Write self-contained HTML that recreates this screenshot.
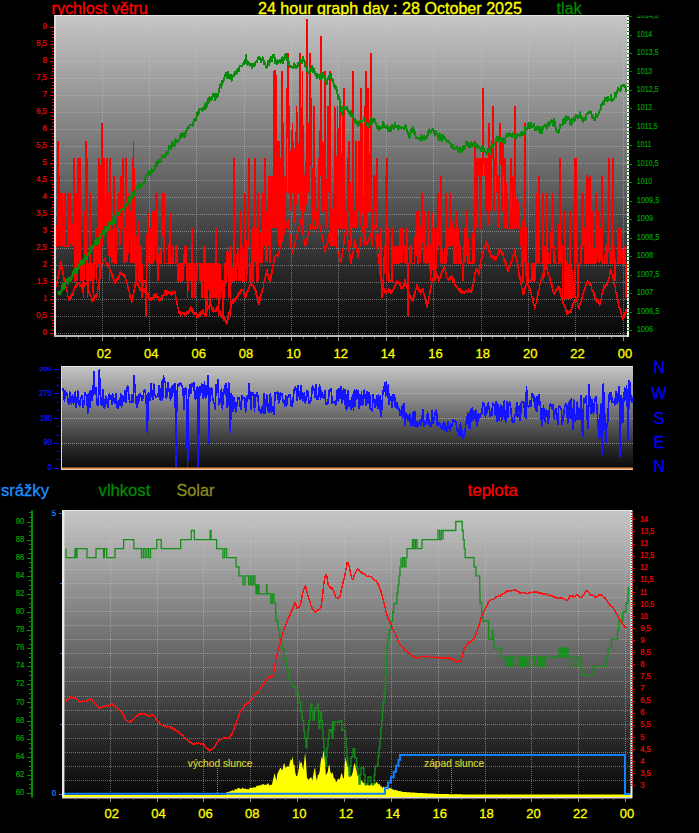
<!DOCTYPE html>
<html lang="cs"><head><meta charset="utf-8"><title>24 hour graph</title><style>html,body{margin:0;padding:0;background:#000;overflow:hidden}svg{display:block}</style></head><body>
<svg width="699" height="833" viewBox="0 0 699 833" font-family="Liberation Sans, Arial, Helvetica, sans-serif">
<defs>
<linearGradient id="g1" x1="0" y1="0" x2="0" y2="1"><stop offset="0" stop-color="#c6c6c6"/><stop offset="0.5" stop-color="#666666"/><stop offset="0.8" stop-color="#282828"/><stop offset="1" stop-color="#060606"/></linearGradient>
</defs>
<rect width="699" height="833" fill="#000"/>
<rect x="54" y="15" width="575" height="322" fill="url(#g1)"/>
<rect x="54" y="15" width="575" height="1" fill="#e4e4e4"/>
<line x1="56" x2="627" y1="333.5" y2="333.5" stroke="#c8c8c8" stroke-opacity="0.48" stroke-width="1" stroke-dasharray="1,1" shape-rendering="crispEdges"/>
<line x1="56" x2="627" y1="316.5" y2="316.5" stroke="#c8c8c8" stroke-opacity="0.48" stroke-width="1" stroke-dasharray="1,1" shape-rendering="crispEdges"/>
<line x1="56" x2="627" y1="299.5" y2="299.5" stroke="#c8c8c8" stroke-opacity="0.48" stroke-width="1" stroke-dasharray="1,1" shape-rendering="crispEdges"/>
<line x1="56" x2="627" y1="282.5" y2="282.5" stroke="#c8c8c8" stroke-opacity="0.48" stroke-width="1" stroke-dasharray="1,1" shape-rendering="crispEdges"/>
<line x1="56" x2="627" y1="265.5" y2="265.5" stroke="#c8c8c8" stroke-opacity="0.48" stroke-width="1" stroke-dasharray="1,1" shape-rendering="crispEdges"/>
<line x1="56" x2="627" y1="248.5" y2="248.5" stroke="#c8c8c8" stroke-opacity="0.48" stroke-width="1" stroke-dasharray="1,1" shape-rendering="crispEdges"/>
<line x1="56" x2="627" y1="231.5" y2="231.5" stroke="#c8c8c8" stroke-opacity="0.48" stroke-width="1" stroke-dasharray="1,1" shape-rendering="crispEdges"/>
<line x1="56" x2="627" y1="214.5" y2="214.5" stroke="#c8c8c8" stroke-opacity="0.48" stroke-width="1" stroke-dasharray="1,1" shape-rendering="crispEdges"/>
<line x1="56" x2="627" y1="197.5" y2="197.5" stroke="#c8c8c8" stroke-opacity="0.48" stroke-width="1" stroke-dasharray="1,1" shape-rendering="crispEdges"/>
<line x1="56" x2="627" y1="180.5" y2="180.5" stroke="#c8c8c8" stroke-opacity="0.48" stroke-width="1" stroke-dasharray="1,1" shape-rendering="crispEdges"/>
<line x1="56" x2="627" y1="163.5" y2="163.5" stroke="#c8c8c8" stroke-opacity="0.48" stroke-width="1" stroke-dasharray="1,1" shape-rendering="crispEdges"/>
<line x1="56" x2="627" y1="146.5" y2="146.5" stroke="#c8c8c8" stroke-opacity="0.48" stroke-width="1" stroke-dasharray="1,1" shape-rendering="crispEdges"/>
<line x1="56" x2="627" y1="129.5" y2="129.5" stroke="#c8c8c8" stroke-opacity="0.48" stroke-width="1" stroke-dasharray="1,1" shape-rendering="crispEdges"/>
<line x1="56" x2="627" y1="112.5" y2="112.5" stroke="#c8c8c8" stroke-opacity="0.48" stroke-width="1" stroke-dasharray="1,1" shape-rendering="crispEdges"/>
<line x1="56" x2="627" y1="95.5" y2="95.5" stroke="#c8c8c8" stroke-opacity="0.48" stroke-width="1" stroke-dasharray="1,1" shape-rendering="crispEdges"/>
<line x1="56" x2="627" y1="78.5" y2="78.5" stroke="#c8c8c8" stroke-opacity="0.48" stroke-width="1" stroke-dasharray="1,1" shape-rendering="crispEdges"/>
<line x1="56" x2="627" y1="61.5" y2="61.5" stroke="#c8c8c8" stroke-opacity="0.48" stroke-width="1" stroke-dasharray="1,1" shape-rendering="crispEdges"/>
<line x1="56" x2="627" y1="44.5" y2="44.5" stroke="#c8c8c8" stroke-opacity="0.48" stroke-width="1" stroke-dasharray="1,1" shape-rendering="crispEdges"/>
<line x1="56" x2="627" y1="27.5" y2="27.5" stroke="#c8c8c8" stroke-opacity="0.48" stroke-width="1" stroke-dasharray="1,1" shape-rendering="crispEdges"/>
<line y1="16" y2="335" x1="102.5" x2="102.5" stroke="#c8c8c8" stroke-opacity="0.48" stroke-width="1" stroke-dasharray="1,1" shape-rendering="crispEdges"/>
<line y1="16" y2="335" x1="149.5" x2="149.5" stroke="#c8c8c8" stroke-opacity="0.48" stroke-width="1" stroke-dasharray="1,1" shape-rendering="crispEdges"/>
<line y1="16" y2="335" x1="196.5" x2="196.5" stroke="#c8c8c8" stroke-opacity="0.48" stroke-width="1" stroke-dasharray="1,1" shape-rendering="crispEdges"/>
<line y1="16" y2="335" x1="244.5" x2="244.5" stroke="#c8c8c8" stroke-opacity="0.48" stroke-width="1" stroke-dasharray="1,1" shape-rendering="crispEdges"/>
<line y1="16" y2="335" x1="291.5" x2="291.5" stroke="#c8c8c8" stroke-opacity="0.48" stroke-width="1" stroke-dasharray="1,1" shape-rendering="crispEdges"/>
<line y1="16" y2="335" x1="338.5" x2="338.5" stroke="#c8c8c8" stroke-opacity="0.48" stroke-width="1" stroke-dasharray="1,1" shape-rendering="crispEdges"/>
<line y1="16" y2="335" x1="386.5" x2="386.5" stroke="#c8c8c8" stroke-opacity="0.48" stroke-width="1" stroke-dasharray="1,1" shape-rendering="crispEdges"/>
<line y1="16" y2="335" x1="433.5" x2="433.5" stroke="#c8c8c8" stroke-opacity="0.48" stroke-width="1" stroke-dasharray="1,1" shape-rendering="crispEdges"/>
<line y1="16" y2="335" x1="481.5" x2="481.5" stroke="#c8c8c8" stroke-opacity="0.48" stroke-width="1" stroke-dasharray="1,1" shape-rendering="crispEdges"/>
<line y1="16" y2="335" x1="528.5" x2="528.5" stroke="#c8c8c8" stroke-opacity="0.48" stroke-width="1" stroke-dasharray="1,1" shape-rendering="crispEdges"/>
<line y1="16" y2="335" x1="575.5" x2="575.5" stroke="#c8c8c8" stroke-opacity="0.48" stroke-width="1" stroke-dasharray="1,1" shape-rendering="crispEdges"/>
<line y1="16" y2="335" x1="623.5" x2="623.5" stroke="#c8c8c8" stroke-opacity="0.48" stroke-width="1" stroke-dasharray="1,1" shape-rendering="crispEdges"/>
<polyline fill="none" stroke="#ff0000" stroke-width="1.6" stroke-linejoin="miter" shape-rendering="crispEdges" points="55.4,228.3 56,245.8 56.6,245.8 57.2,245.8 57.8,140.9 58.4,245.8 59,175.9 59.6,228.3 60.2,193.4 60.8,245.8 61.4,193.4 61.9,193.4 62.5,245.8 63.1,228.3 63.7,245.8 64.3,245.8 64.9,193.4 65.5,245.8 66.1,245.8 66.7,245.8 67.3,245.8 67.9,193.4 68.5,245.8 69.1,245.8 69.7,245.8 70.3,193.4 70.9,210.8 71.5,210.8 72.1,245.8 72.7,228.3 73.3,245.8 73.9,158.4 74.5,245.8 75,280.8 75.6,280.8 76.2,193.4 76.8,280.8 77.4,263.3 78,158.4 78.6,245.8 79.2,263.3 79.8,158.4 80.4,263.3 81,280.8 81.6,263.3 82.2,263.3 82.8,263.3 83.4,298.2 84,263.3 84.6,263.3 85.2,228.3 85.8,140.9 86.4,280.8 87,158.4 87.6,298.2 88.1,280.8 88.7,263.3 89.3,280.8 89.9,193.4 90.5,280.8 91.1,263.3 91.7,263.3 92.3,280.8 92.9,280.8 93.5,298.2 94.1,245.8 94.7,263.3 95.3,245.8 95.9,228.3 96.5,280.8 97.1,245.8 97.7,263.3 98.3,263.3 98.9,158.4 99.5,298.2 100.1,245.8 100.7,228.3 101.2,175.9 101.8,123.4 102.4,245.8 103,193.4 103.6,193.4 104.2,158.4 104.8,210.8 105.4,228.3 106,228.3 106.6,193.4 107.2,158.4 107.8,245.8 108.4,193.4 109,228.3 109.6,280.8 110.2,158.4 110.8,228.3 111.4,193.4 112,263.3 112.6,245.8 113.2,263.3 113.8,175.9 114.3,245.8 114.9,263.3 115.5,263.3 116.1,263.3 116.7,228.3 117.3,245.8 117.9,210.8 118.5,228.3 119.1,193.4 119.7,245.8 120.3,210.8 120.9,175.9 121.5,210.8 122.1,228.3 122.7,228.3 123.3,158.4 123.9,263.3 124.5,228.3 125.1,263.3 125.7,228.3 126.3,158.4 126.8,245.8 127.4,263.3 128,245.8 128.6,193.4 129.2,228.3 129.8,210.8 130.4,245.8 131,263.3 131.6,228.3 132.2,245.8 132.8,263.3 133.4,140.9 134,193.4 134.6,263.3 135.2,210.8 135.8,280.8 136.4,263.3 137,263.3 137.6,210.8 138.2,263.3 138.8,280.8 139.4,210.8 139.9,280.8 140.5,280.8 141.1,245.8 141.7,263.3 142.3,298.2 142.9,280.8 143.5,280.8 144.1,280.8 144.7,280.8 145.3,280.8 145.9,315.7 146.5,280.8 147.1,245.8 147.7,210.8 148.3,263.3 148.9,228.3 149.5,245.8 150.1,228.3 150.7,263.3 151.3,263.3 151.9,263.3 152.5,210.8 153,245.8 153.6,263.3 154.2,245.8 154.8,210.8 155.4,245.8 156,193.4 156.6,263.3 157.2,193.4 157.8,280.8 158.4,263.3 159,263.3 159.6,245.8 160.2,263.3 160.8,263.3 161.4,263.3 162,210.8 162.6,193.4 163.2,210.8 163.8,193.4 164.4,263.3 165,263.3 165.6,263.3 166.1,263.3 166.7,263.3 167.3,263.3 167.9,263.3 168.5,263.3 169.1,263.3 169.7,210.8 170.3,263.3 170.9,263.3 171.5,263.3 172.1,263.3 172.7,245.8 173.3,263.3 173.9,263.3 174.5,263.3 175.1,263.3 175.7,263.3 176.3,245.8 176.9,245.8 177.5,263.3 178.1,280.8 178.7,280.8 179.2,263.3 179.8,263.3 180.4,263.3 181,280.8 181.6,280.8 182.2,263.3 182.8,280.8 183.4,263.3 184,263.3 184.6,245.8 185.2,263.3 185.8,245.8 186.4,263.3 187,263.3 187.6,298.2 188.2,263.3 188.8,263.3 189.4,263.3 190,280.8 190.6,263.3 191.2,280.8 191.8,228.3 192.3,298.2 192.9,263.3 193.5,280.8 194.1,263.3 194.7,263.3 195.3,298.2 195.9,263.3 196.5,263.3 197.1,280.8 197.7,263.3 198.3,263.3 198.9,263.3 199.5,263.3 200.1,280.8 200.7,263.3 201.3,263.3 201.9,298.2 202.5,263.3 203.1,280.8 203.7,263.3 204.3,245.8 204.8,298.2 205.4,245.8 206,315.7 206.6,315.7 207.2,263.3 207.8,280.8 208.4,280.8 209,263.3 209.6,315.7 210.2,263.3 210.8,263.3 211.4,298.2 212,263.3 212.6,280.8 213.2,298.2 213.8,263.3 214.4,263.3 215,298.2 215.6,263.3 216.2,228.3 216.8,298.2 217.4,280.8 217.9,263.3 218.5,315.7 219.1,280.8 219.7,263.3 220.3,298.2 220.9,280.8 221.5,280.8 222.1,280.8 222.7,315.7 223.3,315.7 223.9,280.8 224.5,298.2 225.1,263.3 225.7,280.8 226.3,280.8 226.9,263.3 227.5,245.8 228.1,263.3 228.7,298.2 229.3,263.3 229.9,245.8 230.5,315.7 231,245.8 231.6,263.3 232.2,280.8 232.8,280.8 233.4,280.8 234,158.4 234.6,280.8 235.2,263.3 235.8,280.8 236.4,263.3 237,263.3 237.6,245.8 238.2,263.3 238.8,280.8 239.4,263.3 240,280.8 240.6,245.8 241.2,210.8 241.8,280.8 242.4,245.8 243,280.8 243.6,280.8 244.1,280.8 244.7,193.4 245.3,228.3 245.9,245.8 246.5,280.8 247.1,263.3 247.7,245.8 248.3,245.8 248.9,158.4 249.5,280.8 250.1,280.8 250.7,280.8 251.3,263.3 251.9,228.3 252.5,280.8 253.1,280.8 253.7,263.3 254.3,228.3 254.9,158.4 255.5,263.3 256.1,228.3 256.7,280.8 257.2,280.8 257.8,193.4 258.4,280.8 259,245.8 259.6,263.3 260.2,245.8 260.8,263.3 261.4,228.3 262,228.3 262.6,263.3 263.2,193.4 263.8,228.3 264.4,245.8 265,158.4 265.6,263.3 266.2,210.8 266.8,245.8 267.4,263.3 268,228.3 268.6,245.8 269.2,175.9 269.8,228.3 270.3,263.3 270.9,175.9 271.5,210.8 272.1,228.3 272.7,175.9 273.3,210.8 273.9,71 274.5,228.3 275.1,71 275.7,71 276.3,228.3 276.9,140.9 277.5,228.3 278.1,228.3 278.7,245.8 279.3,140.9 279.9,228.3 280.5,245.8 281.1,158.4 281.7,245.8 282.3,71 282.8,193.4 283.4,123.4 284,228.3 284.6,210.8 285.2,210.8 285.8,175.9 286.4,193.4 287,88.5 287.6,88.5 288.2,53.5 288.8,193.4 289.4,106 290,193.4 290.6,175.9 291.2,210.8 291.8,175.9 292.4,123.4 293,193.4 293.6,140.9 294.2,175.9 294.8,193.4 295.4,228.3 295.9,193.4 296.5,106 297.1,123.4 297.7,140.9 298.3,193.4 298.9,193.4 299.5,193.4 300.1,53.5 300.7,210.8 301.3,140.9 301.9,193.4 302.5,71 303.1,228.3 303.7,175.9 304.3,175.9 304.9,210.8 305.5,210.8 306.1,193.4 306.7,106 307.3,18.6 307.9,193.4 308.5,123.4 309,123.4 309.6,193.4 310.2,53.5 310.8,106 311.4,123.4 312,210.8 312.6,210.8 313.2,228.3 313.8,106 314.4,140.9 315,210.8 315.6,228.3 316.2,228.3 316.8,210.8 317.4,228.3 318,210.8 318.6,210.8 319.2,158.4 319.8,175.9 320.4,123.4 321,36 321.6,210.8 322.1,210.8 322.7,140.9 323.3,193.4 323.9,210.8 324.5,193.4 325.1,71 325.7,193.4 326.3,210.8 326.9,228.3 327.5,158.4 328.1,106 328.7,193.4 329.3,106 329.9,71 330.5,210.8 331.1,245.8 331.7,228.3 332.3,210.8 332.9,245.8 333.5,193.4 334.1,245.8 334.7,106 335.2,140.9 335.8,158.4 336.4,245.8 337,228.3 337.6,106 338.2,228.3 338.8,228.3 339.4,123.4 340,106 340.6,228.3 341.2,228.3 341.8,228.3 342.4,140.9 343,106 343.6,210.8 344.2,88.5 344.8,228.3 345.4,228.3 346,228.3 346.6,228.3 347.2,228.3 347.7,158.4 348.3,210.8 348.9,140.9 349.5,158.4 350.1,228.3 350.7,245.8 351.3,245.8 351.9,193.4 352.5,228.3 353.1,71 353.7,228.3 354.3,210.8 354.9,228.3 355.5,210.8 356.1,140.9 356.7,210.8 357.3,228.3 357.9,193.4 358.5,210.8 359.1,140.9 359.7,228.3 360.3,175.9 360.8,88.5 361.4,210.8 362,123.4 362.6,193.4 363.2,210.8 363.8,228.3 364.4,245.8 365,106 365.6,210.8 366.2,71 366.8,228.3 367.4,158.4 368,88.5 368.6,140.9 369.2,210.8 369.8,210.8 370.4,193.4 371,53.5 371.6,228.3 372.2,245.8 372.8,210.8 373.4,210.8 373.9,175.9 374.5,175.9 375.1,210.8 375.7,175.9 376.3,228.3 376.9,158.4 377.5,228.3 378.1,245.8 378.7,245.8 379.3,245.8 379.9,263.3 380.5,280.8 381.1,228.3 381.7,280.8 382.3,298.2 382.9,280.8 383.5,280.8 384.1,263.3 384.7,245.8 385.3,263.3 385.9,175.9 386.5,280.8 387,158.4 387.6,228.3 388.2,228.3 388.8,280.8 389.4,280.8 390,280.8 390.6,280.8 391.2,280.8 391.8,280.8 392.4,228.3 393,263.3 393.6,263.3 394.2,263.3 394.8,245.8 395.4,263.3 396,245.8 396.6,263.3 397.2,263.3 397.8,263.3 398.4,245.8 399,263.3 399.6,263.3 400.1,228.3 400.7,245.8 401.3,263.3 401.9,245.8 402.5,263.3 403.1,228.3 403.7,245.8 404.3,245.8 404.9,263.3 405.5,245.8 406.1,263.3 406.7,263.3 407.3,228.3 407.9,315.7 408.5,263.3 409.1,263.3 409.7,263.3 410.3,245.8 410.9,245.8 411.5,263.3 412.1,263.3 412.6,263.3 413.2,263.3 413.8,263.3 414.4,263.3 415,245.8 415.6,228.3 416.2,245.8 416.8,210.8 417.4,263.3 418,263.3 418.6,245.8 419.2,210.8 419.8,228.3 420.4,263.3 421,245.8 421.6,245.8 422.2,193.4 422.8,228.3 423.4,245.8 424,263.3 424.6,210.8 425.2,228.3 425.7,263.3 426.3,263.3 426.9,245.8 427.5,263.3 428.1,245.8 428.7,210.8 429.3,263.3 429.9,245.8 430.5,280.8 431.1,263.3 431.7,210.8 432.3,263.3 432.9,245.8 433.5,280.8 434.1,228.3 434.7,263.3 435.3,280.8 435.9,263.3 436.5,263.3 437.1,228.3 437.7,228.3 438.3,193.4 438.8,245.8 439.4,210.8 440,228.3 440.6,263.3 441.2,175.9 441.8,263.3 442.4,263.3 443,263.3 443.6,263.3 444.2,263.3 444.8,263.3 445.4,245.8 446,193.4 446.6,263.3 447.2,228.3 447.8,228.3 448.4,245.8 449,245.8 449.6,228.3 450.2,193.4 450.8,245.8 451.4,210.8 451.9,228.3 452.5,245.8 453.1,228.3 453.7,263.3 454.3,263.3 454.9,228.3 455.5,263.3 456.1,263.3 456.7,210.8 457.3,245.8 457.9,228.3 458.5,228.3 459.1,263.3 459.7,263.3 460.3,245.8 460.9,263.3 461.5,263.3 462.1,263.3 462.7,263.3 463.3,280.8 463.9,245.8 464.5,263.3 465,228.3 465.6,263.3 466.2,228.3 466.8,210.8 467.4,210.8 468,263.3 468.6,263.3 469.2,245.8 469.8,263.3 470.4,263.3 471,263.3 471.6,263.3 472.2,263.3 472.8,263.3 473.4,228.3 474,263.3 474.6,193.4 475.2,140.9 475.8,210.8 476.4,158.4 477,228.3 477.6,158.4 478.1,175.9 478.7,158.4 479.3,175.9 479.9,158.4 480.5,228.3 481.1,228.3 481.7,158.4 482.3,175.9 482.9,88.5 483.5,158.4 484.1,158.4 484.7,175.9 485.3,158.4 485.9,210.8 486.5,158.4 487.1,158.4 487.7,228.3 488.3,158.4 488.9,123.4 489.5,228.3 490.1,158.4 490.6,210.8 491.2,158.4 491.8,140.9 492.4,158.4 493,106 493.6,175.9 494.2,210.8 494.8,158.4 495.4,175.9 496,140.9 496.6,175.9 497.2,193.4 497.8,175.9 498.4,175.9 499,228.3 499.6,175.9 500.2,123.4 500.8,140.9 501.4,158.4 502,210.8 502.6,175.9 503.2,140.9 503.7,175.9 504.3,158.4 504.9,228.3 505.5,158.4 506.1,228.3 506.7,193.4 507.3,228.3 507.9,228.3 508.5,228.3 509.1,228.3 509.7,228.3 510.3,228.3 510.9,158.4 511.5,175.9 512.1,193.4 512.7,175.9 513.3,228.3 513.9,228.3 514.5,228.3 515.1,106 515.7,210.8 516.3,210.8 516.8,228.3 517.4,193.4 518,210.8 518.6,210.8 519.2,228.3 519.8,228.3 520.4,228.3 521,245.8 521.6,210.8 522.2,263.3 522.8,280.8 523.4,280.8 524,245.8 524.6,263.3 525.2,123.4 525.8,245.8 526.4,280.8 527,263.3 527.6,280.8 528.2,263.3 528.8,280.8 529.4,280.8 529.9,280.8 530.5,280.8 531.1,280.8 531.7,280.8 532.3,263.3 532.9,280.8 533.5,263.3 534.1,280.8 534.7,280.8 535.3,263.3 535.9,263.3 536.5,193.4 537.1,263.3 537.7,263.3 538.3,245.8 538.9,175.9 539.5,263.3 540.1,263.3 540.7,263.3 541.3,263.3 541.9,263.3 542.5,263.3 543,193.4 543.6,280.8 544.2,263.3 544.8,245.8 545.4,263.3 546,263.3 546.6,263.3 547.2,193.4 547.8,263.3 548.4,263.3 549,263.3 549.6,263.3 550.2,263.3 550.8,245.8 551.4,228.3 552,245.8 552.6,193.4 553.2,245.8 553.8,263.3 554.4,245.8 555,263.3 555.5,263.3 556.1,263.3 556.7,263.3 557.3,263.3 557.9,263.3 558.5,263.3 559.1,263.3 559.7,158.4 560.3,245.8 560.9,263.3 561.5,245.8 562.1,245.8 562.7,298.2 563.3,298.2 563.9,298.2 564.5,298.2 565.1,210.8 565.7,298.2 566.3,298.2 566.9,298.2 567.5,245.8 568.1,298.2 568.6,298.2 569.2,298.2 569.8,210.8 570.4,298.2 571,298.2 571.6,263.3 572.2,298.2 572.8,280.8 573.4,298.2 574,280.8 574.6,298.2 575.2,158.4 575.8,158.4 576.4,263.3 577,210.8 577.6,263.3 578.2,298.2 578.8,263.3 579.4,263.3 580,263.3 580.6,263.3 581.2,263.3 581.7,193.4 582.3,245.8 582.9,193.4 583.5,245.8 584.1,245.8 584.7,228.3 585.3,263.3 585.9,263.3 586.5,263.3 587.1,175.9 587.7,175.9 588.3,263.3 588.9,263.3 589.5,263.3 590.1,175.9 590.7,245.8 591.3,263.3 591.9,263.3 592.5,263.3 593.1,210.8 593.7,263.3 594.3,263.3 594.8,263.3 595.4,245.8 596,193.4 596.6,263.3 597.2,210.8 597.8,228.3 598.4,263.3 599,210.8 599.6,263.3 600.2,228.3 600.8,245.8 601.4,263.3 602,175.9 602.6,263.3 603.2,263.3 603.8,263.3 604.4,263.3 605,263.3 605.6,245.8 606.2,245.8 606.8,263.3 607.4,263.3 607.9,245.8 608.5,228.3 609.1,158.4 609.7,263.3 610.3,263.3 610.9,263.3 611.5,245.8 612.1,263.3 612.7,158.4 613.3,263.3 613.9,263.3 614.5,245.8 615.1,280.8 615.7,263.3 616.3,263.3 616.9,263.3 617.5,263.3 618.1,228.3 618.7,263.3 619.3,263.3 619.9,263.3 620.5,228.3 621,228.3 621.6,245.8 622.2,263.3 622.8,263.3 623.4,263.3 624,263.3 624.6,263.3 625.2,245.8 625.8,298.2 626.4,263.3 627,263.3"/>
<polyline fill="none" stroke="#ff0000" stroke-width="1.5" stroke-linejoin="round" shape-rendering="crispEdges" points="55.4,287.8 55.8,285.7 56.2,286.7 56.6,285.1 57,281.9 57.4,279.9 57.8,279 58.2,276.6 58.6,276.6 59,272 59.4,269.7 59.8,270.1 60.2,264.9 60.6,264.6 61,261.5 61.4,265.2 61.8,266.1 62.1,269.1 62.5,268.7 62.9,272.9 63.3,274.7 63.7,276.2 64.1,279.6 64.5,281.9 64.9,281 65.3,283.6 65.7,285.7 66.1,286.8 66.5,288 66.9,290.7 67.3,292.1 67.7,296 68.1,296.7 68.5,297.1 68.9,299.8 69.3,300.3 69.7,299 70.1,297.4 70.5,296.2 70.9,295.2 71.3,298.5 71.7,296.7 72.1,293.1 72.5,295 72.9,295.3 73.3,292.6 73.7,289.7 74.1,290.3 74.5,289.1 74.9,287.1 75.2,287.6 75.6,284.3 76,287.2 76.4,285 76.8,283.9 77.2,285 77.6,284.1 78,282.8 78.4,283.1 78.8,282.9 79.2,282.8 79.6,286.2 80,286.8 80.4,284.9 80.8,284.7 81.2,286.9 81.6,288.1 82,288.8 82.4,285.3 82.8,287.6 83.2,287.4 83.6,286.8 84,284.7 84.4,283.8 84.8,286.1 85.2,283.7 85.6,283.6 86,284 86.4,283 86.8,284.6 87.2,282.5 87.6,283.1 87.9,286.7 88.3,288.4 88.7,290.6 89.1,291.6 89.5,293.8 89.9,295.4 90.3,295 90.7,296.4 91.1,296.4 91.5,298.4 91.9,301 92.3,298.9 92.7,300.9 93.1,298.3 93.5,299 93.9,300.7 94.3,296.5 94.7,295.8 95.1,297 95.5,295.5 95.9,297.3 96.3,293.8 96.7,296.8 97.1,295.9 97.5,292.9 97.9,288.6 98.3,285.2 98.7,284 99.1,280.6 99.5,277.4 99.9,274.3 100.3,272 100.7,270.1 101,268.3 101.4,267.8 101.8,263.9 102.2,263.7 102.6,263.5 103,263.2 103.4,261.5 103.8,260.1 104.2,258.8 104.6,259 105,258.9 105.4,261.8 105.8,262.3 106.2,263 106.6,264.2 107,264.9 107.4,264.3 107.8,265.9 108.2,263.5 108.6,266.9 109,267.4 109.4,266.9 109.8,268.9 110.2,271.4 110.6,270.6 111,272.5 111.4,272.3 111.8,273.6 112.2,277.1 112.6,274.7 113,276.6 113.4,279.8 113.8,280 114.1,279.7 114.5,283.3 114.9,283.3 115.3,283.7 115.7,282.3 116.1,282 116.5,281.5 116.9,280 117.3,278.1 117.7,277.7 118.1,279.9 118.5,277.8 118.9,275.2 119.3,277.6 119.7,274.3 120.1,272.9 120.5,274 120.9,272.1 121.3,273.3 121.7,274.1 122.1,273.2 122.5,275.1 122.9,273.6 123.3,275.8 123.7,276.6 124.1,274.9 124.5,276.8 124.9,275.8 125.3,277.9 125.7,280.1 126.1,279.4 126.5,281.7 126.8,283.5 127.2,282.4 127.6,287.6 128,288.1 128.4,287.1 128.8,291.7 129.2,291.5 129.6,292.1 130,297 130.4,297 130.8,299.4 131.2,298.3 131.6,302.6 132,301.1 132.4,299.6 132.8,297.8 133.2,294.1 133.6,294.2 134,290.3 134.4,288.4 134.8,287.8 135.2,284.4 135.6,284 136,280.6 136.4,282.4 136.8,282 137.2,284.4 137.6,285.1 138,283 138.4,286.3 138.8,285.5 139.2,288.2 139.6,288.8 139.9,290.3 140.3,287.5 140.7,288.7 141.1,290.4 141.5,291.4 141.9,290.6 142.3,287.9 142.7,290.3 143.1,288.4 143.5,290.4 143.9,291.6 144.3,288.8 144.7,292.4 145.1,291.4 145.5,289.8 145.9,289.7 146.3,291.5 146.7,294 147.1,293.8 147.5,292.7 147.9,293.2 148.3,294.5 148.7,298.3 149.1,296.6 149.5,299 149.9,298.8 150.3,300.6 150.7,298.9 151.1,297.6 151.5,300.4 151.9,298.6 152.3,298.9 152.7,299.1 153,299.3 153.4,295.1 153.8,296.1 154.2,295 154.6,296.1 155,297.4 155.4,296.7 155.8,293.2 156.2,294 156.6,297.3 157,297.3 157.4,296.7 157.8,297.6 158.2,296.9 158.6,300.4 159,299.1 159.4,301.7 159.8,301.2 160.2,298.9 160.6,299.3 161,298.2 161.4,300.4 161.8,298.5 162.2,295.6 162.6,295.5 163,295.7 163.4,295.5 163.8,295.3 164.2,293.9 164.6,293.1 165,291 165.4,293.3 165.8,292.3 166.1,291 166.5,292.8 166.9,295 167.3,291.1 167.7,291.5 168.1,293.7 168.5,292 168.9,292 169.3,293 169.7,292 170.1,293.3 170.5,293 170.9,294.7 171.3,294.8 171.7,290.7 172.1,292.8 172.5,293.6 172.9,294 173.3,293.5 173.7,292.8 174.1,292.7 174.5,291.5 174.9,291.1 175.3,294.7 175.7,297.1 176.1,299.5 176.5,300.5 176.9,301 177.3,305 177.7,307 178.1,308.1 178.5,310.7 178.8,311.6 179.2,313.3 179.6,312.8 180,311.5 180.4,312.7 180.8,312.8 181.2,315.7 181.6,313.7 182,313.3 182.4,312.9 182.8,313 183.2,313.6 183.6,312.8 184,312.4 184.4,316.1 184.8,314.5 185.2,314.5 185.6,315.2 186,314.2 186.4,313.1 186.8,312.1 187.2,312.5 187.6,312 188,313.2 188.4,311.9 188.8,313 189.2,309.9 189.6,311.8 190,309.8 190.4,307.1 190.8,307 191.2,308.6 191.6,310.9 191.9,308.8 192.3,311.2 192.7,310.3 193.1,312.8 193.5,310 193.9,312.3 194.3,314.7 194.7,312.6 195.1,313.2 195.5,312.8 195.9,314 196.3,315 196.7,317.4 197.1,315.7 197.5,316.1 197.9,314.8 198.3,316.1 198.7,316.8 199.1,315.5 199.5,313.2 199.9,315.1 200.3,315.7 200.7,313.7 201.1,311.2 201.5,313.8 201.9,313.7 202.3,311.1 202.7,309.8 203.1,309.8 203.5,312.1 203.9,314.3 204.3,314.1 204.7,316.1 205,313.7 205.4,313.4 205.8,314.4 206.2,313.1 206.6,311.3 207,311.7 207.4,309.5 207.8,307.5 208.2,308.2 208.6,305.8 209,307.5 209.4,305.5 209.8,305.4 210.2,305.7 210.6,304.9 211,306.4 211.4,305.2 211.8,309.7 212.2,308.8 212.6,311.2 213,307.9 213.4,310.9 213.8,312 214.2,311 214.6,310.6 215,311.5 215.4,310.4 215.8,311.8 216.2,307.8 216.6,309.6 217,306.8 217.4,307.8 217.8,308.7 218.1,309.3 218.5,310.4 218.9,310.9 219.3,310.5 219.7,312.9 220.1,311.6 220.5,314.2 220.9,315.2 221.3,315.9 221.7,314.7 222.1,317.3 222.5,318.6 222.9,316.9 223.3,316.6 223.7,318.1 224.1,320.4 224.5,317.5 224.9,317.4 225.3,319.8 225.7,321.1 226.1,322.1 226.5,320.8 226.9,323.9 227.3,319.8 227.7,320.5 228.1,316.2 228.5,314.4 228.9,313.4 229.3,311.6 229.7,311.9 230.1,310.6 230.5,307.5 230.8,309.2 231.2,305.3 231.6,302.9 232,301.6 232.4,303.5 232.8,303.8 233.2,300.1 233.6,299.1 234,301.7 234.4,299 234.8,301.6 235.2,299.1 235.6,299.2 236,297.5 236.4,299 236.8,297.1 237.2,295.9 237.6,297.7 238,293.8 238.4,295.8 238.8,292.3 239.2,294.1 239.6,292.5 240,293.8 240.4,289.8 240.8,291.2 241.2,289.9 241.6,291.5 242,290.9 242.4,290.5 242.8,289.9 243.2,291 243.6,292.1 243.9,293.9 244.3,294.1 244.7,295.1 245.1,297.8 245.5,296.3 245.9,294 246.3,296 246.7,291.8 247.1,292.3 247.5,289.7 247.9,291.7 248.3,290.8 248.7,287.4 249.1,288.5 249.5,287.8 249.9,284.6 250.3,283.9 250.7,283.6 251.1,284.8 251.5,282.3 251.9,285.1 252.3,285.3 252.7,285.3 253.1,286.5 253.5,288.3 253.9,286.1 254.3,289.5 254.7,287.9 255.1,290.4 255.5,292.1 255.9,290.7 256.3,294.9 256.7,296.9 257,295.3 257.4,295.6 257.8,297.3 258.2,302.3 258.6,299.7 259,304.6 259.4,299.8 259.8,300.7 260.2,296.4 260.6,295.1 261,295.7 261.4,291.6 261.8,291.1 262.2,291.9 262.6,289.5 263,288.6 263.4,287.4 263.8,281.9 264.2,281.1 264.6,281.9 265,279.8 265.4,275.5 265.8,275.9 266.2,273.2 266.6,272.4 267,269.5 267.4,270.5 267.8,276.1 268.2,274.9 268.6,278.8 269,277.2 269.4,280.4 269.8,280.5 270.1,281.9 270.5,278.6 270.9,278.5 271.3,274 271.7,274.3 272.1,271.1 272.5,267.2 272.9,266 273.3,264.4 273.7,263.9 274.1,259.3 274.5,256.5 274.9,257.5 275.3,256.8 275.7,256.4 276.1,254.8 276.5,254.6 276.9,255.3 277.3,254.7 277.7,254.9 278.1,256.7 278.5,254.5 278.9,253.4 279.3,250.8 279.7,247.6 280.1,248.7 280.5,246.8 280.9,244.6 281.3,242.9 281.7,241.7 282.1,241.2 282.5,239 282.8,236.6 283.2,233.9 283.6,232.4 284,231.7 284.4,233 284.8,229.4 285.2,228.3 285.6,227.3 286,225 286.4,227.5 286.8,222.2 287.2,223.6 287.6,223.9 288,220 288.4,224.7 288.8,226.9 289.2,229.5 289.6,232.5 290,235.3 290.4,241.6 290.8,244.5 291.2,248.2 291.6,247.8 292,253.6 292.4,250.9 292.8,250.8 293.2,249 293.6,246.6 294,247.9 294.4,242.4 294.8,244.1 295.2,243.1 295.6,240.3 295.9,239.2 296.3,239.4 296.7,234.8 297.1,235 297.5,233.9 297.9,230.8 298.3,230.6 298.7,227.6 299.1,226.6 299.5,225.4 299.9,224.1 300.3,221 300.7,220.7 301.1,219.9 301.5,221.4 301.9,225.8 302.3,227.1 302.7,232.6 303.1,233.5 303.5,237.4 303.9,239.3 304.3,241.9 304.7,243.6 305.1,245.2 305.5,246.9 305.9,243.6 306.3,242 306.7,240.5 307.1,240.1 307.5,236.1 307.9,234.2 308.3,235.3 308.7,232.2 309,231.4 309.4,230.6 309.8,229.3 310.2,228.6 310.6,225.2 311,226.7 311.4,228.7 311.8,228.7 312.2,225.9 312.6,226.1 313,226.6 313.4,226 313.8,227.2 314.2,229.1 314.6,228 315,227.8 315.4,225.6 315.8,226.2 316.2,228 316.6,226 317,224.3 317.4,223.7 317.8,224.4 318.2,223.5 318.6,220.3 319,221.8 319.4,222.3 319.8,225 320.2,225.9 320.6,228.5 321,230.4 321.4,232.7 321.7,233.2 322.1,236 322.5,239.6 322.9,239.5 323.3,242.1 323.7,246.4 324.1,246.6 324.5,248.8 324.9,250.5 325.3,252.2 325.7,247.5 326.1,248.3 326.5,247.7 326.9,243.4 327.3,242.8 327.7,242.8 328.1,240.5 328.5,238 328.9,235.1 329.3,235.2 329.7,233.4 330.1,233.3 330.5,230 330.9,228.9 331.3,228.4 331.7,227.6 332.1,224.7 332.5,226.6 332.9,229.2 333.3,232.5 333.7,231.2 334.1,236.2 334.5,236.9 334.8,237.3 335.2,240.3 335.6,240.7 336,241.4 336.4,245.8 336.8,245.8 337.2,248 337.6,249.5 338,252.8 338.4,253.8 338.8,252.3 339.2,256.3 339.6,257.3 340,258.9 340.4,262.1 340.8,261.9 341.2,261.4 341.6,260.3 342,255.6 342.4,252.9 342.8,250.2 343.2,248.6 343.6,245.1 344,242.6 344.4,238.3 344.8,233.9 345.2,233.7 345.6,230.3 346,228.4 346.4,230.8 346.8,231 347.2,234.4 347.6,236.7 347.9,242.7 348.3,242.7 348.7,245.6 349.1,251.3 349.5,253.4 349.9,254.2 350.3,259.8 350.7,262.9 351.1,263.2 351.5,258.9 351.9,259.1 352.3,255.4 352.7,253.7 353.1,252.9 353.5,249.7 353.9,247.4 354.3,241.9 354.7,240.2 355.1,239.6 355.5,239.9 355.9,246.4 356.3,245.8 356.7,248.1 357.1,250.7 357.5,252.8 357.9,257.7 358.3,255.6 358.7,253.1 359.1,250.3 359.5,246.4 359.9,245 360.3,245 360.7,242.4 361,240.2 361.4,235.3 361.8,232.7 362.2,229.7 362.6,229.3 363,226.6 363.4,228.8 363.8,230.7 364.2,232.9 364.6,233.7 365,237.3 365.4,236.6 365.8,241.4 366.2,241.7 366.6,241.3 367,244.2 367.4,243.9 367.8,242.2 368.2,241.7 368.6,239.5 369,238.1 369.4,239.1 369.8,235.8 370.2,236.4 370.6,235.5 371,233.5 371.4,232.3 371.8,233.7 372.2,231 372.6,232.2 373,228.2 373.4,229.2 373.7,229.5 374.1,226.4 374.5,229.2 374.9,225.3 375.3,230.6 375.7,232.5 376.1,239.3 376.5,241.5 376.9,246.2 377.3,248.7 377.7,253.1 378.1,256.4 378.5,257.2 378.9,259.2 379.3,264.3 379.7,263.7 380.1,269.4 380.5,268.8 380.9,270.7 381.3,273 381.7,278.3 382.1,281.3 382.5,280.9 382.9,283.8 383.3,283.9 383.7,288.5 384.1,289.4 384.5,289.1 384.9,290.5 385.3,293.6 385.7,290.6 386.1,293.6 386.5,291 386.8,290.5 387.2,291.7 387.6,290.3 388,291 388.4,289 388.8,291.9 389.2,289.5 389.6,292.1 390,289.6 390.4,292.7 390.8,293.8 391.2,291.8 391.6,290.7 392,292.5 392.4,292.6 392.8,289.9 393.2,290.3 393.6,287.5 394,288.1 394.4,288.2 394.8,286 395.2,286.1 395.6,282.8 396,284.8 396.4,280.9 396.8,283.3 397.2,283.3 397.6,283.4 398,282.1 398.4,281.5 398.8,282.1 399.2,284.2 399.6,283.5 399.9,285.8 400.3,283.1 400.7,285.7 401.1,288.3 401.5,288.1 401.9,288.8 402.3,287.9 402.7,287.7 403.1,286.8 403.5,288 403.9,286.3 404.3,282.3 404.7,283.8 405.1,279.4 405.5,283 405.9,285.8 406.3,284.5 406.7,288.3 407.1,288.4 407.5,287.1 407.9,289.5 408.3,291.3 408.7,291.7 409.1,295.1 409.5,294 409.9,297.8 410.3,296.5 410.7,296.1 411.1,298.7 411.5,297.2 411.9,299.7 412.3,301.2 412.6,300.9 413,300.7 413.4,297.4 413.8,297.9 414.2,294.7 414.6,295.5 415,291.8 415.4,292.2 415.8,289.8 416.2,288.4 416.6,288.1 417,284.6 417.4,285.3 417.8,289.3 418.2,287.4 418.6,290.2 419,291.1 419.4,290.1 419.8,289.4 420.2,289.9 420.6,293.9 421,291.4 421.4,292.4 421.8,292 422.2,289.6 422.6,290.5 423,288.6 423.4,291.7 423.8,293.3 424.2,294.4 424.6,295.4 425,297.9 425.4,298.8 425.7,300.1 426.1,302.3 426.5,306.6 426.9,306.8 427.3,307 427.7,301.3 428.1,303.2 428.5,299.3 428.9,298.6 429.3,295.7 429.7,294.2 430.1,290.3 430.5,290.5 430.9,286 431.3,284.8 431.7,282.2 432.1,282.2 432.5,281.1 432.9,278.5 433.3,279.5 433.7,274.5 434.1,275 434.5,272 434.9,271.9 435.3,272.8 435.7,273.4 436.1,271.6 436.5,273.2 436.9,275.6 437.3,278.1 437.7,275.1 438.1,278.4 438.5,279.6 438.8,281 439.2,278.7 439.6,279.8 440,277.3 440.4,278.3 440.8,273.5 441.2,276.5 441.6,273.3 442,272.4 442.4,270.1 442.8,269.8 443.2,270.9 443.6,269.7 444,266.6 444.4,268.5 444.8,268.7 445.2,270 445.6,271.2 446,272.8 446.4,276.6 446.8,277.8 447.2,278 447.6,277.8 448,278.9 448.4,280 448.8,280.3 449.2,279.5 449.6,278.8 450,276.8 450.4,278.3 450.8,279.1 451.2,278.6 451.6,275.5 451.9,277.9 452.3,277.1 452.7,277.1 453.1,281.2 453.5,280.8 453.9,281.9 454.3,280.1 454.7,283.8 455.1,285.1 455.5,285.7 455.9,285.9 456.3,286.8 456.7,287.2 457.1,286.9 457.5,286.7 457.9,288.9 458.3,289.3 458.7,290.2 459.1,288.2 459.5,291.4 459.9,290 460.3,292.2 460.7,289.1 461.1,293 461.5,292.7 461.9,290.8 462.3,293.7 462.7,291.5 463.1,291.7 463.5,292.5 463.9,291.3 464.3,292 464.6,293.5 465,292.2 465.4,292.1 465.8,290.4 466.2,291.8 466.6,291.5 467,290.8 467.4,291.9 467.8,291.5 468.2,289.9 468.6,288.6 469,291 469.4,291.9 469.8,289.9 470.2,291 470.6,292.1 471,292 471.4,288.8 471.8,290.9 472.2,287.9 472.6,286.1 473,286.9 473.4,283.1 473.8,281.7 474.2,278.9 474.6,276.2 475,273.5 475.4,271.9 475.8,271.7 476.2,269.7 476.6,268.9 477,268.5 477.4,269.8 477.7,272.2 478.1,271.6 478.5,273.1 478.9,274.2 479.3,269.6 479.7,269.7 480.1,264.9 480.5,266 480.9,261.1 481.3,259.3 481.7,260 482.1,255.3 482.5,252.5 482.9,253.1 483.3,250.6 483.7,250.8 484.1,247.6 484.5,247 484.9,247.9 485.3,244.9 485.7,245.9 486.1,241.9 486.5,245.5 486.9,243.7 487.3,246.2 487.7,244.9 488.1,246.6 488.5,250.8 488.9,249.7 489.3,252.1 489.7,250.7 490.1,252.1 490.5,252 490.8,254.9 491.2,256.7 491.6,255.6 492,255.3 492.4,257.9 492.8,258.1 493.2,257.5 493.6,255.3 494,257.9 494.4,257.5 494.8,260 495.2,257.8 495.6,259.4 496,259.5 496.4,257.5 496.8,257.1 497.2,256.7 497.6,256.7 498,254 498.4,252.5 498.8,254 499.2,249.2 499.6,251.5 500,249.8 500.4,250 500.8,250.3 501.2,252.4 501.6,253.8 502,253.9 502.4,254.8 502.8,252.6 503.2,254.8 503.6,255.2 503.9,259.9 504.3,260.9 504.7,259.1 505.1,262.2 505.5,263.4 505.9,262.5 506.3,265.2 506.7,268 507.1,268.8 507.5,268.5 507.9,271.8 508.3,269.2 508.7,269.2 509.1,267.5 509.5,268.7 509.9,266.2 510.3,265.7 510.7,264 511.1,261.7 511.5,263 511.9,260.8 512.3,259.6 512.7,256.7 513.1,255.1 513.5,255.7 513.9,255.6 514.3,254.3 514.7,251.3 515.1,249.8 515.5,253.6 515.9,257.3 516.3,256.5 516.6,261.1 517,260.9 517.4,263.6 517.8,264.7 518.2,268 518.6,270.5 519,275.1 519.4,277.3 519.8,276.2 520.2,278.9 520.6,283.8 521,282.8 521.4,285.5 521.8,288.2 522.2,289 522.6,291.8 523,294.6 523.4,293.1 523.8,294.2 524.2,289.9 524.6,288.2 525,289.8 525.4,286.5 525.8,286.7 526.2,284.5 526.6,283.7 527,280.3 527.4,280.6 527.8,284.4 528.2,284.4 528.6,285.9 529,287.6 529.4,289.1 529.7,288.3 530.1,289.9 530.5,293.4 530.9,292.9 531.3,293.5 531.7,296.5 532.1,296.5 532.5,300.2 532.9,298.8 533.3,303.7 533.7,304.2 534.1,304.8 534.5,308.9 534.9,307.7 535.3,306.3 535.7,303.5 536.1,303.5 536.5,302.3 536.9,299.9 537.3,296.7 537.7,296.3 538.1,291.3 538.5,290.1 538.9,289.4 539.3,288.7 539.7,285.3 540.1,283.6 540.5,282.8 540.9,280.1 541.3,281.3 541.7,279.3 542.1,276.5 542.5,275.6 542.8,276.2 543.2,273.2 543.6,271.4 544,273.1 544.4,270.6 544.8,269.4 545.2,268.9 545.6,268.7 546,264.5 546.4,266.7 546.8,266.8 547.2,269.6 547.6,271.2 548,274 548.4,274.5 548.8,275.4 549.2,276 549.6,278 550,278 550.4,281.8 550.8,283 551.2,284.6 551.6,283.1 552,286.6 552.4,288.4 552.8,288.7 553.2,291.8 553.6,293.2 554,293.9 554.4,293.9 554.8,292.7 555.2,293.2 555.5,289.6 555.9,291.5 556.3,291 556.7,290.2 557.1,288.3 557.5,286.9 557.9,288.7 558.3,289.2 558.7,286.4 559.1,286.3 559.5,287.9 559.9,289 560.3,293 560.7,295.8 561.1,296.7 561.5,296.4 561.9,299.4 562.3,298.4 562.7,303.2 563.1,302.5 563.5,302.1 563.9,305.8 564.3,304.7 564.7,306.3 565.1,306.3 565.5,309 565.9,310.4 566.3,312.5 566.7,310.2 567.1,314.3 567.5,311.1 567.9,311.4 568.3,312.9 568.6,311.5 569,311.3 569.4,312.1 569.8,310.4 570.2,312.6 570.6,310 571,312.3 571.4,311.1 571.8,308.8 572.2,305.6 572.6,307.6 573,303.4 573.4,304.3 573.8,302.8 574.2,300.2 574.6,301.5 575,300.7 575.4,299 575.8,297.2 576.2,297.8 576.6,299.5 577,299.5 577.4,303.6 577.8,305.6 578.2,306.3 578.6,308.4 579,307.2 579.4,308.9 579.8,303.7 580.2,304.1 580.6,301.4 581,301.5 581.4,301.1 581.7,299.9 582.1,297.6 582.5,295.8 582.9,293.9 583.3,293.5 583.7,291.7 584.1,290.1 584.5,291.1 584.9,288.9 585.3,287.3 585.7,285 586.1,285.9 586.5,282.5 586.9,281.5 587.3,281.5 587.7,280.8 588.1,281.2 588.5,281.3 588.9,283.1 589.3,284 589.7,284.2 590.1,285.1 590.5,283.4 590.9,285 591.3,285.1 591.7,289.7 592.1,290.1 592.5,290.8 592.9,290.4 593.3,291.9 593.7,292.1 594.1,295.2 594.5,297.8 594.8,296 595.2,296 595.6,297.6 596,299.4 596.4,302 596.8,301.9 597.2,300.7 597.6,299.5 598,299.9 598.4,300.4 598.8,303.3 599.2,302.3 599.6,304.8 600,304.7 600.4,302.6 600.8,299.7 601.2,299.6 601.6,295.1 602,293.4 602.4,293.7 602.8,291.9 603.2,289 603.6,287.6 604,285.1 604.4,288.3 604.8,287.1 605.2,287.7 605.6,287.5 606,284.8 606.4,285.6 606.8,283.8 607.2,285.2 607.5,284.9 607.9,281.5 608.3,279.4 608.7,278.3 609.1,278.1 609.5,275.3 609.9,271.9 610.3,273.5 610.7,271.5 611.1,269.4 611.5,269.4 611.9,274.8 612.3,275.1 612.7,274.9 613.1,277.7 613.5,280.8 613.9,283.7 614.3,283.8 614.7,286.2 615.1,286.2 615.5,288.4 615.9,293.1 616.3,292.9 616.7,293.7 617.1,297.8 617.5,297.8 617.9,300.1 618.3,303.2 618.7,305.7 619.1,307.8 619.5,309.2 619.9,309.3 620.3,308.9 620.6,312.9 621,311.3 621.4,314.2 621.8,315.1 622.2,317.4 622.6,318.8 623,317.8 623.4,318.5 623.8,317.6 624.2,315.6 624.6,313.2 625,315.3 625.4,313 625.8,309.7 626.2,309.9 626.6,313"/>
<polyline fill="none" stroke="#0a8a0a" stroke-width="2" stroke-linejoin="round" shape-rendering="crispEdges" points="57.8,292 58.6,292.5 59.4,294.3 60.2,293.5 61,291.1 61.8,290.8 62.5,284.7 63.3,284 64.1,289.3 64.9,287 65.7,280.5 66.5,279.5 67.3,279.9 68.1,283.8 68.9,277.6 69.7,279.8 70.5,280.6 71.3,277.5 72.1,278.5 72.9,272.7 73.7,270.9 74.5,268.8 75.2,273.1 76,267.4 76.8,272.6 77.6,269.6 78.4,264.8 79.2,268.2 80,262.6 80.8,264 81.6,260 82.4,263.8 83.2,263.5 84,262.6 84.8,255 85.6,260 86.4,256.8 87.2,257.7 87.9,254.3 88.7,254.1 89.5,252.8 90.3,253.2 91.1,247 91.9,245.7 92.7,248.2 93.5,245.3 94.3,245 95.1,241.1 95.9,245.3 96.7,239.1 97.5,243.8 98.3,242.6 99.1,239 99.9,235.5 100.7,238.2 101.4,234 102.2,234.5 103,231.2 103.8,236.3 104.6,232.2 105.4,229.8 106.2,226.8 107,230.4 107.8,230.2 108.6,229.1 109.4,222.7 110.2,223.6 111,222.1 111.8,224.3 112.6,218.9 113.4,221.1 114.1,222.8 114.9,220.2 115.7,213.7 116.5,213.1 117.3,212.3 118.1,215.5 118.9,213.7 119.7,212.1 120.5,210.6 121.3,209.2 122.1,209.6 122.9,208.9 123.7,209.7 124.5,207.4 125.3,206.8 126.1,206.6 126.8,205 127.6,203.1 128.4,197.1 129.2,200.8 130,201 130.8,196.9 131.6,199.1 132.4,193 133.2,197.5 134,192.8 134.8,193.7 135.6,189.4 136.4,188.7 137.2,188 138,186.8 138.8,184.1 139.6,185.6 140.3,188.4 141.1,185.1 141.9,186 142.7,183.8 143.5,183.3 144.3,183.4 145.1,180.6 145.9,176.1 146.7,174.9 147.5,175 148.3,171.2 149.1,171.7 149.9,175.4 150.7,174.7 151.5,169.4 152.3,171.6 153,170.7 153.8,170.5 154.6,168.8 155.4,165.9 156.2,161.9 157,166.1 157.8,161.4 158.6,162.7 159.4,159.8 160.2,160 161,162.2 161.8,155.4 162.6,157.1 163.4,157 164.2,155.3 165,157.2 165.8,152.4 166.5,155.1 167.3,152.6 168.1,153.6 168.9,146.3 169.7,146.3 170.5,145.9 171.3,149.4 172.1,142 172.9,142.8 173.7,145.1 174.5,146.1 175.3,139.4 176.1,140.7 176.9,141.9 177.7,141.2 178.5,141 179.2,140.4 180,136.2 180.8,135.6 181.6,133.3 182.4,137.4 183.2,133.3 184,133.1 184.8,137.5 185.6,133.4 186.4,130.9 187.2,129.3 188,126.8 188.8,128 189.6,125.8 190.4,124.6 191.2,125.2 191.9,125.5 192.7,125.8 193.5,121.8 194.3,119.2 195.1,119.6 195.9,120.6 196.7,116.2 197.5,111.9 198.3,114.8 199.1,109.8 199.9,108.6 200.7,109.4 201.5,109.4 202.3,110.8 203.1,108.3 203.9,109.6 204.7,104.4 205.4,109.3 206.2,103.6 207,105.7 207.8,98.5 208.6,102.9 209.4,97.1 210.2,100.5 211,99.9 211.8,98.8 212.6,95.8 213.4,93.6 214.2,94.7 215,99.7 215.8,94.1 216.6,97.5 217.4,96.8 218.1,96.6 218.9,90.4 219.7,87.4 220.5,84.2 221.3,87.8 222.1,81 222.9,81.9 223.7,80.2 224.5,76.7 225.3,74.5 226.1,73.1 226.9,78 227.7,71.8 228.5,77.9 229.3,74.6 230.1,78.2 230.8,75 231.6,80.6 232.4,76.6 233.2,76.2 234,76.1 234.8,72 235.6,71.8 236.4,74.5 237.2,69.7 238,69.1 238.8,71.3 239.6,66.8 240.4,66 241.2,65.6 242,66.2 242.8,64.3 243.6,64.5 244.3,61.5 245.1,62.6 245.9,54.9 246.7,61.1 247.5,64.5 248.3,62.3 249.1,62.6 249.9,65.7 250.7,63.6 251.5,66.2 252.3,68.2 253.1,63.9 253.9,64.2 254.7,65.9 255.5,62.5 256.3,61.7 257,62 257.8,58.5 258.6,56.9 259.4,57.9 260.2,58 261,62.2 261.8,60.2 262.6,57.5 263.4,59.4 264.2,64 265,63.4 265.8,66.4 266.6,67.9 267.4,67.1 268.2,60.6 269,65.6 269.8,61.5 270.5,58.4 271.3,56.8 272.1,60.8 272.9,55 273.7,55 274.5,57.4 275.3,63.3 276.1,61.1 276.9,64.1 277.7,60.5 278.5,63.2 279.3,61.6 280.1,60.1 280.9,62.7 281.7,59.8 282.5,57.4 283.2,62.9 284,58.6 284.8,55.7 285.6,53.8 286.4,59 287.2,59.8 288,58 288.8,63 289.6,66.6 290.4,66.9 291.2,66 292,67.4 292.8,67.7 293.6,67.6 294.4,63.5 295.2,67.8 295.9,68.4 296.7,66.4 297.5,66.8 298.3,62.8 299.1,66 299.9,60.2 300.7,59.9 301.5,61.9 302.3,63.5 303.1,57.3 303.9,60.6 304.7,61.7 305.5,67 306.3,67.2 307.1,69.7 307.9,73.4 308.7,71.8 309.4,73.9 310.2,69.7 311,71.3 311.8,66.1 312.6,72.4 313.4,67.6 314.2,70.4 315,71.8 315.8,76 316.6,73.7 317.4,78.4 318.2,76.8 319,74.9 319.8,78.9 320.6,73.9 321.4,79.2 322.1,74.8 322.9,72.7 323.7,77.5 324.5,75.6 325.3,80.6 326.1,83.6 326.9,84.2 327.7,77.7 328.5,78.5 329.3,75.2 330.1,78.5 330.9,74.2 331.7,80.1 332.5,79.2 333.3,82.2 334.1,84.6 334.8,88.1 335.6,86.3 336.4,89.4 337.2,91 338,99.4 338.8,96.7 339.6,99.8 340.4,105.8 341.2,109.4 342,114.8 342.8,108 343.6,108.5 344.4,107.2 345.2,109.4 346,107.7 346.8,106.6 347.6,110.6 348.3,110 349.1,112.6 349.9,114.4 350.7,110.6 351.5,116.5 352.3,114.2 353.1,113.8 353.9,122.2 354.7,118.6 355.5,120.1 356.3,123.2 357.1,122.4 357.9,126.5 358.7,125 359.5,121 360.3,121 361,122.5 361.8,121.4 362.6,120.6 363.4,120.3 364.2,118.1 365,119.7 365.8,123.3 366.6,123.5 367.4,125.7 368.2,126.7 369,126.7 369.8,120.6 370.6,119.2 371.4,124.6 372.2,121.7 373,118.4 373.7,121.6 374.5,119.5 375.3,121.1 376.1,123.8 376.9,126.8 377.7,129.6 378.5,125.6 379.3,129.9 380.1,128.5 380.9,126.9 381.7,127.8 382.5,128.2 383.3,122 384.1,124.9 384.9,127 385.7,127.8 386.5,128 387.2,125.3 388,131.5 388.8,130.9 389.6,126.7 390.4,127.6 391.2,130.8 392,124.9 392.8,125.8 393.6,129.3 394.4,128.3 395.2,123.2 396,127.5 396.8,125.5 397.6,128.4 398.4,129.8 399.2,125.9 399.9,127.2 400.7,127.9 401.5,128.9 402.3,127.4 403.1,127.5 403.9,128.8 404.7,128.3 405.5,125.2 406.3,128.2 407.1,130.7 407.9,132.4 408.7,135.2 409.5,138.2 410.3,134.2 411.1,130.2 411.9,130.3 412.6,127.3 413.4,133 414.2,130.2 415,132.6 415.8,137.8 416.6,137.3 417.4,138.7 418.2,138.1 419,138.1 419.8,138.8 420.6,140.8 421.4,135.4 422.2,139.6 423,136.4 423.8,136.2 424.6,139.8 425.4,137.4 426.1,138.4 426.9,137.8 427.7,134.9 428.5,131.3 429.3,129.2 430.1,132.1 430.9,132.7 431.7,129.9 432.5,129.2 433.3,129.3 434.1,131.2 434.9,135.6 435.7,131.3 436.5,133.6 437.3,134.4 438.1,137.8 438.8,140 439.6,133.3 440.4,134.2 441.2,140.3 442,140.8 442.8,135.1 443.6,136.7 444.4,138.7 445.2,138.3 446,140.1 446.8,141.6 447.6,141 448.4,140.6 449.2,141.9 450,143.5 450.8,143.3 451.6,147.4 452.3,148.2 453.1,145.3 453.9,149.4 454.7,149.2 455.5,146.7 456.3,148.1 457.1,146.4 457.9,152.2 458.7,150.1 459.5,146.9 460.3,148.1 461.1,152.3 461.9,149.2 462.7,150.6 463.5,146.2 464.3,149.3 465,148.5 465.8,142.4 466.6,145 467.4,141.9 468.2,145.8 469,146.7 469.8,146.8 470.6,143 471.4,142.2 472.2,146.5 473,146 473.8,143.1 474.6,143.7 475.4,146.8 476.2,143.8 477,147.9 477.7,145.5 478.5,146 479.3,147.6 480.1,148.8 480.9,150.6 481.7,146 482.5,151.4 483.3,148.1 484.1,148.8 484.9,151.5 485.7,152.1 486.5,151.8 487.3,154.1 488.1,149.3 488.9,150.3 489.7,153.1 490.5,149.2 491.2,146.6 492,145.3 492.8,147.3 493.6,145.9 494.4,143.2 495.2,143.1 496,140.1 496.8,137.2 497.6,137.7 498.4,141.2 499.2,136.9 500,141.4 500.8,138.2 501.6,138.5 502.4,141.7 503.2,138.3 503.9,143.2 504.7,142 505.5,138.2 506.3,135.5 507.1,134.1 507.9,136.1 508.7,135.4 509.5,133.5 510.3,135.8 511.1,135.1 511.9,137.5 512.7,133.3 513.5,133.7 514.3,136.6 515.1,137.8 515.9,135.6 516.6,138 517.4,134.2 518.2,134.3 519,134.8 519.8,135.9 520.6,135.7 521.4,132.3 522.2,132.2 523,135.1 523.8,134.3 524.6,131.3 525.4,126.8 526.2,128.5 527,129 527.8,125.6 528.6,123.1 529.4,129.1 530.1,128 530.9,122.9 531.7,125.7 532.5,127.3 533.3,125.5 534.1,124.2 534.9,129.6 535.7,130.2 536.5,128.3 537.3,126.1 538.1,128.7 538.9,126.8 539.7,133.4 540.5,127.2 541.3,129.2 542.1,132.9 542.8,127.5 543.6,126.5 544.4,125.5 545.2,125.4 546,127.2 546.8,128.6 547.6,123 548.4,122.2 549.2,125.8 550,123.1 550.8,122.1 551.6,120.3 552.4,120.8 553.2,125.7 554,119.3 554.8,122 555.5,127.2 556.3,130.1 557.1,132 557.9,130.7 558.7,132.8 559.5,128.7 560.3,124.9 561.1,124.5 561.9,124.8 562.7,124 563.5,118.8 564.3,118.5 565.1,123.2 565.9,116.3 566.7,120.6 567.5,117.3 568.3,117.4 569,118.3 569.8,120.6 570.6,125.2 571.4,119.1 572.2,123.5 573,118.9 573.8,117.2 574.6,120.6 575.4,117 576.2,115.2 577,116.2 577.8,118.4 578.6,118 579.4,115.8 580.2,112.4 581,118.5 581.7,118 582.5,120.7 583.3,121.7 584.1,117.6 584.9,120.4 585.7,119.2 586.5,114.3 587.3,114.1 588.1,113.2 588.9,112.1 589.7,112.7 590.5,111.4 591.3,112.9 592.1,118.5 592.9,115.6 593.7,117.9 594.5,120.3 595.2,119.4 596,114.1 596.8,117.4 597.6,114.9 598.4,114.7 599.2,111.3 600,110.2 600.8,109.3 601.6,103.9 602.4,105.5 603.2,102.2 604,104.2 604.8,97.7 605.6,99.9 606.4,98 607.2,101 607.9,97.1 608.7,100.2 609.5,99.8 610.3,99.9 611.1,95 611.9,101.1 612.7,100.1 613.5,100 614.3,99.4 615.1,93 615.9,97 616.7,92.6 617.5,90 618.3,87.7 619.1,90.6 619.9,90.3 620.6,90.6 621.4,85.6 622.2,86.2 623,85.2 623.8,84.9 624.6,87.4 625.4,86 626.2,92.1"/>
<rect x="54" y="15" width="2" height="322" fill="#dcdcdc"/>
<rect x="54" y="335" width="575" height="2" fill="#bcbcbc"/>
<rect x="627" y="15" width="2" height="322" fill="#f0f0f0"/>
<line x1="49.5" x2="54" y1="333.5" y2="333.5" stroke="#ff0000" stroke-width="1" shape-rendering="crispEdges"/>
<line x1="51.5" x2="54" y1="330.5" y2="330.5" stroke="#ff0000" stroke-width="1" shape-rendering="crispEdges"/>
<line x1="51.5" x2="54" y1="326.5" y2="326.5" stroke="#ff0000" stroke-width="1" shape-rendering="crispEdges"/>
<line x1="51.5" x2="54" y1="323.5" y2="323.5" stroke="#ff0000" stroke-width="1" shape-rendering="crispEdges"/>
<line x1="51.5" x2="54" y1="320.5" y2="320.5" stroke="#ff0000" stroke-width="1" shape-rendering="crispEdges"/>
<line x1="49.5" x2="54" y1="316.5" y2="316.5" stroke="#ff0000" stroke-width="1" shape-rendering="crispEdges"/>
<line x1="51.5" x2="54" y1="313.5" y2="313.5" stroke="#ff0000" stroke-width="1" shape-rendering="crispEdges"/>
<line x1="51.5" x2="54" y1="309.5" y2="309.5" stroke="#ff0000" stroke-width="1" shape-rendering="crispEdges"/>
<line x1="51.5" x2="54" y1="306.5" y2="306.5" stroke="#ff0000" stroke-width="1" shape-rendering="crispEdges"/>
<line x1="51.5" x2="54" y1="303.5" y2="303.5" stroke="#ff0000" stroke-width="1" shape-rendering="crispEdges"/>
<line x1="49.5" x2="54" y1="299.5" y2="299.5" stroke="#ff0000" stroke-width="1" shape-rendering="crispEdges"/>
<line x1="51.5" x2="54" y1="296.5" y2="296.5" stroke="#ff0000" stroke-width="1" shape-rendering="crispEdges"/>
<line x1="51.5" x2="54" y1="292.5" y2="292.5" stroke="#ff0000" stroke-width="1" shape-rendering="crispEdges"/>
<line x1="51.5" x2="54" y1="289.5" y2="289.5" stroke="#ff0000" stroke-width="1" shape-rendering="crispEdges"/>
<line x1="51.5" x2="54" y1="286.5" y2="286.5" stroke="#ff0000" stroke-width="1" shape-rendering="crispEdges"/>
<line x1="49.5" x2="54" y1="282.5" y2="282.5" stroke="#ff0000" stroke-width="1" shape-rendering="crispEdges"/>
<line x1="51.5" x2="54" y1="279.5" y2="279.5" stroke="#ff0000" stroke-width="1" shape-rendering="crispEdges"/>
<line x1="51.5" x2="54" y1="275.5" y2="275.5" stroke="#ff0000" stroke-width="1" shape-rendering="crispEdges"/>
<line x1="51.5" x2="54" y1="272.5" y2="272.5" stroke="#ff0000" stroke-width="1" shape-rendering="crispEdges"/>
<line x1="51.5" x2="54" y1="269.5" y2="269.5" stroke="#ff0000" stroke-width="1" shape-rendering="crispEdges"/>
<line x1="49.5" x2="54" y1="265.5" y2="265.5" stroke="#ff0000" stroke-width="1" shape-rendering="crispEdges"/>
<line x1="51.5" x2="54" y1="262.5" y2="262.5" stroke="#ff0000" stroke-width="1" shape-rendering="crispEdges"/>
<line x1="51.5" x2="54" y1="258.5" y2="258.5" stroke="#ff0000" stroke-width="1" shape-rendering="crispEdges"/>
<line x1="51.5" x2="54" y1="255.5" y2="255.5" stroke="#ff0000" stroke-width="1" shape-rendering="crispEdges"/>
<line x1="51.5" x2="54" y1="252.5" y2="252.5" stroke="#ff0000" stroke-width="1" shape-rendering="crispEdges"/>
<line x1="49.5" x2="54" y1="248.5" y2="248.5" stroke="#ff0000" stroke-width="1" shape-rendering="crispEdges"/>
<line x1="51.5" x2="54" y1="245.5" y2="245.5" stroke="#ff0000" stroke-width="1" shape-rendering="crispEdges"/>
<line x1="51.5" x2="54" y1="241.5" y2="241.5" stroke="#ff0000" stroke-width="1" shape-rendering="crispEdges"/>
<line x1="51.5" x2="54" y1="238.5" y2="238.5" stroke="#ff0000" stroke-width="1" shape-rendering="crispEdges"/>
<line x1="51.5" x2="54" y1="235.5" y2="235.5" stroke="#ff0000" stroke-width="1" shape-rendering="crispEdges"/>
<line x1="49.5" x2="54" y1="231.5" y2="231.5" stroke="#ff0000" stroke-width="1" shape-rendering="crispEdges"/>
<line x1="51.5" x2="54" y1="228.5" y2="228.5" stroke="#ff0000" stroke-width="1" shape-rendering="crispEdges"/>
<line x1="51.5" x2="54" y1="224.5" y2="224.5" stroke="#ff0000" stroke-width="1" shape-rendering="crispEdges"/>
<line x1="51.5" x2="54" y1="221.5" y2="221.5" stroke="#ff0000" stroke-width="1" shape-rendering="crispEdges"/>
<line x1="51.5" x2="54" y1="218.5" y2="218.5" stroke="#ff0000" stroke-width="1" shape-rendering="crispEdges"/>
<line x1="49.5" x2="54" y1="214.5" y2="214.5" stroke="#ff0000" stroke-width="1" shape-rendering="crispEdges"/>
<line x1="51.5" x2="54" y1="211.5" y2="211.5" stroke="#ff0000" stroke-width="1" shape-rendering="crispEdges"/>
<line x1="51.5" x2="54" y1="207.5" y2="207.5" stroke="#ff0000" stroke-width="1" shape-rendering="crispEdges"/>
<line x1="51.5" x2="54" y1="204.5" y2="204.5" stroke="#ff0000" stroke-width="1" shape-rendering="crispEdges"/>
<line x1="51.5" x2="54" y1="201.5" y2="201.5" stroke="#ff0000" stroke-width="1" shape-rendering="crispEdges"/>
<line x1="49.5" x2="54" y1="197.5" y2="197.5" stroke="#ff0000" stroke-width="1" shape-rendering="crispEdges"/>
<line x1="51.5" x2="54" y1="194.5" y2="194.5" stroke="#ff0000" stroke-width="1" shape-rendering="crispEdges"/>
<line x1="51.5" x2="54" y1="190.5" y2="190.5" stroke="#ff0000" stroke-width="1" shape-rendering="crispEdges"/>
<line x1="51.5" x2="54" y1="187.5" y2="187.5" stroke="#ff0000" stroke-width="1" shape-rendering="crispEdges"/>
<line x1="51.5" x2="54" y1="184.5" y2="184.5" stroke="#ff0000" stroke-width="1" shape-rendering="crispEdges"/>
<line x1="49.5" x2="54" y1="180.5" y2="180.5" stroke="#ff0000" stroke-width="1" shape-rendering="crispEdges"/>
<line x1="51.5" x2="54" y1="177.5" y2="177.5" stroke="#ff0000" stroke-width="1" shape-rendering="crispEdges"/>
<line x1="51.5" x2="54" y1="173.5" y2="173.5" stroke="#ff0000" stroke-width="1" shape-rendering="crispEdges"/>
<line x1="51.5" x2="54" y1="170.5" y2="170.5" stroke="#ff0000" stroke-width="1" shape-rendering="crispEdges"/>
<line x1="51.5" x2="54" y1="167.5" y2="167.5" stroke="#ff0000" stroke-width="1" shape-rendering="crispEdges"/>
<line x1="49.5" x2="54" y1="163.5" y2="163.5" stroke="#ff0000" stroke-width="1" shape-rendering="crispEdges"/>
<line x1="51.5" x2="54" y1="160.5" y2="160.5" stroke="#ff0000" stroke-width="1" shape-rendering="crispEdges"/>
<line x1="51.5" x2="54" y1="156.5" y2="156.5" stroke="#ff0000" stroke-width="1" shape-rendering="crispEdges"/>
<line x1="51.5" x2="54" y1="153.5" y2="153.5" stroke="#ff0000" stroke-width="1" shape-rendering="crispEdges"/>
<line x1="51.5" x2="54" y1="150.5" y2="150.5" stroke="#ff0000" stroke-width="1" shape-rendering="crispEdges"/>
<line x1="49.5" x2="54" y1="146.5" y2="146.5" stroke="#ff0000" stroke-width="1" shape-rendering="crispEdges"/>
<line x1="51.5" x2="54" y1="143.5" y2="143.5" stroke="#ff0000" stroke-width="1" shape-rendering="crispEdges"/>
<line x1="51.5" x2="54" y1="139.5" y2="139.5" stroke="#ff0000" stroke-width="1" shape-rendering="crispEdges"/>
<line x1="51.5" x2="54" y1="136.5" y2="136.5" stroke="#ff0000" stroke-width="1" shape-rendering="crispEdges"/>
<line x1="51.5" x2="54" y1="133.5" y2="133.5" stroke="#ff0000" stroke-width="1" shape-rendering="crispEdges"/>
<line x1="49.5" x2="54" y1="129.5" y2="129.5" stroke="#ff0000" stroke-width="1" shape-rendering="crispEdges"/>
<line x1="51.5" x2="54" y1="126.5" y2="126.5" stroke="#ff0000" stroke-width="1" shape-rendering="crispEdges"/>
<line x1="51.5" x2="54" y1="122.5" y2="122.5" stroke="#ff0000" stroke-width="1" shape-rendering="crispEdges"/>
<line x1="51.5" x2="54" y1="119.5" y2="119.5" stroke="#ff0000" stroke-width="1" shape-rendering="crispEdges"/>
<line x1="51.5" x2="54" y1="116.5" y2="116.5" stroke="#ff0000" stroke-width="1" shape-rendering="crispEdges"/>
<line x1="49.5" x2="54" y1="112.5" y2="112.5" stroke="#ff0000" stroke-width="1" shape-rendering="crispEdges"/>
<line x1="51.5" x2="54" y1="109.5" y2="109.5" stroke="#ff0000" stroke-width="1" shape-rendering="crispEdges"/>
<line x1="51.5" x2="54" y1="105.5" y2="105.5" stroke="#ff0000" stroke-width="1" shape-rendering="crispEdges"/>
<line x1="51.5" x2="54" y1="102.5" y2="102.5" stroke="#ff0000" stroke-width="1" shape-rendering="crispEdges"/>
<line x1="51.5" x2="54" y1="99.5" y2="99.5" stroke="#ff0000" stroke-width="1" shape-rendering="crispEdges"/>
<line x1="49.5" x2="54" y1="95.5" y2="95.5" stroke="#ff0000" stroke-width="1" shape-rendering="crispEdges"/>
<line x1="51.5" x2="54" y1="92.5" y2="92.5" stroke="#ff0000" stroke-width="1" shape-rendering="crispEdges"/>
<line x1="51.5" x2="54" y1="88.5" y2="88.5" stroke="#ff0000" stroke-width="1" shape-rendering="crispEdges"/>
<line x1="51.5" x2="54" y1="85.5" y2="85.5" stroke="#ff0000" stroke-width="1" shape-rendering="crispEdges"/>
<line x1="51.5" x2="54" y1="82.5" y2="82.5" stroke="#ff0000" stroke-width="1" shape-rendering="crispEdges"/>
<line x1="49.5" x2="54" y1="78.5" y2="78.5" stroke="#ff0000" stroke-width="1" shape-rendering="crispEdges"/>
<line x1="51.5" x2="54" y1="75.5" y2="75.5" stroke="#ff0000" stroke-width="1" shape-rendering="crispEdges"/>
<line x1="51.5" x2="54" y1="71.5" y2="71.5" stroke="#ff0000" stroke-width="1" shape-rendering="crispEdges"/>
<line x1="51.5" x2="54" y1="68.5" y2="68.5" stroke="#ff0000" stroke-width="1" shape-rendering="crispEdges"/>
<line x1="51.5" x2="54" y1="65.5" y2="65.5" stroke="#ff0000" stroke-width="1" shape-rendering="crispEdges"/>
<line x1="49.5" x2="54" y1="61.5" y2="61.5" stroke="#ff0000" stroke-width="1" shape-rendering="crispEdges"/>
<line x1="51.5" x2="54" y1="58.5" y2="58.5" stroke="#ff0000" stroke-width="1" shape-rendering="crispEdges"/>
<line x1="51.5" x2="54" y1="54.5" y2="54.5" stroke="#ff0000" stroke-width="1" shape-rendering="crispEdges"/>
<line x1="51.5" x2="54" y1="51.5" y2="51.5" stroke="#ff0000" stroke-width="1" shape-rendering="crispEdges"/>
<line x1="51.5" x2="54" y1="48.5" y2="48.5" stroke="#ff0000" stroke-width="1" shape-rendering="crispEdges"/>
<line x1="49.5" x2="54" y1="44.5" y2="44.5" stroke="#ff0000" stroke-width="1" shape-rendering="crispEdges"/>
<line x1="51.5" x2="54" y1="41.5" y2="41.5" stroke="#ff0000" stroke-width="1" shape-rendering="crispEdges"/>
<line x1="51.5" x2="54" y1="37.5" y2="37.5" stroke="#ff0000" stroke-width="1" shape-rendering="crispEdges"/>
<line x1="51.5" x2="54" y1="34.5" y2="34.5" stroke="#ff0000" stroke-width="1" shape-rendering="crispEdges"/>
<line x1="51.5" x2="54" y1="31.5" y2="31.5" stroke="#ff0000" stroke-width="1" shape-rendering="crispEdges"/>
<line x1="49.5" x2="54" y1="27.5" y2="27.5" stroke="#ff0000" stroke-width="1" shape-rendering="crispEdges"/>
<text x="42.5" y="335.2" font-size="8.4" fill="#ff0000" stroke="#ff0000" stroke-width="0.2" textLength="4.3" lengthAdjust="spacingAndGlyphs">0</text>
<text x="36.2" y="318.2" font-size="8.4" fill="#ff0000" stroke="#ff0000" stroke-width="0.2" textLength="10.6" lengthAdjust="spacingAndGlyphs">0,5</text>
<text x="43.4" y="301.2" font-size="8.4" fill="#ff0000" stroke="#ff0000" stroke-width="0.2" textLength="3.4" lengthAdjust="spacingAndGlyphs">1</text>
<text x="37.1" y="284.2" font-size="8.4" fill="#ff0000" stroke="#ff0000" stroke-width="0.2" textLength="9.7" lengthAdjust="spacingAndGlyphs">1,5</text>
<text x="42.5" y="267.2" font-size="8.4" fill="#ff0000" stroke="#ff0000" stroke-width="0.2" textLength="4.3" lengthAdjust="spacingAndGlyphs">2</text>
<text x="36.2" y="250.2" font-size="8.4" fill="#ff0000" stroke="#ff0000" stroke-width="0.2" textLength="10.6" lengthAdjust="spacingAndGlyphs">2,5</text>
<text x="42.5" y="233.2" font-size="8.4" fill="#ff0000" stroke="#ff0000" stroke-width="0.2" textLength="4.3" lengthAdjust="spacingAndGlyphs">3</text>
<text x="36.2" y="216.2" font-size="8.4" fill="#ff0000" stroke="#ff0000" stroke-width="0.2" textLength="10.6" lengthAdjust="spacingAndGlyphs">3,5</text>
<text x="42.5" y="199.2" font-size="8.4" fill="#ff0000" stroke="#ff0000" stroke-width="0.2" textLength="4.3" lengthAdjust="spacingAndGlyphs">4</text>
<text x="36.2" y="182.2" font-size="8.4" fill="#ff0000" stroke="#ff0000" stroke-width="0.2" textLength="10.6" lengthAdjust="spacingAndGlyphs">4,5</text>
<text x="42.5" y="165.2" font-size="8.4" fill="#ff0000" stroke="#ff0000" stroke-width="0.2" textLength="4.3" lengthAdjust="spacingAndGlyphs">5</text>
<text x="36.2" y="148.2" font-size="8.4" fill="#ff0000" stroke="#ff0000" stroke-width="0.2" textLength="10.6" lengthAdjust="spacingAndGlyphs">5,5</text>
<text x="42.5" y="131.2" font-size="8.4" fill="#ff0000" stroke="#ff0000" stroke-width="0.2" textLength="4.3" lengthAdjust="spacingAndGlyphs">6</text>
<text x="36.2" y="114.2" font-size="8.4" fill="#ff0000" stroke="#ff0000" stroke-width="0.2" textLength="10.6" lengthAdjust="spacingAndGlyphs">6,5</text>
<text x="42.5" y="97.2" font-size="8.4" fill="#ff0000" stroke="#ff0000" stroke-width="0.2" textLength="4.3" lengthAdjust="spacingAndGlyphs">7</text>
<text x="36.2" y="80.2" font-size="8.4" fill="#ff0000" stroke="#ff0000" stroke-width="0.2" textLength="10.6" lengthAdjust="spacingAndGlyphs">7,5</text>
<text x="42.5" y="63.2" font-size="8.4" fill="#ff0000" stroke="#ff0000" stroke-width="0.2" textLength="4.3" lengthAdjust="spacingAndGlyphs">8</text>
<text x="36.2" y="46.2" font-size="8.4" fill="#ff0000" stroke="#ff0000" stroke-width="0.2" textLength="10.6" lengthAdjust="spacingAndGlyphs">8,5</text>
<text x="42.5" y="29.2" font-size="8.4" fill="#ff0000" stroke="#ff0000" stroke-width="0.2" textLength="4.3" lengthAdjust="spacingAndGlyphs">9</text>
<line x1="627" x2="632" y1="330.5" y2="330.5" stroke="#008c00" stroke-width="1" shape-rendering="crispEdges"/>
<line x1="627" x2="629.5" y1="327.5" y2="327.5" stroke="#008c00" stroke-width="1" shape-rendering="crispEdges"/>
<line x1="627" x2="629.5" y1="323.5" y2="323.5" stroke="#008c00" stroke-width="1" shape-rendering="crispEdges"/>
<line x1="627" x2="629.5" y1="319.5" y2="319.5" stroke="#008c00" stroke-width="1" shape-rendering="crispEdges"/>
<line x1="627" x2="629.5" y1="315.5" y2="315.5" stroke="#008c00" stroke-width="1" shape-rendering="crispEdges"/>
<line x1="627" x2="632" y1="312.5" y2="312.5" stroke="#008c00" stroke-width="1" shape-rendering="crispEdges"/>
<line x1="627" x2="629.5" y1="308.5" y2="308.5" stroke="#008c00" stroke-width="1" shape-rendering="crispEdges"/>
<line x1="627" x2="629.5" y1="304.5" y2="304.5" stroke="#008c00" stroke-width="1" shape-rendering="crispEdges"/>
<line x1="627" x2="629.5" y1="301.5" y2="301.5" stroke="#008c00" stroke-width="1" shape-rendering="crispEdges"/>
<line x1="627" x2="629.5" y1="297.5" y2="297.5" stroke="#008c00" stroke-width="1" shape-rendering="crispEdges"/>
<line x1="627" x2="632" y1="293.5" y2="293.5" stroke="#008c00" stroke-width="1" shape-rendering="crispEdges"/>
<line x1="627" x2="629.5" y1="290.5" y2="290.5" stroke="#008c00" stroke-width="1" shape-rendering="crispEdges"/>
<line x1="627" x2="629.5" y1="286.5" y2="286.5" stroke="#008c00" stroke-width="1" shape-rendering="crispEdges"/>
<line x1="627" x2="629.5" y1="282.5" y2="282.5" stroke="#008c00" stroke-width="1" shape-rendering="crispEdges"/>
<line x1="627" x2="629.5" y1="278.5" y2="278.5" stroke="#008c00" stroke-width="1" shape-rendering="crispEdges"/>
<line x1="627" x2="632" y1="275.5" y2="275.5" stroke="#008c00" stroke-width="1" shape-rendering="crispEdges"/>
<line x1="627" x2="629.5" y1="271.5" y2="271.5" stroke="#008c00" stroke-width="1" shape-rendering="crispEdges"/>
<line x1="627" x2="629.5" y1="267.5" y2="267.5" stroke="#008c00" stroke-width="1" shape-rendering="crispEdges"/>
<line x1="627" x2="629.5" y1="264.5" y2="264.5" stroke="#008c00" stroke-width="1" shape-rendering="crispEdges"/>
<line x1="627" x2="629.5" y1="260.5" y2="260.5" stroke="#008c00" stroke-width="1" shape-rendering="crispEdges"/>
<line x1="627" x2="632" y1="256.5" y2="256.5" stroke="#008c00" stroke-width="1" shape-rendering="crispEdges"/>
<line x1="627" x2="629.5" y1="253.5" y2="253.5" stroke="#008c00" stroke-width="1" shape-rendering="crispEdges"/>
<line x1="627" x2="629.5" y1="249.5" y2="249.5" stroke="#008c00" stroke-width="1" shape-rendering="crispEdges"/>
<line x1="627" x2="629.5" y1="245.5" y2="245.5" stroke="#008c00" stroke-width="1" shape-rendering="crispEdges"/>
<line x1="627" x2="629.5" y1="241.5" y2="241.5" stroke="#008c00" stroke-width="1" shape-rendering="crispEdges"/>
<line x1="627" x2="632" y1="238.5" y2="238.5" stroke="#008c00" stroke-width="1" shape-rendering="crispEdges"/>
<line x1="627" x2="629.5" y1="234.5" y2="234.5" stroke="#008c00" stroke-width="1" shape-rendering="crispEdges"/>
<line x1="627" x2="629.5" y1="230.5" y2="230.5" stroke="#008c00" stroke-width="1" shape-rendering="crispEdges"/>
<line x1="627" x2="629.5" y1="227.5" y2="227.5" stroke="#008c00" stroke-width="1" shape-rendering="crispEdges"/>
<line x1="627" x2="629.5" y1="223.5" y2="223.5" stroke="#008c00" stroke-width="1" shape-rendering="crispEdges"/>
<line x1="627" x2="632" y1="219.5" y2="219.5" stroke="#008c00" stroke-width="1" shape-rendering="crispEdges"/>
<line x1="627" x2="629.5" y1="216.5" y2="216.5" stroke="#008c00" stroke-width="1" shape-rendering="crispEdges"/>
<line x1="627" x2="629.5" y1="212.5" y2="212.5" stroke="#008c00" stroke-width="1" shape-rendering="crispEdges"/>
<line x1="627" x2="629.5" y1="208.5" y2="208.5" stroke="#008c00" stroke-width="1" shape-rendering="crispEdges"/>
<line x1="627" x2="629.5" y1="205.5" y2="205.5" stroke="#008c00" stroke-width="1" shape-rendering="crispEdges"/>
<line x1="627" x2="632" y1="201.5" y2="201.5" stroke="#008c00" stroke-width="1" shape-rendering="crispEdges"/>
<line x1="627" x2="629.5" y1="197.5" y2="197.5" stroke="#008c00" stroke-width="1" shape-rendering="crispEdges"/>
<line x1="627" x2="629.5" y1="193.5" y2="193.5" stroke="#008c00" stroke-width="1" shape-rendering="crispEdges"/>
<line x1="627" x2="629.5" y1="190.5" y2="190.5" stroke="#008c00" stroke-width="1" shape-rendering="crispEdges"/>
<line x1="627" x2="629.5" y1="186.5" y2="186.5" stroke="#008c00" stroke-width="1" shape-rendering="crispEdges"/>
<line x1="627" x2="632" y1="182.5" y2="182.5" stroke="#008c00" stroke-width="1" shape-rendering="crispEdges"/>
<line x1="627" x2="629.5" y1="179.5" y2="179.5" stroke="#008c00" stroke-width="1" shape-rendering="crispEdges"/>
<line x1="627" x2="629.5" y1="175.5" y2="175.5" stroke="#008c00" stroke-width="1" shape-rendering="crispEdges"/>
<line x1="627" x2="629.5" y1="171.5" y2="171.5" stroke="#008c00" stroke-width="1" shape-rendering="crispEdges"/>
<line x1="627" x2="629.5" y1="168.5" y2="168.5" stroke="#008c00" stroke-width="1" shape-rendering="crispEdges"/>
<line x1="627" x2="632" y1="164.5" y2="164.5" stroke="#008c00" stroke-width="1" shape-rendering="crispEdges"/>
<line x1="627" x2="629.5" y1="160.5" y2="160.5" stroke="#008c00" stroke-width="1" shape-rendering="crispEdges"/>
<line x1="627" x2="629.5" y1="156.5" y2="156.5" stroke="#008c00" stroke-width="1" shape-rendering="crispEdges"/>
<line x1="627" x2="629.5" y1="153.5" y2="153.5" stroke="#008c00" stroke-width="1" shape-rendering="crispEdges"/>
<line x1="627" x2="629.5" y1="149.5" y2="149.5" stroke="#008c00" stroke-width="1" shape-rendering="crispEdges"/>
<line x1="627" x2="632" y1="145.5" y2="145.5" stroke="#008c00" stroke-width="1" shape-rendering="crispEdges"/>
<line x1="627" x2="629.5" y1="142.5" y2="142.5" stroke="#008c00" stroke-width="1" shape-rendering="crispEdges"/>
<line x1="627" x2="629.5" y1="138.5" y2="138.5" stroke="#008c00" stroke-width="1" shape-rendering="crispEdges"/>
<line x1="627" x2="629.5" y1="134.5" y2="134.5" stroke="#008c00" stroke-width="1" shape-rendering="crispEdges"/>
<line x1="627" x2="629.5" y1="131.5" y2="131.5" stroke="#008c00" stroke-width="1" shape-rendering="crispEdges"/>
<line x1="627" x2="632" y1="127.5" y2="127.5" stroke="#008c00" stroke-width="1" shape-rendering="crispEdges"/>
<line x1="627" x2="629.5" y1="123.5" y2="123.5" stroke="#008c00" stroke-width="1" shape-rendering="crispEdges"/>
<line x1="627" x2="629.5" y1="120.5" y2="120.5" stroke="#008c00" stroke-width="1" shape-rendering="crispEdges"/>
<line x1="627" x2="629.5" y1="116.5" y2="116.5" stroke="#008c00" stroke-width="1" shape-rendering="crispEdges"/>
<line x1="627" x2="629.5" y1="112.5" y2="112.5" stroke="#008c00" stroke-width="1" shape-rendering="crispEdges"/>
<line x1="627" x2="632" y1="108.5" y2="108.5" stroke="#008c00" stroke-width="1" shape-rendering="crispEdges"/>
<line x1="627" x2="629.5" y1="105.5" y2="105.5" stroke="#008c00" stroke-width="1" shape-rendering="crispEdges"/>
<line x1="627" x2="629.5" y1="101.5" y2="101.5" stroke="#008c00" stroke-width="1" shape-rendering="crispEdges"/>
<line x1="627" x2="629.5" y1="97.5" y2="97.5" stroke="#008c00" stroke-width="1" shape-rendering="crispEdges"/>
<line x1="627" x2="629.5" y1="94.5" y2="94.5" stroke="#008c00" stroke-width="1" shape-rendering="crispEdges"/>
<line x1="627" x2="632" y1="90.5" y2="90.5" stroke="#008c00" stroke-width="1" shape-rendering="crispEdges"/>
<line x1="627" x2="629.5" y1="86.5" y2="86.5" stroke="#008c00" stroke-width="1" shape-rendering="crispEdges"/>
<line x1="627" x2="629.5" y1="83.5" y2="83.5" stroke="#008c00" stroke-width="1" shape-rendering="crispEdges"/>
<line x1="627" x2="629.5" y1="79.5" y2="79.5" stroke="#008c00" stroke-width="1" shape-rendering="crispEdges"/>
<line x1="627" x2="629.5" y1="75.5" y2="75.5" stroke="#008c00" stroke-width="1" shape-rendering="crispEdges"/>
<line x1="627" x2="632" y1="71.5" y2="71.5" stroke="#008c00" stroke-width="1" shape-rendering="crispEdges"/>
<line x1="627" x2="629.5" y1="68.5" y2="68.5" stroke="#008c00" stroke-width="1" shape-rendering="crispEdges"/>
<line x1="627" x2="629.5" y1="64.5" y2="64.5" stroke="#008c00" stroke-width="1" shape-rendering="crispEdges"/>
<line x1="627" x2="629.5" y1="60.5" y2="60.5" stroke="#008c00" stroke-width="1" shape-rendering="crispEdges"/>
<line x1="627" x2="629.5" y1="57.5" y2="57.5" stroke="#008c00" stroke-width="1" shape-rendering="crispEdges"/>
<line x1="627" x2="632" y1="53.5" y2="53.5" stroke="#008c00" stroke-width="1" shape-rendering="crispEdges"/>
<line x1="627" x2="629.5" y1="49.5" y2="49.5" stroke="#008c00" stroke-width="1" shape-rendering="crispEdges"/>
<line x1="627" x2="629.5" y1="46.5" y2="46.5" stroke="#008c00" stroke-width="1" shape-rendering="crispEdges"/>
<line x1="627" x2="629.5" y1="42.5" y2="42.5" stroke="#008c00" stroke-width="1" shape-rendering="crispEdges"/>
<line x1="627" x2="629.5" y1="38.5" y2="38.5" stroke="#008c00" stroke-width="1" shape-rendering="crispEdges"/>
<line x1="627" x2="632" y1="35.5" y2="35.5" stroke="#008c00" stroke-width="1" shape-rendering="crispEdges"/>
<line x1="627" x2="629.5" y1="31.5" y2="31.5" stroke="#008c00" stroke-width="1" shape-rendering="crispEdges"/>
<line x1="627" x2="629.5" y1="27.5" y2="27.5" stroke="#008c00" stroke-width="1" shape-rendering="crispEdges"/>
<line x1="627" x2="629.5" y1="23.5" y2="23.5" stroke="#008c00" stroke-width="1" shape-rendering="crispEdges"/>
<line x1="627" x2="629.5" y1="20.5" y2="20.5" stroke="#008c00" stroke-width="1" shape-rendering="crispEdges"/>
<line x1="627" x2="632" y1="16.5" y2="16.5" stroke="#008c00" stroke-width="1" shape-rendering="crispEdges"/>
<clipPath id="c1"><rect x="630" y="15.6" width="69" height="330"/></clipPath>
<g clip-path="url(#c1)">
<text x="636.8" y="332.2" font-size="8.4" fill="#00a000" stroke="#00a000" stroke-width="0.2" textLength="16.3" lengthAdjust="spacingAndGlyphs">1006</text>
<text x="636.8" y="313.7" font-size="8.4" fill="#00a000" stroke="#00a000" stroke-width="0.2" textLength="22.6" lengthAdjust="spacingAndGlyphs">1006,5</text>
<text x="636.8" y="295.2" font-size="8.4" fill="#00a000" stroke="#00a000" stroke-width="0.2" textLength="16.3" lengthAdjust="spacingAndGlyphs">1007</text>
<text x="636.8" y="276.8" font-size="8.4" fill="#00a000" stroke="#00a000" stroke-width="0.2" textLength="22.6" lengthAdjust="spacingAndGlyphs">1007,5</text>
<text x="636.8" y="258.3" font-size="8.4" fill="#00a000" stroke="#00a000" stroke-width="0.2" textLength="16.3" lengthAdjust="spacingAndGlyphs">1008</text>
<text x="636.8" y="239.8" font-size="8.4" fill="#00a000" stroke="#00a000" stroke-width="0.2" textLength="22.6" lengthAdjust="spacingAndGlyphs">1008,5</text>
<text x="636.8" y="221.3" font-size="8.4" fill="#00a000" stroke="#00a000" stroke-width="0.2" textLength="16.3" lengthAdjust="spacingAndGlyphs">1009</text>
<text x="636.8" y="202.8" font-size="8.4" fill="#00a000" stroke="#00a000" stroke-width="0.2" textLength="22.6" lengthAdjust="spacingAndGlyphs">1009,5</text>
<text x="636.8" y="184.4" font-size="8.4" fill="#00a000" stroke="#00a000" stroke-width="0.2" textLength="15.4" lengthAdjust="spacingAndGlyphs">1010</text>
<text x="636.8" y="165.9" font-size="8.4" fill="#00a000" stroke="#00a000" stroke-width="0.2" textLength="21.7" lengthAdjust="spacingAndGlyphs">1010,5</text>
<text x="636.8" y="147.4" font-size="8.4" fill="#00a000" stroke="#00a000" stroke-width="0.2" textLength="14.5" lengthAdjust="spacingAndGlyphs">1011</text>
<text x="636.8" y="128.9" font-size="8.4" fill="#00a000" stroke="#00a000" stroke-width="0.2" textLength="20.8" lengthAdjust="spacingAndGlyphs">1011,5</text>
<text x="636.8" y="110.4" font-size="8.4" fill="#00a000" stroke="#00a000" stroke-width="0.2" textLength="15.4" lengthAdjust="spacingAndGlyphs">1012</text>
<text x="636.8" y="92" font-size="8.4" fill="#00a000" stroke="#00a000" stroke-width="0.2" textLength="21.7" lengthAdjust="spacingAndGlyphs">1012,5</text>
<text x="636.8" y="73.5" font-size="8.4" fill="#00a000" stroke="#00a000" stroke-width="0.2" textLength="15.4" lengthAdjust="spacingAndGlyphs">1013</text>
<text x="636.8" y="55" font-size="8.4" fill="#00a000" stroke="#00a000" stroke-width="0.2" textLength="21.7" lengthAdjust="spacingAndGlyphs">1013,5</text>
<text x="636.8" y="36.5" font-size="8.4" fill="#00a000" stroke="#00a000" stroke-width="0.2" textLength="15.4" lengthAdjust="spacingAndGlyphs">1014</text>
<text x="636.8" y="18" font-size="8.4" fill="#00a000" stroke="#00a000" stroke-width="0.2" textLength="21.7" lengthAdjust="spacingAndGlyphs">1014,5</text>
</g>
<line x1="66.5" x2="66.5" y1="337" y2="339" stroke="#5a5a5a" stroke-width="1" shape-rendering="crispEdges"/>
<line x1="78.5" x2="78.5" y1="337" y2="339" stroke="#5a5a5a" stroke-width="1" shape-rendering="crispEdges"/>
<line x1="90.5" x2="90.5" y1="337" y2="339" stroke="#5a5a5a" stroke-width="1" shape-rendering="crispEdges"/>
<line x1="102.5" x2="102.5" y1="337" y2="341" stroke="#8c8c8c" stroke-width="1" shape-rendering="crispEdges"/>
<line x1="114.5" x2="114.5" y1="337" y2="339" stroke="#5a5a5a" stroke-width="1" shape-rendering="crispEdges"/>
<line x1="125.5" x2="125.5" y1="337" y2="339" stroke="#5a5a5a" stroke-width="1" shape-rendering="crispEdges"/>
<line x1="137.5" x2="137.5" y1="337" y2="339" stroke="#5a5a5a" stroke-width="1" shape-rendering="crispEdges"/>
<line x1="149.5" x2="149.5" y1="337" y2="341" stroke="#8c8c8c" stroke-width="1" shape-rendering="crispEdges"/>
<line x1="161.5" x2="161.5" y1="337" y2="339" stroke="#5a5a5a" stroke-width="1" shape-rendering="crispEdges"/>
<line x1="173.5" x2="173.5" y1="337" y2="339" stroke="#5a5a5a" stroke-width="1" shape-rendering="crispEdges"/>
<line x1="185.5" x2="185.5" y1="337" y2="339" stroke="#5a5a5a" stroke-width="1" shape-rendering="crispEdges"/>
<line x1="196.5" x2="196.5" y1="337" y2="341" stroke="#8c8c8c" stroke-width="1" shape-rendering="crispEdges"/>
<line x1="208.5" x2="208.5" y1="337" y2="339" stroke="#5a5a5a" stroke-width="1" shape-rendering="crispEdges"/>
<line x1="220.5" x2="220.5" y1="337" y2="339" stroke="#5a5a5a" stroke-width="1" shape-rendering="crispEdges"/>
<line x1="232.5" x2="232.5" y1="337" y2="339" stroke="#5a5a5a" stroke-width="1" shape-rendering="crispEdges"/>
<line x1="244.5" x2="244.5" y1="337" y2="341" stroke="#8c8c8c" stroke-width="1" shape-rendering="crispEdges"/>
<line x1="256.5" x2="256.5" y1="337" y2="339" stroke="#5a5a5a" stroke-width="1" shape-rendering="crispEdges"/>
<line x1="267.5" x2="267.5" y1="337" y2="339" stroke="#5a5a5a" stroke-width="1" shape-rendering="crispEdges"/>
<line x1="279.5" x2="279.5" y1="337" y2="339" stroke="#5a5a5a" stroke-width="1" shape-rendering="crispEdges"/>
<line x1="291.5" x2="291.5" y1="337" y2="341" stroke="#8c8c8c" stroke-width="1" shape-rendering="crispEdges"/>
<line x1="303.5" x2="303.5" y1="337" y2="339" stroke="#5a5a5a" stroke-width="1" shape-rendering="crispEdges"/>
<line x1="315.5" x2="315.5" y1="337" y2="339" stroke="#5a5a5a" stroke-width="1" shape-rendering="crispEdges"/>
<line x1="327.5" x2="327.5" y1="337" y2="339" stroke="#5a5a5a" stroke-width="1" shape-rendering="crispEdges"/>
<line x1="338.5" x2="338.5" y1="337" y2="341" stroke="#8c8c8c" stroke-width="1" shape-rendering="crispEdges"/>
<line x1="350.5" x2="350.5" y1="337" y2="339" stroke="#5a5a5a" stroke-width="1" shape-rendering="crispEdges"/>
<line x1="362.5" x2="362.5" y1="337" y2="339" stroke="#5a5a5a" stroke-width="1" shape-rendering="crispEdges"/>
<line x1="374.5" x2="374.5" y1="337" y2="339" stroke="#5a5a5a" stroke-width="1" shape-rendering="crispEdges"/>
<line x1="386.5" x2="386.5" y1="337" y2="341" stroke="#8c8c8c" stroke-width="1" shape-rendering="crispEdges"/>
<line x1="398.5" x2="398.5" y1="337" y2="339" stroke="#5a5a5a" stroke-width="1" shape-rendering="crispEdges"/>
<line x1="410.5" x2="410.5" y1="337" y2="339" stroke="#5a5a5a" stroke-width="1" shape-rendering="crispEdges"/>
<line x1="421.5" x2="421.5" y1="337" y2="339" stroke="#5a5a5a" stroke-width="1" shape-rendering="crispEdges"/>
<line x1="433.5" x2="433.5" y1="337" y2="341" stroke="#8c8c8c" stroke-width="1" shape-rendering="crispEdges"/>
<line x1="445.5" x2="445.5" y1="337" y2="339" stroke="#5a5a5a" stroke-width="1" shape-rendering="crispEdges"/>
<line x1="457.5" x2="457.5" y1="337" y2="339" stroke="#5a5a5a" stroke-width="1" shape-rendering="crispEdges"/>
<line x1="469.5" x2="469.5" y1="337" y2="339" stroke="#5a5a5a" stroke-width="1" shape-rendering="crispEdges"/>
<line x1="481.5" x2="481.5" y1="337" y2="341" stroke="#8c8c8c" stroke-width="1" shape-rendering="crispEdges"/>
<line x1="492.5" x2="492.5" y1="337" y2="339" stroke="#5a5a5a" stroke-width="1" shape-rendering="crispEdges"/>
<line x1="504.5" x2="504.5" y1="337" y2="339" stroke="#5a5a5a" stroke-width="1" shape-rendering="crispEdges"/>
<line x1="516.5" x2="516.5" y1="337" y2="339" stroke="#5a5a5a" stroke-width="1" shape-rendering="crispEdges"/>
<line x1="528.5" x2="528.5" y1="337" y2="341" stroke="#8c8c8c" stroke-width="1" shape-rendering="crispEdges"/>
<line x1="540.5" x2="540.5" y1="337" y2="339" stroke="#5a5a5a" stroke-width="1" shape-rendering="crispEdges"/>
<line x1="552.5" x2="552.5" y1="337" y2="339" stroke="#5a5a5a" stroke-width="1" shape-rendering="crispEdges"/>
<line x1="563.5" x2="563.5" y1="337" y2="339" stroke="#5a5a5a" stroke-width="1" shape-rendering="crispEdges"/>
<line x1="575.5" x2="575.5" y1="337" y2="341" stroke="#8c8c8c" stroke-width="1" shape-rendering="crispEdges"/>
<line x1="587.5" x2="587.5" y1="337" y2="339" stroke="#5a5a5a" stroke-width="1" shape-rendering="crispEdges"/>
<line x1="599.5" x2="599.5" y1="337" y2="339" stroke="#5a5a5a" stroke-width="1" shape-rendering="crispEdges"/>
<line x1="611.5" x2="611.5" y1="337" y2="339" stroke="#5a5a5a" stroke-width="1" shape-rendering="crispEdges"/>
<line x1="623.5" x2="623.5" y1="337" y2="341" stroke="#8c8c8c" stroke-width="1" shape-rendering="crispEdges"/>
<text x="104" y="357.5" font-size="13" fill="#ffff00" stroke="#ffff00" stroke-width="0.3" text-anchor="middle">02</text>
<text x="151.3" y="357.5" font-size="13" fill="#ffff00" stroke="#ffff00" stroke-width="0.3" text-anchor="middle">04</text>
<text x="198.7" y="357.5" font-size="13" fill="#ffff00" stroke="#ffff00" stroke-width="0.3" text-anchor="middle">06</text>
<text x="246" y="357.5" font-size="13" fill="#ffff00" stroke="#ffff00" stroke-width="0.3" text-anchor="middle">08</text>
<text x="293.4" y="357.5" font-size="13" fill="#ffff00" stroke="#ffff00" stroke-width="0.3" text-anchor="middle">10</text>
<text x="340.8" y="357.5" font-size="13" fill="#ffff00" stroke="#ffff00" stroke-width="0.3" text-anchor="middle">12</text>
<text x="388.1" y="357.5" font-size="13" fill="#ffff00" stroke="#ffff00" stroke-width="0.3" text-anchor="middle">14</text>
<text x="435.5" y="357.5" font-size="13" fill="#ffff00" stroke="#ffff00" stroke-width="0.3" text-anchor="middle">16</text>
<text x="482.8" y="357.5" font-size="13" fill="#ffff00" stroke="#ffff00" stroke-width="0.3" text-anchor="middle">18</text>
<text x="530.2" y="357.5" font-size="13" fill="#ffff00" stroke="#ffff00" stroke-width="0.3" text-anchor="middle">20</text>
<text x="577.6" y="357.5" font-size="13" fill="#ffff00" stroke="#ffff00" stroke-width="0.3" text-anchor="middle">22</text>
<text x="624.9" y="357.5" font-size="13" fill="#ffff00" stroke="#ffff00" stroke-width="0.3" text-anchor="middle">00</text>
<clipPath id="ct"><rect x="0" y="0" width="699" height="15"/></clipPath><g clip-path="url(#ct)">
<text x="51.5" y="13.6" font-size="16.2" fill="#ff0000" stroke="#ff0000" stroke-width="0.3">rychlost větru</text>
<text x="258" y="13.6" font-size="16.1" fill="#ffff00" stroke="#ffff00" stroke-width="0.3">24 hour graph day : 28 October 2025</text>
<text x="556.5" y="13.6" font-size="16.2" fill="#008c00" stroke="#008c00" stroke-width="0.3">tlak</text>
</g>
<rect x="61" y="366" width="572" height="104" fill="url(#g1)"/>
<rect x="61" y="366" width="572" height="1" fill="#e4e4e4"/>
<line x1="62" x2="633" y1="443.5" y2="443.5" stroke="#c8c8c8" stroke-opacity="0.6" stroke-width="1" stroke-dasharray="1,1" shape-rendering="crispEdges"/>
<line x1="62" x2="633" y1="418.5" y2="418.5" stroke="#c8c8c8" stroke-opacity="0.6" stroke-width="1" stroke-dasharray="1,1" shape-rendering="crispEdges"/>
<line x1="62" x2="633" y1="393.5" y2="393.5" stroke="#c8c8c8" stroke-opacity="0.6" stroke-width="1" stroke-dasharray="1,1" shape-rendering="crispEdges"/>
<polyline fill="none" stroke="#1414ff" stroke-width="1.7" stroke-linejoin="round" shape-rendering="crispEdges" points="61.8,390.8 62.7,388.8 63.6,388.8 64.5,401.5 65.4,390.4 66.3,394.7 67.2,393.5 68,402.4 68.9,404.5 69.8,392 70.7,399.6 71.6,403.7 72.5,394.9 73.4,403.8 74.3,401.3 75.2,392 76.1,407 77,400.6 77.9,391.2 78.7,401 79.6,406.2 80.5,398.8 81.4,397 82.3,395.5 83.2,407.1 84.1,402.9 85,392.4 85.9,394.6 86.8,394.6 87.7,413.1 88.6,403.6 89.5,391.4 90.3,407.7 91.2,390.4 92.1,400 93,393.6 93.9,372 94.8,393.5 95.7,387.4 96.6,397.6 97.5,405.6 98.4,404.9 99.3,370 100.2,389.4 101,403.9 101.9,405.2 102.8,389.4 103.7,406.9 104.6,408 105.5,397.3 106.4,396.5 107.3,404 108.2,407.2 109.1,394.2 110,395.4 110.9,395.7 111.8,404.3 112.6,394 113.5,400.8 114.4,399.1 115.3,403.3 116.2,393.5 117.1,407.5 118,408.1 118.9,401.1 119.8,405.3 120.7,394 121.6,406.9 122.5,395.9 123.4,399.7 124.2,401.3 125.1,390.8 126,402.1 126.9,388.5 127.8,386.3 128.7,394.3 129.6,401.7 130.5,401.8 131.4,402.5 132.3,394.7 133.2,402.2 134.1,376 134.9,387.7 135.8,397.6 136.7,407.5 137.6,396.6 138.5,403 139.4,393.6 140.3,393.9 141.2,396.6 142.1,400 143,397.7 143.9,391.2 144.8,390.1 145.7,395 146.5,405.7 147.4,433.1 148.3,393.3 149.2,393.6 150.1,400.2 151,383.6 151.9,394.4 152.8,399.7 153.7,384.1 154.6,393.9 155.5,396.7 156.4,397.2 157.2,396.5 158.1,396.5 159,385.3 159.9,398.7 160.8,400 161.7,381.8 162.6,400.3 163.5,376 164.4,382.3 165.3,382 166.2,398 167.1,395.9 168,383.1 168.8,388.7 169.7,394.1 170.6,400 171.5,386.4 172.4,396.5 173.3,385 174.2,384.4 175.1,383.9 176,466.5 176.9,393.7 177.8,385.9 178.7,383.9 179.5,384.7 180.4,383 181.3,384.3 182.2,386.1 183.1,390.4 184,409.1 184.9,389.2 185.8,388.2 186.7,399.7 187.6,466.5 188.5,399.3 189.4,389 190.3,384.4 191.1,393.1 192,383.7 192.9,384 193.8,382.9 194.7,395.3 195.6,399.6 196.5,388.2 197.4,387.2 198.3,466.5 199.2,387.2 200.1,395.6 201,388 201.8,384.1 202.7,398.3 203.6,393.4 204.5,382.1 205.4,398.1 206.3,396.2 207.2,387.2 208.1,376 209,443.1 209.9,388.2 210.8,391.1 211.7,387.7 212.6,397.4 213.4,401.3 214.3,403.5 215.2,408.9 216.1,384.6 217,389.3 217.9,380 218.8,405 219.7,398.9 220.6,401.8 221.5,388.6 222.4,408.8 223.3,397.2 224.1,390.2 225,385.3 225.9,384 226.8,407.7 227.7,405.3 228.6,382.5 229.5,388.2 230.4,432.1 231.3,393.6 232.2,398 233.1,411.4 234,397.7 234.9,403.7 235.7,412 236.6,406.6 237.5,400.9 238.4,397.4 239.3,398.5 240.2,405.9 241.1,409.5 242,396.1 242.9,398.2 243.8,398.5 244.7,398 245.6,411.7 246.5,403.9 247.3,396.3 248.2,397.9 249.1,384 250,394.7 250.9,408.9 251.8,392.4 252.7,395.2 253.6,393 254.5,411.1 255.4,394.4 256.3,395.9 257.2,392.9 258,396.5 258.9,409.8 259.8,409.5 260.7,413 261.6,413.6 262.5,405.4 263.4,413.2 264.3,393.5 265.2,413.2 266.1,400.4 267,395.2 267.9,410 268.8,412.1 269.6,399.1 270.5,393.5 271.4,412.4 272.3,410.2 273.2,406.7 274.1,414.1 275,392.6 275.9,392.9 276.8,393.3 277.7,392.3 278.6,402.8 279.5,401.8 280.3,393.2 281.2,393.7 282.1,393.9 283,401.5 283.9,402.4 284.8,405.8 285.7,396.2 286.6,405.9 287.5,397.4 288.4,396.6 289.3,394.8 290.2,394.5 291.1,405.8 291.9,406 292.8,402.8 293.7,393.9 294.6,387.7 295.5,387.3 296.4,390.8 297.3,400.6 298.2,385.9 299.1,396.4 300,399.7 300.9,385.5 301.8,392.8 302.6,401.5 303.5,397.6 304.4,393.1 305.3,402.8 306.2,398.1 307.1,390.5 308,391.7 308.9,403.7 309.8,402.5 310.7,401 311.6,395.1 312.5,386.2 313.4,386.7 314.2,389.9 315.1,397.6 316,384.5 316.9,399.4 317.8,399.1 318.7,393.8 319.6,384.5 320.5,399.3 321.4,390.5 322.3,397.3 323.2,395.3 324.1,398.3 324.9,390.4 325.8,404.4 326.7,404.4 327.6,403.9 328.5,398 329.4,389.6 330.3,390.7 331.2,388.8 332.1,403.5 333,401.6 333.9,401.5 334.8,402.1 335.7,404.9 336.5,399.6 337.4,389.6 338.3,401 339.2,388.7 340.1,397.9 341,387.1 341.9,402.8 342.8,393.4 343.7,388.9 344.6,403.8 345.5,390 346.4,409.7 347.3,405.8 348.1,390.8 349,405.9 349.9,400.7 350.8,409.2 351.7,401.2 352.6,395 353.5,409.7 354.4,390 355.3,406.3 356.2,390.2 357.1,392.5 358,390.4 358.8,408.4 359.7,395.3 360.6,405.1 361.5,392.2 362.4,405.2 363.3,403 364.2,390.2 365.1,396.7 366,405 366.9,391.6 367.8,403.2 368.7,392.5 369.6,393.9 370.4,409.5 371.3,409.9 372.2,411 373.1,395 374,400.7 374.9,407 375.8,405.9 376.7,395.6 377.6,408.3 378.5,394.5 379.4,410.1 380.3,396 381.1,416.1 382,405.7 382.9,390.7 383.8,391.9 384.7,382.5 385.6,395.9 386.5,382 387.4,396.8 388.3,384.8 389.2,404.3 390.1,398.4 391,396.7 391.9,406.9 392.7,394.4 393.6,400.3 394.5,394.9 395.4,407.3 396.3,407.8 397.2,402.4 398.1,408.8 399,408.9 399.9,415.1 400.8,415.3 401.7,406.5 402.6,418.2 403.4,404.3 404.3,403.7 405.2,425.2 406.1,413.5 407,414.3 407.9,420.1 408.8,416.4 409.7,414 410.6,426.4 411.5,419.1 412.4,424.8 413.3,412.3 414.2,426.1 415,411.8 415.9,426 416.8,421.9 417.7,426.8 418.6,424.3 419.5,422.2 420.4,420.3 421.3,425.4 422.2,416.7 423.1,409.6 424,426.1 424.9,424.8 425.7,423 426.6,423.9 427.5,412 428.4,417.3 429.3,425 430.2,426.7 431.1,426.2 432,410.7 432.9,423.1 433.8,420.8 434.7,415.6 435.6,410.8 436.5,410.3 437.3,425.3 438.2,425.8 439.1,422.6 440,423.7 440.9,427.1 441.8,429.3 442.7,427.6 443.6,421.5 444.5,430.3 445.4,423.7 446.3,430.8 447.2,431 448,421.3 448.9,427.5 449.8,430.9 450.7,423.9 451.6,427.1 452.5,423.1 453.4,419.4 454.3,421.5 455.2,420.5 456.1,422.6 457,430.6 457.9,429.2 458.8,435.4 459.6,431.6 460.5,422.8 461.4,436.3 462.3,430.5 463.2,438.1 464.1,434.9 465,431.3 465.9,422.8 466.8,421.8 467.7,412.8 468.6,428.6 469.5,411.8 470.4,428.7 471.2,409 472.1,408.2 473,420.4 473.9,411.2 474.8,418.7 475.7,409.8 476.6,426.4 477.5,423.2 478.4,413.6 479.3,416.3 480.2,417 481.1,413.5 481.9,413.9 482.8,403.1 483.7,403.5 484.6,408.2 485.5,416.8 486.4,406.5 487.3,411.8 488.2,403.1 489.1,408.1 490,416.1 490.9,412.2 491.8,415.2 492.7,403.2 493.5,405.2 494.4,404.9 495.3,415.3 496.2,401.5 497.1,420.9 498,404.2 498.9,420 499.8,411.1 500.7,405.2 501.6,421.5 502.5,406.9 503.4,416.3 504.2,401 505.1,419.1 506,421.8 506.9,401.7 507.8,417.4 508.7,404.3 509.6,402.2 510.5,406 511.4,415.5 512.3,421.3 513.2,422 514.1,422 515,414.6 515.8,415.3 516.7,402.4 517.6,417 518.5,412.5 519.4,405.9 520.3,420.3 521.2,404 522.1,402.1 523,402.4 523.9,402.3 524.8,413.6 525.7,418.5 526.5,387 527.4,404.3 528.3,406.7 529.2,406.3 530.1,400.8 531,405.9 531.9,393.3 532.8,394 533.7,401.1 534.6,397 535.5,410.3 536.4,397.1 537.3,411.4 538.1,397.1 539,394.5 539.9,402.8 540.8,408.5 541.7,426.1 542.6,420.4 543.5,405.4 544.4,418.2 545.3,421.9 546.2,410.1 547.1,412.4 548,423.7 548.8,417.9 549.7,406 550.6,404.2 551.5,404.4 552.4,408.9 553.3,404.5 554.2,419 555.1,411.1 556,408.4 556.9,414.9 557.8,424.6 558.7,407.2 559.6,405.6 560.4,408.4 561.3,408.8 562.2,424.2 563.1,420.3 564,411.3 564.9,405.8 565.8,403.8 566.7,405 567.6,423.1 568.5,418.9 569.4,401.3 570.3,418.1 571.1,399.2 572,412.9 572.9,429.1 573.8,400.1 574.7,421.7 575.6,421 576.5,413.2 577.4,401.5 578.3,419.6 579.2,408.6 580.1,419.3 581,395.9 581.9,425.3 582.7,436.1 583.6,398.8 584.5,403.5 585.4,398.2 586.3,395.8 587.2,418.1 588.1,427.9 589,385 589.9,399.8 590.8,413.6 591.7,399.4 592.6,402.8 593.5,414.2 594.3,403.6 595.2,398.3 596.1,397.1 597,408.9 597.9,421.9 598.8,438.1 599.7,437.1 600.6,405.6 601.5,403.8 602.4,454.1 603.3,384 604.2,404.4 605,421.5 605.9,442.1 606.8,425.9 607.7,421.7 608.6,402.9 609.5,392.9 610.4,399.2 611.3,392.7 612.2,402.6 613.1,402.7 614,401.4 614.9,404.9 615.8,391.6 616.6,402.8 617.5,403.6 618.4,392.5 619.3,386.7 620.2,456.1 621.1,395.7 622,399.4 622.9,422.1 623.8,398.8 624.7,387.7 625.6,399.2 626.5,385.8 627.3,404.7 628.2,440.1 629.1,381.1 630,382.5 630.9,399.5 631.8,402.5 632.7,397.3"/>
<rect x="61" y="467.5" width="572" height="1.6" fill="#e8904a"/>
<rect x="61" y="469" width="572" height="1" fill="#e6c4a4"/>
<rect x="61" y="366" width="1" height="104" fill="#d8d8d8"/>
<line x1="54" x2="59" y1="468.5" y2="468.5" stroke="#1010ff" stroke-width="1" shape-rendering="crispEdges"/>
<line x1="57" x2="59" y1="459.5" y2="459.5" stroke="#1010ff" stroke-width="1" shape-rendering="crispEdges"/>
<line x1="57" x2="59" y1="451.5" y2="451.5" stroke="#1010ff" stroke-width="1" shape-rendering="crispEdges"/>
<line x1="54" x2="59" y1="443.5" y2="443.5" stroke="#1010ff" stroke-width="1" shape-rendering="crispEdges"/>
<line x1="57" x2="59" y1="435.5" y2="435.5" stroke="#1010ff" stroke-width="1" shape-rendering="crispEdges"/>
<line x1="57" x2="59" y1="426.5" y2="426.5" stroke="#1010ff" stroke-width="1" shape-rendering="crispEdges"/>
<line x1="54" x2="59" y1="418.5" y2="418.5" stroke="#1010ff" stroke-width="1" shape-rendering="crispEdges"/>
<line x1="57" x2="59" y1="410.5" y2="410.5" stroke="#1010ff" stroke-width="1" shape-rendering="crispEdges"/>
<line x1="57" x2="59" y1="402.5" y2="402.5" stroke="#1010ff" stroke-width="1" shape-rendering="crispEdges"/>
<line x1="54" x2="59" y1="393.5" y2="393.5" stroke="#1010ff" stroke-width="1" shape-rendering="crispEdges"/>
<line x1="57" x2="59" y1="385.5" y2="385.5" stroke="#1010ff" stroke-width="1" shape-rendering="crispEdges"/>
<line x1="57" x2="59" y1="377.5" y2="377.5" stroke="#1010ff" stroke-width="1" shape-rendering="crispEdges"/>
<line x1="54" x2="59" y1="369.5" y2="369.5" stroke="#1010ff" stroke-width="1" shape-rendering="crispEdges"/>
<clipPath id="c2"><rect x="0" y="367" width="60" height="120"/></clipPath><g clip-path="url(#c2)">
<text x="47.6" y="470" font-size="8.4" fill="#1414ff" stroke="#1414ff" stroke-width="0.2" textLength="4.3" lengthAdjust="spacingAndGlyphs">0</text>
<text x="43.3" y="445.2" font-size="8.4" fill="#1414ff" stroke="#1414ff" stroke-width="0.2" textLength="8.6" lengthAdjust="spacingAndGlyphs">90</text>
<text x="39.9" y="420.5" font-size="8.4" fill="#1414ff" stroke="#1414ff" stroke-width="0.2" textLength="12" lengthAdjust="spacingAndGlyphs">180</text>
<text x="39" y="395.8" font-size="8.4" fill="#1414ff" stroke="#1414ff" stroke-width="0.2" textLength="12.9" lengthAdjust="spacingAndGlyphs">270</text>
<text x="39" y="371" font-size="8.4" fill="#1414ff" stroke="#1414ff" stroke-width="0.2" textLength="12.9" lengthAdjust="spacingAndGlyphs">360</text>
</g>
<text x="659" y="372.8" font-size="16.2" fill="#0000ff" stroke="#0000ff" stroke-width="0.3" text-anchor="middle">N</text>
<text x="659" y="399" font-size="16.2" fill="#0000ff" stroke="#0000ff" stroke-width="0.3" text-anchor="middle">W</text>
<text x="659" y="423.5" font-size="16.2" fill="#0000ff" stroke="#0000ff" stroke-width="0.3" text-anchor="middle">S</text>
<text x="659" y="448.3" font-size="16.2" fill="#0000ff" stroke="#0000ff" stroke-width="0.3" text-anchor="middle">E</text>
<text x="659" y="471.6" font-size="16.2" fill="#0000ff" stroke="#0000ff" stroke-width="0.3" text-anchor="middle">N</text>
<text x="1" y="495.8" font-size="16.6" fill="#1e90ff" stroke="#1e90ff" stroke-width="0.3">srážky</text>
<text x="98.6" y="495.8" font-size="16.6" fill="#008c00" stroke="#008c00" stroke-width="0.3">vlhkost</text>
<text x="176.5" y="495.8" font-size="16.2" fill="#8c8c1e" stroke="#8c8c1e" stroke-width="0.3">Solar</text>
<text x="467.8" y="495.8" font-size="16.6" fill="#ff0000" stroke="#ff0000" stroke-width="0.3">teplota</text>
<rect x="62" y="510" width="570" height="288" fill="url(#g1)"/>
<rect x="62" y="510" width="570" height="1" fill="#e4e4e4"/>
<line x1="65" x2="631" y1="780.5" y2="780.5" stroke="#c8c8c8" stroke-opacity="0.48" stroke-width="1" stroke-dasharray="1,1" shape-rendering="crispEdges"/>
<line x1="65" x2="631" y1="766.5" y2="766.5" stroke="#c8c8c8" stroke-opacity="0.48" stroke-width="1" stroke-dasharray="1,1" shape-rendering="crispEdges"/>
<line x1="65" x2="631" y1="752.5" y2="752.5" stroke="#c8c8c8" stroke-opacity="0.48" stroke-width="1" stroke-dasharray="1,1" shape-rendering="crispEdges"/>
<line x1="65" x2="631" y1="738.5" y2="738.5" stroke="#c8c8c8" stroke-opacity="0.48" stroke-width="1" stroke-dasharray="1,1" shape-rendering="crispEdges"/>
<line x1="65" x2="631" y1="724.5" y2="724.5" stroke="#c8c8c8" stroke-opacity="0.48" stroke-width="1" stroke-dasharray="1,1" shape-rendering="crispEdges"/>
<line x1="65" x2="631" y1="710.5" y2="710.5" stroke="#c8c8c8" stroke-opacity="0.48" stroke-width="1" stroke-dasharray="1,1" shape-rendering="crispEdges"/>
<line x1="65" x2="631" y1="696.5" y2="696.5" stroke="#c8c8c8" stroke-opacity="0.48" stroke-width="1" stroke-dasharray="1,1" shape-rendering="crispEdges"/>
<line x1="65" x2="631" y1="681.5" y2="681.5" stroke="#c8c8c8" stroke-opacity="0.48" stroke-width="1" stroke-dasharray="1,1" shape-rendering="crispEdges"/>
<line x1="65" x2="631" y1="667.5" y2="667.5" stroke="#c8c8c8" stroke-opacity="0.48" stroke-width="1" stroke-dasharray="1,1" shape-rendering="crispEdges"/>
<line x1="65" x2="631" y1="653.5" y2="653.5" stroke="#c8c8c8" stroke-opacity="0.48" stroke-width="1" stroke-dasharray="1,1" shape-rendering="crispEdges"/>
<line x1="65" x2="631" y1="639.5" y2="639.5" stroke="#c8c8c8" stroke-opacity="0.48" stroke-width="1" stroke-dasharray="1,1" shape-rendering="crispEdges"/>
<line x1="65" x2="631" y1="625.5" y2="625.5" stroke="#c8c8c8" stroke-opacity="0.48" stroke-width="1" stroke-dasharray="1,1" shape-rendering="crispEdges"/>
<line x1="65" x2="631" y1="611.5" y2="611.5" stroke="#c8c8c8" stroke-opacity="0.48" stroke-width="1" stroke-dasharray="1,1" shape-rendering="crispEdges"/>
<line x1="65" x2="631" y1="597.5" y2="597.5" stroke="#c8c8c8" stroke-opacity="0.48" stroke-width="1" stroke-dasharray="1,1" shape-rendering="crispEdges"/>
<line x1="65" x2="631" y1="583.5" y2="583.5" stroke="#c8c8c8" stroke-opacity="0.48" stroke-width="1" stroke-dasharray="1,1" shape-rendering="crispEdges"/>
<line x1="65" x2="631" y1="569.5" y2="569.5" stroke="#c8c8c8" stroke-opacity="0.48" stroke-width="1" stroke-dasharray="1,1" shape-rendering="crispEdges"/>
<line x1="65" x2="631" y1="555.5" y2="555.5" stroke="#c8c8c8" stroke-opacity="0.48" stroke-width="1" stroke-dasharray="1,1" shape-rendering="crispEdges"/>
<line x1="65" x2="631" y1="541.5" y2="541.5" stroke="#c8c8c8" stroke-opacity="0.48" stroke-width="1" stroke-dasharray="1,1" shape-rendering="crispEdges"/>
<line x1="65" x2="631" y1="527.5" y2="527.5" stroke="#c8c8c8" stroke-opacity="0.48" stroke-width="1" stroke-dasharray="1,1" shape-rendering="crispEdges"/>
<line x1="65" x2="631" y1="513.5" y2="513.5" stroke="#c8c8c8" stroke-opacity="0.48" stroke-width="1" stroke-dasharray="1,1" shape-rendering="crispEdges"/>
<line y1="511" y2="796" x1="110.5" x2="110.5" stroke="#c8c8c8" stroke-opacity="0.48" stroke-width="1" stroke-dasharray="1,1" shape-rendering="crispEdges"/>
<line y1="511" y2="796" x1="157.5" x2="157.5" stroke="#c8c8c8" stroke-opacity="0.48" stroke-width="1" stroke-dasharray="1,1" shape-rendering="crispEdges"/>
<line y1="511" y2="796" x1="203.5" x2="203.5" stroke="#c8c8c8" stroke-opacity="0.48" stroke-width="1" stroke-dasharray="1,1" shape-rendering="crispEdges"/>
<line y1="511" y2="796" x1="250.5" x2="250.5" stroke="#c8c8c8" stroke-opacity="0.48" stroke-width="1" stroke-dasharray="1,1" shape-rendering="crispEdges"/>
<line y1="511" y2="796" x1="297.5" x2="297.5" stroke="#c8c8c8" stroke-opacity="0.48" stroke-width="1" stroke-dasharray="1,1" shape-rendering="crispEdges"/>
<line y1="511" y2="796" x1="344.5" x2="344.5" stroke="#c8c8c8" stroke-opacity="0.48" stroke-width="1" stroke-dasharray="1,1" shape-rendering="crispEdges"/>
<line y1="511" y2="796" x1="391.5" x2="391.5" stroke="#c8c8c8" stroke-opacity="0.48" stroke-width="1" stroke-dasharray="1,1" shape-rendering="crispEdges"/>
<line y1="511" y2="796" x1="438.5" x2="438.5" stroke="#c8c8c8" stroke-opacity="0.48" stroke-width="1" stroke-dasharray="1,1" shape-rendering="crispEdges"/>
<line y1="511" y2="796" x1="485.5" x2="485.5" stroke="#c8c8c8" stroke-opacity="0.48" stroke-width="1" stroke-dasharray="1,1" shape-rendering="crispEdges"/>
<line y1="511" y2="796" x1="531.5" x2="531.5" stroke="#c8c8c8" stroke-opacity="0.48" stroke-width="1" stroke-dasharray="1,1" shape-rendering="crispEdges"/>
<line y1="511" y2="796" x1="578.5" x2="578.5" stroke="#c8c8c8" stroke-opacity="0.48" stroke-width="1" stroke-dasharray="1,1" shape-rendering="crispEdges"/>
<line y1="511" y2="796" x1="625.5" x2="625.5" stroke="#c8c8c8" stroke-opacity="0.48" stroke-width="1" stroke-dasharray="1,1" shape-rendering="crispEdges"/>
<polygon fill="#ffff00" points="226,795 226,792.6 226.9,792.3 227.8,792.1 228.7,791.8 229.6,791.6 230.5,791.3 231.4,791 232.3,790.1 233.2,790.9 234.1,790.4 235,789.1 235.9,789.3 236.8,789.6 237.7,788.1 238.6,787.9 239.5,788.3 240.4,789.1 241.3,789.2 242.2,787.4 243.1,788.6 244,788.6 244.9,789 245.8,788.6 246.7,789.6 247.6,788.9 248.5,789.4 249.4,788.5 250.3,787.5 251.2,788.1 252.1,787.9 253,787.4 253.9,787.3 254.8,787.5 255.7,787.3 256.6,785.9 257.5,785.6 258.4,785.8 259.3,785.5 260.2,785 261.1,785.6 262,783.9 262.9,784.8 263.8,783.8 264.7,785.2 265.6,784.7 266.5,784.7 267.4,783.7 268.3,783.1 269.2,785.8 270.1,784.8 271,784.7 271.9,784.9 272.8,780.4 273.7,776.9 274.6,772.9 275.5,776.8 276.4,780.8 277.3,774.1 278.2,772.3 279.1,770.3 280,768.6 280.9,767.7 281.8,770.3 282.7,769.5 283.6,764 284.5,763.5 285.4,768.2 286.3,766.8 287.2,766.8 288.1,766.3 289,766.7 289.9,762.3 290.8,759 291.7,760.8 292.6,756 293.5,765.2 294.4,764.2 295.3,772.6 296.2,775.9 297.1,775.9 298,773.3 298.9,768 299.8,759.7 300.7,764.2 301.6,761.8 302.5,766.5 303.4,770 304.3,759.5 305.2,752.7 306.1,763.8 307,777.9 307.9,778.7 308.8,779.9 309.7,777.9 310.6,777.8 311.5,777.2 312.4,780.8 313.3,774.9 314.2,770 315.1,767.5 316,776.9 316.9,780.6 317.8,774.8 318.7,774.7 319.6,771.7 320.5,763.7 321.4,756.8 322.3,759.6 323.2,751.8 324.1,751.1 325,763 325.9,774.9 326.8,773.7 327.7,771.9 328.6,765.9 329.5,764.7 330.4,771.7 331.3,774.3 332.2,771.9 333.1,774.4 334,778.7 334.9,778.2 335.8,781.7 336.7,781.7 337.6,779.4 338.5,778.2 339.4,780.1 340.3,777.5 341.2,773.8 342.1,773.5 343,778 343.9,778.6 344.8,763.1 345.7,756.8 346.6,762.5 347.5,766 348.4,768.4 349.3,773.1 350.2,776.9 351.1,776 352,774.8 352.9,771.5 353.8,765.5 354.7,762.7 355.6,767.1 356.5,770.1 357.4,776.6 358.3,773.3 359.2,780.3 360.1,778 361,782 361.9,780.1 362.8,782.6 363.7,782.7 364.6,782.4 365.5,785.5 366.4,785.6 367.3,783.7 368.2,785.4 369.1,784.4 370,786.2 370.9,783 371.8,784.1 372.7,783.6 373.6,784.3 374.5,784 375.4,783.4 376.3,781.9 377.2,782.2 378.1,784.7 379,783.2 379.9,784.7 380.8,786.7 381.7,786.3 382.6,788.2 383.5,786.4 384.4,787.6 385.3,787 386.2,786.5 387.1,786.7 388,786.7 388.9,787.7 389.8,788.1 390.7,788.6 391.6,788.5 392.5,789.6 393.4,789.6 394.3,790.6 395.2,789.5 396.1,790.2 397,790.4 397.9,790.4 398.8,791.3 399.7,791.1 400.6,791.3 401.5,791.5 402.4,791.7 403.3,791.9 404.2,792 405.1,792.1 406,792.1 406.9,792.2 407.8,792.2 408.7,792.3 409.6,792.3 410.5,792.4 411.4,792.5 412.3,792.5 413.2,792.6 414.1,792.6 415,792.7 415.9,792.7 416.8,792.8 417.7,792.9 418.6,792.9 419.5,793 420.4,793 421.3,793.1 422.2,793.1 423.1,793.2 424,793.2 424.9,793.2 425.8,793.3 426.7,793.3 427.6,793.4 428.5,793.4 429.4,793.5 430.3,793.5 431.2,793.6 432.1,793.6 433,793.6 433.9,793.7 434.8,793.7 435.7,793.8 436.6,793.8 437.5,793.9 438.4,793.9 439.3,794 440.2,794 441.1,794 442,794 442.9,794 443.8,794.1 444.7,794.1 445.6,794.1 446.5,794.1 447.4,794.1 448.3,794.1 449.2,794.2 450.1,794.2 451,794.2 451.9,794.2 452.8,794.2 453.7,794.2 454.6,794.2 455.5,794.3 456.4,794.3 457.3,794.3 458.2,794.3 459.1,794.3 460,794.3 460.9,794.3 461.8,794.4 462.7,794.4 463.6,794.4 464.5,794.4 465.4,794.4 466.3,794.4 467.2,794.5 468.1,794.5 469,794.5 469.9,794.5 631,794.5 631,797 226,797"/>
<rect x="64" y="795" width="567" height="2" fill="#ffff00"/>
<line x1="217.5" x2="217.5" y1="768" y2="794" stroke="#a0a000" stroke-width="1" stroke-dasharray="1,1" shape-rendering="crispEdges"/>
<line x1="451.5" x2="451.5" y1="768" y2="794" stroke="#a0a000" stroke-width="1" stroke-dasharray="1,1" shape-rendering="crispEdges"/>
<text x="187.8" y="767" font-size="10.2" fill="#d6d632" stroke="#d6d632" stroke-width="0.15">východ slunce</text>
<text x="424.1" y="767" font-size="10.2" fill="#d6d632" stroke="#d6d632" stroke-width="0.15">západ slunce</text>
<polyline fill="none" stroke="#14901a" stroke-width="1.3" stroke-linejoin="miter" points="66,548.6 66,548.6 66,557.7 75,557.7 75,548.6 76.3,548.6 76.3,557.7 77,557.7 77,548.6 87,548.6 87,557.7 96,557.7 96,548.6 103.5,548.6 103.5,557.7 104.5,557.7 104.5,548.6 106.7,548.6 106.7,557.7 112,557.7 112,557.7 115,557.7 115,548.6 123.6,548.6 123.6,539.6 133.8,539.6 133.8,548.6 141.5,548.6 141.5,557.7 143.3,557.7 143.3,548.6 145.1,548.6 145.1,557.7 146.9,557.7 146.9,548.6 148.7,548.6 148.7,557.7 150.5,557.7 150.5,548.6 156.8,548.6 156.8,539.6 161.2,539.6 161.2,548.6 180.7,548.6 180.7,539.6 191.3,539.6 191.3,530.5 194.3,530.5 194.3,539.6 210.2,539.6 210.2,530.5 211,530.5 211,539.6 216.6,539.6 216.6,548.6 221,548.6 221,548.6 222.9,548.6 222.9,557.7 224.7,557.7 224.7,548.6 226.6,548.6 226.6,557.7 236,557.7 236,566.8 239,566.8 239,575.8 243,575.8 243,584.9 245,584.9 245,575.8 247,575.8 247,575.8 248.6,575.8 248.6,584.9 250.2,584.9 250.2,575.8 251.8,575.8 251.8,584.9 253.4,584.9 253.4,575.8 255,575.8 255,584.9 256,584.9 256,593.9 256.5,593.9 256.5,584.9 257.3,584.9 257.3,593.9 258.2,593.9 258.2,584.9 259,584.9 259,593.9 266.5,593.9 266.5,584.9 267,584.9 267,593.9 269,593.9 269,593.9 270.7,593.9 270.7,603 272.3,603 272.3,593.9 274,593.9 274,603 275.1,603 275.1,603 275.6,603 275.6,612 276.1,612 276.1,621 276.1,621 276.1,621 278.1,621 278.1,630 278.1,630 278.1,630.1 279.8,630.1 279.8,639.1 280.1,639.1 280.1,641 281.9,641 281.9,648.2 282.1,648.2 282.1,649 283.8,649 283.8,657.2 284.1,657.2 284.1,659 286.1,659 286.1,666.3 287.1,666.3 287.1,670 288.1,670 288.1,675.4 289,675.4 289,680 291.5,680 291.5,684.4 293,684.4 293,687 295.8,687 295.8,693.5 296,693.5 296,694 299,694 299,702 299.1,702 299.1,702.5 300.8,702.5 300.8,711.5 302,711.5 302,718 302.4,718 302.4,720.6 303.7,720.6 303.7,729.6 304,729.6 304,732 304.8,732 304.8,738.7 306,738.7 306,747.8 306,747.8 306,748 306,748 306,747.8 306.9,747.8 306.9,738.7 307,738.7 307,738 307.9,738 307.9,729.6 308.8,729.6 308.8,722 309,722 309,720.6 310.1,720.6 310.1,711.5 311,711.5 311,704 311.9,704 311.9,711.5 313,711.5 313,720 314.4,720 314.4,711.5 315,711.5 315,708 317.6,708 317.6,704 318,704 318,711.5 318.6,711.5 318.6,720.6 319,720.6 319,728 319.8,728 319.8,720.6 320.8,720.6 320.8,712 321.5,712 321.5,720.6 322.3,720.6 322.3,729.6 323,729.6 323,738 323.1,738 323.1,738.7 323.9,738.7 323.9,747.8 324.7,747.8 324.7,756.8 325.6,756.8 325.6,765.9 325.6,765.9 325.6,766 325.6,766 325.6,765.9 326.3,765.9 326.3,756.8 327,756.8 327,748 327,748 327,747.8 328,747.8 328,738.7 329,738.7 329,730 331,730 331,732 331.5,732 331.5,729.6 333,729.6 333,722 332.5,722 332.5,729.6 332,729.6 332,738 333,738 333,729.6 334,729.6 334,722 339,722 339,721 341.9,721 341.9,729.6 342,729.6 342,730 345,730 345,732 345.5,732 345.5,738.7 346.2,738.7 346.2,747.8 346.9,747.8 346.9,756.8 347,756.8 347,758 347.9,758 347.9,765.9 348.9,765.9 348.9,774.9 349,774.9 349,776 349.1,776 349.1,774.9 350.1,774.9 350.1,765.9 351,765.9 351,758 351.3,758 351.3,756.8 353,756.8 353,749 354.7,749 354.7,756.8 355,756.8 355,758 356.6,758 356.6,765.9 357,765.9 357,768 357.9,768 357.9,774.9 359,774.9 359,784 359,784 359,784 359,784 359,784 360.1,784 360.1,774.9 361,774.9 361,768 363,768 363.9,768 363.9,774.9 365,774.9 365,784 365,784 365,784 365,784 365,784 368,784 368,777 371,777 371,784 371,784 371,784 373,784 373,785 373.1,785 373.1,784 374.2,784 374.2,774.9 375,774.9 375,768 375.6,768 375.6,765.9 378,765.9 378,758 378.1,758 378.1,756.8 379,756.8 379,747.8 379.9,747.8 379.9,738.7 380.8,738.7 380.8,729.6 381,729.6 381,728 381.6,728 381.6,720.6 382.4,720.6 382.4,711.5 383,711.5 383,704 383.1,704 383.1,702.5 384.1,702.5 384.1,693.5 385,693.5 385,684.4 385,684.4 385,684 385.8,684 385.8,675.4 386.5,675.4 386.5,668 386.5,668 386.5,666.3 386.7,666.3 386.7,657.2 386.9,657.2 386.9,648.2 387,648.2 387,645 388,645 388,639.1 389,639.1 389,633 389.6,633 389.6,630.1 391,630.1 391,623 391.3,623 391.3,621 392.6,621 392.6,612 393.7,612 393.7,604 396,604 396,603 396,603 396,603 396.9,603 396.9,593.9 397,593.9 397,593 398,593 398,584.9 399,584.9 399,577 399.1,577 399.1,575.8 400,575.8 400,567 400,567 400,566.8 401,566.8 401,557.7 401,557.7 401,566.8 402.7,566.8 402.7,557.7 404.3,557.7 404.3,566.8 406,566.8 406,557.7 407,557.7 407,548.6 412.5,548.6 412.5,539.6 414,539.6 414,548.6 415.5,548.6 415.5,539.6 417,539.6 417,548.6 422,548.6 422,539.6 438,539.6 438,530.5 439.7,530.5 439.7,539.6 441.3,539.6 441.3,530.5 443,530.5 443,539.6 443,539.6 443,530.5 455.8,530.5 455.8,521.5 461.2,521.5 462.2,521.5 462.2,530.5 463.2,530.5 463.2,539.6 464.2,539.6 464.2,548.6 465.2,548.6 465.2,557.7 474,557.7 474,566.8 476,566.8 476,575.8 479.5,575.8 479.5,575.8 479.7,575.8 479.7,584.9 479.8,584.9 479.8,593.9 480,593.9 480,603 480,603 480,603 481.8,603 481.8,612 482,612 482,613 483,613 483,621 488.6,621 488.6,639.1 492.5,639.1 492.5,630.1 493,630.1 493,639.1 494,639.1 494,648.2 501,648.2 501,657.2 506,657.2 506,666.3 506,666.3 506,666.3 507.4,666.3 507.4,657.2 508.8,657.2 508.8,666.3 510.2,666.3 510.2,657.2 511.6,657.2 511.6,666.3 513,666.3 513,657.2 518,657.2 518,657.2 518,657.2 518,666.3 520.2,666.3 520.2,657.2 522.4,657.2 522.4,666.3 524.6,666.3 524.6,657.2 526.8,657.2 526.8,666.3 529,666.3 529,657.2 534,657.2 534,666.3 535,666.3 535,657.2 538,657.2 538,666.3 539.4,666.3 539.4,657.2 540.8,657.2 540.8,666.3 542.2,666.3 542.2,657.2 543.6,657.2 543.6,666.3 545,666.3 545,657.2 559,657.2 559,648.2 559,648.2 559,648.2 560.8,648.2 560.8,657.2 562.6,657.2 562.6,648.2 564.4,648.2 564.4,657.2 566.2,657.2 566.2,648.2 568,648.2 568,657.2 569,657.2 569,657.2 571.2,657.2 571.2,666.3 573.4,666.3 573.4,657.2 575.6,657.2 575.6,666.3 577.8,666.3 577.8,657.2 580,657.2 580,666.3 582,666.3 582,675.4 593,675.4 593,666.3 606,666.3 606,657.2 608,657.2 608,648.2 611.5,648.2 611.5,639.1 617.5,639.1 617.5,630.1 618.7,630.1 618.7,621 622.7,621 622.7,612 626,612 626,603 628,603 628,593.9 628.5,593.9 628.5,586.7"/>
<polyline fill="none" stroke="#ff1010" stroke-width="1.5" stroke-linejoin="round" shape-rendering="crispEdges" points="65.6,700.6 66.4,700.9 67.2,699.6 68,698.9 68.8,698.7 69.6,698 70.4,697.3 71.2,697 72,698.2 72.8,697.4 73.6,697.1 74.4,697.8 75.2,697.8 76,698.4 76.8,699.2 77.6,700.7 78.4,700.8 79.2,701.5 80,702.2 80.8,701.4 81.6,701.5 82.4,701.1 83.2,701.8 84,701.8 84.8,701.5 85.6,701.5 86.4,700.9 87.2,701 88,699.9 88.8,699.8 89.6,698.5 90.4,699.1 91.2,698.8 92,699.8 92.8,701.6 93.6,701.9 94.4,702.7 95.2,703.4 96,704.4 96.8,704.9 97.6,705.9 98.4,707.5 99.2,708.2 100,707.3 100.8,707.5 101.6,706.5 102.4,706.9 103.2,706 104,706.5 104.8,706.2 105.6,706.6 106.4,706 107.2,706.5 108,706.7 108.8,705.4 109.6,705 110.4,704.9 111.2,704.1 112,704 112.8,704.9 113.6,705.2 114.4,705.3 115.2,706.3 116,707.5 116.8,707.7 117.6,708.6 118.4,708.7 119.2,709.5 120,710.9 120.8,711.3 121.6,712.3 122.4,713 123.2,715.1 124,715.7 124.8,718.4 125.6,719.9 126.4,720.6 127.2,720.4 128,721.7 128.8,721.3 129.6,722.7 130.4,722.1 131.2,720.5 132,720.8 132.8,719.3 133.6,719 134.4,717.9 135.2,716.9 136,716.9 136.8,715.5 137.6,715.9 138.4,714.6 139.2,713.8 140,714.2 140.8,713.8 141.6,713.7 142.4,714.4 143.2,713.7 144,713.7 144.8,713.8 145.6,713.7 146.4,714.8 147.2,715.1 148,715.4 148.8,715.9 149.6,715.4 150.4,716 151.2,714.9 152,715.5 152.8,715 153.6,715.7 154.4,716 155.2,717 156,719.2 156.8,719.8 157.6,720.8 158.4,722.1 159.2,722 160,723.7 160.8,724.3 161.6,725.6 162.4,725.7 163.2,725.4 164,726.6 164.8,725.8 165.6,726.5 166.4,726.8 167.2,726 168,726.8 168.8,726.7 169.6,726.8 170.4,727.1 171.2,728.5 172,728 172.8,728.5 173.6,728.8 174.4,728.6 175.2,730.2 176,730.7 176.8,731.4 177.6,731.2 178.4,731.5 179.2,732.3 180,733.3 180.8,734 181.6,734.5 182.4,735.4 183.2,735.7 184,737.6 184.8,737.8 185.6,738.6 186.4,739.7 187.2,739.5 188,740.9 188.8,741 189.6,742.3 190.4,741.9 191.2,742.8 192,743.9 192.8,744.3 193.6,744.2 194.4,744.3 195.2,743.6 196,743.7 196.8,742.9 197.6,743.8 198.4,742.8 199.2,743.5 200,743.5 200.8,743.9 201.6,744.2 202.4,743.8 203.2,745.1 204,744.7 204.8,746.3 205.6,747 206.4,747.6 207.2,748.6 208,748.9 208.8,750 209.6,751.2 210.4,750.3 211.2,749.5 212,749.4 212.8,748.9 213.6,747.8 214.4,747 215.2,746.6 216,744.6 216.8,743 217.6,741.8 218.4,741.1 219.2,739.5 220,739.6 220.8,739.3 221.6,738.9 222.4,738.6 223.2,738.8 224,737.3 224.8,738.7 225.6,737.8 226.4,737.7 227.2,738.8 228,738.6 228.8,737.7 229.6,736.3 230.4,736.2 231.2,734.6 232,734.3 232.8,731.6 233.6,730.1 234.4,728.2 235.2,725.8 236,724 236.8,721 237.6,719.4 238.4,717.1 239.2,713.9 240,712.1 240.8,711.2 241.6,709.2 242.4,709.1 243.2,708 244,705.8 244.8,704.9 245.6,704.1 246.4,703.8 247.2,703.1 248,703.2 248.8,702.4 249.6,702 250.4,701.4 251.2,700.1 252,699.6 252.8,698.4 253.6,696.4 254.4,695.5 255.2,694.1 256,693.8 256.8,692.7 257.6,692.7 258.4,692 259.2,691.4 260,689 260.8,687.5 261.6,687.2 262.4,685.4 263.2,684.9 264,682.8 264.8,681.8 265.6,680.5 266.4,680.7 267.2,679.2 268,678.1 268.8,677.2 269.6,677.2 270.4,677.1 271.2,676.4 272,675.8 272.8,675.9 273.6,673.3 274.4,668.4 275.2,663.4 276,657.8 276.8,654.5 277.6,651.9 278.4,648.6 279.2,646.2 280,643.9 280.8,640 281.6,637.6 282.4,635.5 283.2,632.8 284,628.7 284.8,627.5 285.6,625.6 286.4,624 287.2,621.5 288,619.1 288.8,617.4 289.6,616.1 290.4,614.2 291.2,611.5 292,610.2 292.8,608.3 293.6,606.4 294.4,603.4 295.2,602.3 296,604.9 296.8,608.1 297.6,608.3 298.4,607.2 299.2,607.1 300,605.8 300.8,602.9 301.6,598.2 302.4,594.6 303.2,591.2 304,588.6 304.8,587.8 305.6,585.8 306.4,590.3 307.2,592.3 308,596.5 308.8,598.6 309.6,600.8 310.4,603.5 311.2,606 312,608.3 312.8,609.1 313.6,610.4 314.4,610.9 315.2,612.7 316,611.3 316.8,610.8 317.6,610 318.4,610.5 319.2,608.8 320,608.4 320.8,607.9 321.6,603.4 322.4,597 323.2,589.4 324,582.2 324.8,578 325.6,575.3 326.4,574.7 327.2,578.6 328,583.7 328.8,586.2 329.6,586.6 330.4,587.4 331.2,589 332,587.6 332.8,588.8 333.6,591.2 334.4,592.7 335.2,595.6 336,597.9 336.8,597.3 337.6,597.9 338.4,598.6 339.2,597.7 340,596.3 340.8,592.8 341.6,588.2 342.4,586 343.2,581.7 344,578.7 344.8,576.1 345.6,571.1 346.4,567.3 347.2,562.6 348,562.6 348.8,565.3 349.6,568.8 350.4,572.3 351.2,575.4 352,578.8 352.8,579.3 353.6,577.3 354.4,574.3 355.2,573.1 356,571.3 356.8,569.9 357.6,568.6 358.4,570.2 359.2,569.8 360,571.5 360.8,571.3 361.6,573.3 362.4,573.1 363.2,573.9 364,574.7 364.8,574.1 365.6,574.5 366.4,575.9 367.2,576.2 368,576.6 368.8,576.1 369.6,576.6 370.4,576.4 371.2,577.1 372,577.5 372.8,578.6 373.6,578.9 374.4,579.5 375.2,580.7 376,580.6 376.8,582.3 377.6,583.3 378.4,584.8 379.2,586.4 380,588.8 380.8,590.6 381.6,593.7 382.4,596.4 383.2,599.7 384,603.5 384.8,605.9 385.6,610.1 386.4,613.1 387.2,616.2 388,618.1 388.8,619.2 389.6,621.9 390.4,623.7 391.2,625 392,627.7 392.8,628.8 393.6,630.6 394.4,631.9 395.2,632.9 396,636 396.8,637 397.6,639.2 398.4,641.7 399.2,642.8 400,644.1 400.8,645.5 401.6,645.6 402.4,647.3 403.2,647.5 404,649 404.8,649.9 405.6,650.6 406.4,650.4 407.2,651.2 408,653 408.8,652.8 409.6,653.6 410.4,654.1 411.2,655.1 412,655.7 412.8,656.1 413.6,656.3 414.4,657 415.2,657.5 416,657.6 416.8,658.4 417.6,658.1 418.4,657.6 419.2,657.6 420,656.6 420.8,656.9 421.6,655.8 422.4,656.4 423.2,656.5 424,656.9 424.8,656.8 425.6,657 426.4,656.2 427.2,657.1 428,656.7 428.8,656.6 429.6,656.8 430.4,657.5 431.2,657.6 432,657.7 432.8,657.5 433.6,656.9 434.4,657 435.2,657.6 436,657.2 436.8,657.5 437.6,657.2 438.4,657.4 439.2,658.2 440,657.6 440.8,658.5 441.6,657.8 442.4,658.5 443.2,657.7 444,657.7 444.8,657.9 445.6,657.3 446.4,657.9 447.2,657.8 448,657.3 448.8,658.5 449.6,657.8 450.4,657.6 451.2,659.4 452,659 452.8,659.5 453.6,659.7 454.4,660.4 455.2,661.8 456,662.1 456.8,661.8 457.6,661.3 458.4,661.2 459.2,662 460,661 460.8,661.7 461.6,659.1 462.4,654.9 463.2,652.7 464,648.3 464.8,648.1 465.6,647 466.4,645.7 467.2,644.3 468,643.4 468.8,642.2 469.6,642.5 470.4,641.9 471.2,641.6 472,640.3 472.8,640 473.6,638.9 474.4,638.1 475.2,636.6 476,634.1 476.8,632.2 477.6,629.6 478.4,626.9 479.2,624.1 480,622.3 480.8,618.8 481.6,615.8 482.4,614 483.2,612.9 484,611.6 484.8,609.6 485.6,608 486.4,606.8 487.2,605 488,602.9 488.8,601.3 489.6,601.1 490.4,600 491.2,599.4 492,599.7 492.8,599.5 493.6,598.3 494.4,598.6 495.2,598.4 496,597 496.8,596.6 497.6,596.7 498.4,596.1 499.2,596.5 500,596.2 500.8,595 501.6,595.1 502.4,594.4 503.2,593.3 504,593.9 504.8,592.4 505.6,591.8 506.4,591.8 507.2,590.8 508,591 508.8,590.8 509.6,591.4 510.4,590.5 511.2,591 512,590.8 512.8,590.4 513.6,589.8 514.4,589.8 515.2,590.1 516,590.4 516.8,591.1 517.6,591.3 518.4,591.5 519.2,592.2 520,593.2 520.8,592.5 521.6,592.8 522.4,592.3 523.2,592.4 524,592.4 524.8,592.9 525.6,593.5 526.4,593.3 527.2,593.7 528,593.5 528.8,593.1 529.6,593 530.4,592.1 531.2,592.5 532,592.2 532.8,592.5 533.6,591.6 534.4,592.2 535.2,591.9 536,592.2 536.8,592.2 537.6,591.9 538.4,592.9 539.2,593.1 540,593 540.8,592.4 541.6,593.3 542.4,593.9 543.2,594.2 544,594.1 544.8,593.3 545.6,594.7 546.4,594.6 547.2,594.2 548,595.3 548.8,595.4 549.6,595.8 550.4,595.2 551.2,595.9 552,596 552.8,596.1 553.6,597.1 554.4,597.2 555.2,597.1 556,597.7 556.8,598.5 557.6,598.1 558.4,598.6 559.2,598.1 560,598.7 560.8,597.3 561.6,597.9 562.4,598.1 563.2,598.3 564,598.7 564.8,599 565.6,599.6 566.4,600.6 567.2,600.7 568,599.6 568.8,598.6 569.6,596 570.4,595.8 571.2,596.8 572,595.9 572.8,597.1 573.6,596.2 574.4,596.9 575.2,596.6 576,595.3 576.8,595 577.6,595.1 578.4,596.3 579.2,596.7 580,597.4 580.8,597.6 581.6,597.3 582.4,596.7 583.2,595.3 584,594.4 584.8,592.3 585.6,591.6 586.4,590.3 587.2,590.4 588,591.9 588.8,592 589.6,593.5 590.4,594.7 591.2,595.7 592,594.7 592.8,595.4 593.6,596 594.4,597 595.2,596.2 596,597.5 596.8,596.5 597.6,596.3 598.4,596.4 599.2,594.8 600,594.8 600.8,594.9 601.6,595.3 602.4,595.9 603.2,596.9 604,597.1 604.8,597.5 605.6,599.6 606.4,600.2 607.2,600.8 608,602.8 608.8,603.8 609.6,604.1 610.4,606 611.2,606.6 612,606.6 612.8,607.1 613.6,609.1 614.4,610.2 615.2,610.5 616,612.9 616.8,614.3 617.6,615.5 618.4,617.2 619.2,618.8 620,619.3 620.8,621.4 621.6,622.9 622.4,623.2 623.2,624.7 624,625.7 624.8,626.8 625.6,627.4 626.4,628"/>
<polyline fill="none" stroke="#1080ff" stroke-width="2" stroke-linejoin="miter" points="64,793.8 385,793.8 385,788.2 388,788.2 388,782.6 391,782.6 391,777.2 393.7,777.2 393.7,771.7 396,771.7 396,765.7 398.5,765.7 398.5,760.1 400,760.1 400,755.1 625,755.1 625,794 631,794"/>
<rect x="62" y="510" width="2.4" height="288" fill="#e8e8e8"/>
<rect x="62" y="797" width="570" height="1.5" fill="#d8d8d8"/>
<rect x="630.5" y="510" width="2" height="288" fill="#f0f0f0"/>
<line x1="630.5" x2="634.5" y1="785.5" y2="785.5" stroke="#ff0000" stroke-width="1" shape-rendering="crispEdges"/>
<line x1="630.5" x2="632.5" y1="783.5" y2="783.5" stroke="#ff0000" stroke-width="1" shape-rendering="crispEdges"/>
<line x1="630.5" x2="632.5" y1="780.5" y2="780.5" stroke="#ff0000" stroke-width="1" shape-rendering="crispEdges"/>
<line x1="630.5" x2="632.5" y1="778.5" y2="778.5" stroke="#ff0000" stroke-width="1" shape-rendering="crispEdges"/>
<line x1="630.5" x2="632.5" y1="776.5" y2="776.5" stroke="#ff0000" stroke-width="1" shape-rendering="crispEdges"/>
<line x1="630.5" x2="634.5" y1="773.5" y2="773.5" stroke="#ff0000" stroke-width="1" shape-rendering="crispEdges"/>
<line x1="630.5" x2="632.5" y1="771.5" y2="771.5" stroke="#ff0000" stroke-width="1" shape-rendering="crispEdges"/>
<line x1="630.5" x2="632.5" y1="768.5" y2="768.5" stroke="#ff0000" stroke-width="1" shape-rendering="crispEdges"/>
<line x1="630.5" x2="632.5" y1="766.5" y2="766.5" stroke="#ff0000" stroke-width="1" shape-rendering="crispEdges"/>
<line x1="630.5" x2="632.5" y1="764.5" y2="764.5" stroke="#ff0000" stroke-width="1" shape-rendering="crispEdges"/>
<line x1="630.5" x2="634.5" y1="761.5" y2="761.5" stroke="#ff0000" stroke-width="1" shape-rendering="crispEdges"/>
<line x1="630.5" x2="632.5" y1="759.5" y2="759.5" stroke="#ff0000" stroke-width="1" shape-rendering="crispEdges"/>
<line x1="630.5" x2="632.5" y1="756.5" y2="756.5" stroke="#ff0000" stroke-width="1" shape-rendering="crispEdges"/>
<line x1="630.5" x2="632.5" y1="754.5" y2="754.5" stroke="#ff0000" stroke-width="1" shape-rendering="crispEdges"/>
<line x1="630.5" x2="632.5" y1="751.5" y2="751.5" stroke="#ff0000" stroke-width="1" shape-rendering="crispEdges"/>
<line x1="630.5" x2="634.5" y1="749.5" y2="749.5" stroke="#ff0000" stroke-width="1" shape-rendering="crispEdges"/>
<line x1="630.5" x2="632.5" y1="747.5" y2="747.5" stroke="#ff0000" stroke-width="1" shape-rendering="crispEdges"/>
<line x1="630.5" x2="632.5" y1="744.5" y2="744.5" stroke="#ff0000" stroke-width="1" shape-rendering="crispEdges"/>
<line x1="630.5" x2="632.5" y1="742.5" y2="742.5" stroke="#ff0000" stroke-width="1" shape-rendering="crispEdges"/>
<line x1="630.5" x2="632.5" y1="739.5" y2="739.5" stroke="#ff0000" stroke-width="1" shape-rendering="crispEdges"/>
<line x1="630.5" x2="634.5" y1="737.5" y2="737.5" stroke="#ff0000" stroke-width="1" shape-rendering="crispEdges"/>
<line x1="630.5" x2="632.5" y1="735.5" y2="735.5" stroke="#ff0000" stroke-width="1" shape-rendering="crispEdges"/>
<line x1="630.5" x2="632.5" y1="732.5" y2="732.5" stroke="#ff0000" stroke-width="1" shape-rendering="crispEdges"/>
<line x1="630.5" x2="632.5" y1="730.5" y2="730.5" stroke="#ff0000" stroke-width="1" shape-rendering="crispEdges"/>
<line x1="630.5" x2="632.5" y1="727.5" y2="727.5" stroke="#ff0000" stroke-width="1" shape-rendering="crispEdges"/>
<line x1="630.5" x2="634.5" y1="725.5" y2="725.5" stroke="#ff0000" stroke-width="1" shape-rendering="crispEdges"/>
<line x1="630.5" x2="632.5" y1="722.5" y2="722.5" stroke="#ff0000" stroke-width="1" shape-rendering="crispEdges"/>
<line x1="630.5" x2="632.5" y1="720.5" y2="720.5" stroke="#ff0000" stroke-width="1" shape-rendering="crispEdges"/>
<line x1="630.5" x2="632.5" y1="718.5" y2="718.5" stroke="#ff0000" stroke-width="1" shape-rendering="crispEdges"/>
<line x1="630.5" x2="632.5" y1="715.5" y2="715.5" stroke="#ff0000" stroke-width="1" shape-rendering="crispEdges"/>
<line x1="630.5" x2="634.5" y1="713.5" y2="713.5" stroke="#ff0000" stroke-width="1" shape-rendering="crispEdges"/>
<line x1="630.5" x2="632.5" y1="710.5" y2="710.5" stroke="#ff0000" stroke-width="1" shape-rendering="crispEdges"/>
<line x1="630.5" x2="632.5" y1="708.5" y2="708.5" stroke="#ff0000" stroke-width="1" shape-rendering="crispEdges"/>
<line x1="630.5" x2="632.5" y1="706.5" y2="706.5" stroke="#ff0000" stroke-width="1" shape-rendering="crispEdges"/>
<line x1="630.5" x2="632.5" y1="703.5" y2="703.5" stroke="#ff0000" stroke-width="1" shape-rendering="crispEdges"/>
<line x1="630.5" x2="634.5" y1="701.5" y2="701.5" stroke="#ff0000" stroke-width="1" shape-rendering="crispEdges"/>
<line x1="630.5" x2="632.5" y1="698.5" y2="698.5" stroke="#ff0000" stroke-width="1" shape-rendering="crispEdges"/>
<line x1="630.5" x2="632.5" y1="696.5" y2="696.5" stroke="#ff0000" stroke-width="1" shape-rendering="crispEdges"/>
<line x1="630.5" x2="632.5" y1="693.5" y2="693.5" stroke="#ff0000" stroke-width="1" shape-rendering="crispEdges"/>
<line x1="630.5" x2="632.5" y1="691.5" y2="691.5" stroke="#ff0000" stroke-width="1" shape-rendering="crispEdges"/>
<line x1="630.5" x2="634.5" y1="689.5" y2="689.5" stroke="#ff0000" stroke-width="1" shape-rendering="crispEdges"/>
<line x1="630.5" x2="632.5" y1="686.5" y2="686.5" stroke="#ff0000" stroke-width="1" shape-rendering="crispEdges"/>
<line x1="630.5" x2="632.5" y1="684.5" y2="684.5" stroke="#ff0000" stroke-width="1" shape-rendering="crispEdges"/>
<line x1="630.5" x2="632.5" y1="681.5" y2="681.5" stroke="#ff0000" stroke-width="1" shape-rendering="crispEdges"/>
<line x1="630.5" x2="632.5" y1="679.5" y2="679.5" stroke="#ff0000" stroke-width="1" shape-rendering="crispEdges"/>
<line x1="630.5" x2="634.5" y1="677.5" y2="677.5" stroke="#ff0000" stroke-width="1" shape-rendering="crispEdges"/>
<line x1="630.5" x2="632.5" y1="674.5" y2="674.5" stroke="#ff0000" stroke-width="1" shape-rendering="crispEdges"/>
<line x1="630.5" x2="632.5" y1="672.5" y2="672.5" stroke="#ff0000" stroke-width="1" shape-rendering="crispEdges"/>
<line x1="630.5" x2="632.5" y1="669.5" y2="669.5" stroke="#ff0000" stroke-width="1" shape-rendering="crispEdges"/>
<line x1="630.5" x2="632.5" y1="667.5" y2="667.5" stroke="#ff0000" stroke-width="1" shape-rendering="crispEdges"/>
<line x1="630.5" x2="634.5" y1="664.5" y2="664.5" stroke="#ff0000" stroke-width="1" shape-rendering="crispEdges"/>
<line x1="630.5" x2="632.5" y1="662.5" y2="662.5" stroke="#ff0000" stroke-width="1" shape-rendering="crispEdges"/>
<line x1="630.5" x2="632.5" y1="660.5" y2="660.5" stroke="#ff0000" stroke-width="1" shape-rendering="crispEdges"/>
<line x1="630.5" x2="632.5" y1="657.5" y2="657.5" stroke="#ff0000" stroke-width="1" shape-rendering="crispEdges"/>
<line x1="630.5" x2="632.5" y1="655.5" y2="655.5" stroke="#ff0000" stroke-width="1" shape-rendering="crispEdges"/>
<line x1="630.5" x2="634.5" y1="652.5" y2="652.5" stroke="#ff0000" stroke-width="1" shape-rendering="crispEdges"/>
<line x1="630.5" x2="632.5" y1="650.5" y2="650.5" stroke="#ff0000" stroke-width="1" shape-rendering="crispEdges"/>
<line x1="630.5" x2="632.5" y1="648.5" y2="648.5" stroke="#ff0000" stroke-width="1" shape-rendering="crispEdges"/>
<line x1="630.5" x2="632.5" y1="645.5" y2="645.5" stroke="#ff0000" stroke-width="1" shape-rendering="crispEdges"/>
<line x1="630.5" x2="632.5" y1="643.5" y2="643.5" stroke="#ff0000" stroke-width="1" shape-rendering="crispEdges"/>
<line x1="630.5" x2="634.5" y1="640.5" y2="640.5" stroke="#ff0000" stroke-width="1" shape-rendering="crispEdges"/>
<line x1="630.5" x2="632.5" y1="638.5" y2="638.5" stroke="#ff0000" stroke-width="1" shape-rendering="crispEdges"/>
<line x1="630.5" x2="632.5" y1="635.5" y2="635.5" stroke="#ff0000" stroke-width="1" shape-rendering="crispEdges"/>
<line x1="630.5" x2="632.5" y1="633.5" y2="633.5" stroke="#ff0000" stroke-width="1" shape-rendering="crispEdges"/>
<line x1="630.5" x2="632.5" y1="631.5" y2="631.5" stroke="#ff0000" stroke-width="1" shape-rendering="crispEdges"/>
<line x1="630.5" x2="634.5" y1="628.5" y2="628.5" stroke="#ff0000" stroke-width="1" shape-rendering="crispEdges"/>
<line x1="630.5" x2="632.5" y1="626.5" y2="626.5" stroke="#ff0000" stroke-width="1" shape-rendering="crispEdges"/>
<line x1="630.5" x2="632.5" y1="623.5" y2="623.5" stroke="#ff0000" stroke-width="1" shape-rendering="crispEdges"/>
<line x1="630.5" x2="632.5" y1="621.5" y2="621.5" stroke="#ff0000" stroke-width="1" shape-rendering="crispEdges"/>
<line x1="630.5" x2="632.5" y1="618.5" y2="618.5" stroke="#ff0000" stroke-width="1" shape-rendering="crispEdges"/>
<line x1="630.5" x2="634.5" y1="616.5" y2="616.5" stroke="#ff0000" stroke-width="1" shape-rendering="crispEdges"/>
<line x1="630.5" x2="632.5" y1="614.5" y2="614.5" stroke="#ff0000" stroke-width="1" shape-rendering="crispEdges"/>
<line x1="630.5" x2="632.5" y1="611.5" y2="611.5" stroke="#ff0000" stroke-width="1" shape-rendering="crispEdges"/>
<line x1="630.5" x2="632.5" y1="609.5" y2="609.5" stroke="#ff0000" stroke-width="1" shape-rendering="crispEdges"/>
<line x1="630.5" x2="632.5" y1="606.5" y2="606.5" stroke="#ff0000" stroke-width="1" shape-rendering="crispEdges"/>
<line x1="630.5" x2="634.5" y1="604.5" y2="604.5" stroke="#ff0000" stroke-width="1" shape-rendering="crispEdges"/>
<line x1="630.5" x2="632.5" y1="602.5" y2="602.5" stroke="#ff0000" stroke-width="1" shape-rendering="crispEdges"/>
<line x1="630.5" x2="632.5" y1="599.5" y2="599.5" stroke="#ff0000" stroke-width="1" shape-rendering="crispEdges"/>
<line x1="630.5" x2="632.5" y1="597.5" y2="597.5" stroke="#ff0000" stroke-width="1" shape-rendering="crispEdges"/>
<line x1="630.5" x2="632.5" y1="594.5" y2="594.5" stroke="#ff0000" stroke-width="1" shape-rendering="crispEdges"/>
<line x1="630.5" x2="634.5" y1="592.5" y2="592.5" stroke="#ff0000" stroke-width="1" shape-rendering="crispEdges"/>
<line x1="630.5" x2="632.5" y1="589.5" y2="589.5" stroke="#ff0000" stroke-width="1" shape-rendering="crispEdges"/>
<line x1="630.5" x2="632.5" y1="587.5" y2="587.5" stroke="#ff0000" stroke-width="1" shape-rendering="crispEdges"/>
<line x1="630.5" x2="632.5" y1="585.5" y2="585.5" stroke="#ff0000" stroke-width="1" shape-rendering="crispEdges"/>
<line x1="630.5" x2="632.5" y1="582.5" y2="582.5" stroke="#ff0000" stroke-width="1" shape-rendering="crispEdges"/>
<line x1="630.5" x2="634.5" y1="580.5" y2="580.5" stroke="#ff0000" stroke-width="1" shape-rendering="crispEdges"/>
<line x1="630.5" x2="632.5" y1="577.5" y2="577.5" stroke="#ff0000" stroke-width="1" shape-rendering="crispEdges"/>
<line x1="630.5" x2="632.5" y1="575.5" y2="575.5" stroke="#ff0000" stroke-width="1" shape-rendering="crispEdges"/>
<line x1="630.5" x2="632.5" y1="573.5" y2="573.5" stroke="#ff0000" stroke-width="1" shape-rendering="crispEdges"/>
<line x1="630.5" x2="632.5" y1="570.5" y2="570.5" stroke="#ff0000" stroke-width="1" shape-rendering="crispEdges"/>
<line x1="630.5" x2="634.5" y1="568.5" y2="568.5" stroke="#ff0000" stroke-width="1" shape-rendering="crispEdges"/>
<line x1="630.5" x2="632.5" y1="565.5" y2="565.5" stroke="#ff0000" stroke-width="1" shape-rendering="crispEdges"/>
<line x1="630.5" x2="632.5" y1="563.5" y2="563.5" stroke="#ff0000" stroke-width="1" shape-rendering="crispEdges"/>
<line x1="630.5" x2="632.5" y1="560.5" y2="560.5" stroke="#ff0000" stroke-width="1" shape-rendering="crispEdges"/>
<line x1="630.5" x2="632.5" y1="558.5" y2="558.5" stroke="#ff0000" stroke-width="1" shape-rendering="crispEdges"/>
<line x1="630.5" x2="634.5" y1="556.5" y2="556.5" stroke="#ff0000" stroke-width="1" shape-rendering="crispEdges"/>
<line x1="630.5" x2="632.5" y1="553.5" y2="553.5" stroke="#ff0000" stroke-width="1" shape-rendering="crispEdges"/>
<line x1="630.5" x2="632.5" y1="551.5" y2="551.5" stroke="#ff0000" stroke-width="1" shape-rendering="crispEdges"/>
<line x1="630.5" x2="632.5" y1="548.5" y2="548.5" stroke="#ff0000" stroke-width="1" shape-rendering="crispEdges"/>
<line x1="630.5" x2="632.5" y1="546.5" y2="546.5" stroke="#ff0000" stroke-width="1" shape-rendering="crispEdges"/>
<line x1="630.5" x2="634.5" y1="544.5" y2="544.5" stroke="#ff0000" stroke-width="1" shape-rendering="crispEdges"/>
<line x1="630.5" x2="632.5" y1="541.5" y2="541.5" stroke="#ff0000" stroke-width="1" shape-rendering="crispEdges"/>
<line x1="630.5" x2="632.5" y1="539.5" y2="539.5" stroke="#ff0000" stroke-width="1" shape-rendering="crispEdges"/>
<line x1="630.5" x2="632.5" y1="536.5" y2="536.5" stroke="#ff0000" stroke-width="1" shape-rendering="crispEdges"/>
<line x1="630.5" x2="632.5" y1="534.5" y2="534.5" stroke="#ff0000" stroke-width="1" shape-rendering="crispEdges"/>
<line x1="630.5" x2="634.5" y1="531.5" y2="531.5" stroke="#ff0000" stroke-width="1" shape-rendering="crispEdges"/>
<line x1="630.5" x2="632.5" y1="529.5" y2="529.5" stroke="#ff0000" stroke-width="1" shape-rendering="crispEdges"/>
<line x1="630.5" x2="632.5" y1="527.5" y2="527.5" stroke="#ff0000" stroke-width="1" shape-rendering="crispEdges"/>
<line x1="630.5" x2="632.5" y1="524.5" y2="524.5" stroke="#ff0000" stroke-width="1" shape-rendering="crispEdges"/>
<line x1="630.5" x2="632.5" y1="522.5" y2="522.5" stroke="#ff0000" stroke-width="1" shape-rendering="crispEdges"/>
<line x1="630.5" x2="634.5" y1="519.5" y2="519.5" stroke="#ff0000" stroke-width="1" shape-rendering="crispEdges"/>
<line x1="630.5" x2="632.5" y1="517.5" y2="517.5" stroke="#ff0000" stroke-width="1" shape-rendering="crispEdges"/>
<line x1="630.5" x2="632.5" y1="515.5" y2="515.5" stroke="#ff0000" stroke-width="1" shape-rendering="crispEdges"/>
<line x1="630.5" x2="632.5" y1="512.5" y2="512.5" stroke="#ff0000" stroke-width="1" shape-rendering="crispEdges"/>
<text x="640.2" y="787.9" font-size="8.4" fill="#ff0000" stroke="#ff0000" stroke-width="0.2" textLength="4.3" lengthAdjust="spacingAndGlyphs">3</text>
<text x="640.2" y="775.8" font-size="8.4" fill="#ff0000" stroke="#ff0000" stroke-width="0.2" textLength="10.6" lengthAdjust="spacingAndGlyphs">3,5</text>
<text x="640.2" y="763.7" font-size="8.4" fill="#ff0000" stroke="#ff0000" stroke-width="0.2" textLength="4.3" lengthAdjust="spacingAndGlyphs">4</text>
<text x="640.2" y="751.6" font-size="8.4" fill="#ff0000" stroke="#ff0000" stroke-width="0.2" textLength="10.6" lengthAdjust="spacingAndGlyphs">4,5</text>
<text x="640.2" y="739.5" font-size="8.4" fill="#ff0000" stroke="#ff0000" stroke-width="0.2" textLength="4.3" lengthAdjust="spacingAndGlyphs">5</text>
<text x="640.2" y="727.4" font-size="8.4" fill="#ff0000" stroke="#ff0000" stroke-width="0.2" textLength="10.6" lengthAdjust="spacingAndGlyphs">5,5</text>
<text x="640.2" y="715.4" font-size="8.4" fill="#ff0000" stroke="#ff0000" stroke-width="0.2" textLength="4.3" lengthAdjust="spacingAndGlyphs">6</text>
<text x="640.2" y="703.3" font-size="8.4" fill="#ff0000" stroke="#ff0000" stroke-width="0.2" textLength="10.6" lengthAdjust="spacingAndGlyphs">6,5</text>
<text x="640.2" y="691.2" font-size="8.4" fill="#ff0000" stroke="#ff0000" stroke-width="0.2" textLength="4.3" lengthAdjust="spacingAndGlyphs">7</text>
<text x="640.2" y="679.1" font-size="8.4" fill="#ff0000" stroke="#ff0000" stroke-width="0.2" textLength="10.6" lengthAdjust="spacingAndGlyphs">7,5</text>
<text x="640.2" y="667" font-size="8.4" fill="#ff0000" stroke="#ff0000" stroke-width="0.2" textLength="4.3" lengthAdjust="spacingAndGlyphs">8</text>
<text x="640.2" y="654.9" font-size="8.4" fill="#ff0000" stroke="#ff0000" stroke-width="0.2" textLength="10.6" lengthAdjust="spacingAndGlyphs">8,5</text>
<text x="640.2" y="642.9" font-size="8.4" fill="#ff0000" stroke="#ff0000" stroke-width="0.2" textLength="4.3" lengthAdjust="spacingAndGlyphs">9</text>
<text x="640.2" y="630.8" font-size="8.4" fill="#ff0000" stroke="#ff0000" stroke-width="0.2" textLength="10.6" lengthAdjust="spacingAndGlyphs">9,5</text>
<text x="640.2" y="618.7" font-size="8.4" fill="#ff0000" stroke="#ff0000" stroke-width="0.2" textLength="7.7" lengthAdjust="spacingAndGlyphs">10</text>
<text x="640.2" y="606.6" font-size="8.4" fill="#ff0000" stroke="#ff0000" stroke-width="0.2" textLength="14" lengthAdjust="spacingAndGlyphs">10,5</text>
<text x="640.2" y="594.5" font-size="8.4" fill="#ff0000" stroke="#ff0000" stroke-width="0.2" textLength="6.8" lengthAdjust="spacingAndGlyphs">11</text>
<text x="640.2" y="582.4" font-size="8.4" fill="#ff0000" stroke="#ff0000" stroke-width="0.2" textLength="13.1" lengthAdjust="spacingAndGlyphs">11,5</text>
<text x="640.2" y="570.3" font-size="8.4" fill="#ff0000" stroke="#ff0000" stroke-width="0.2" textLength="7.7" lengthAdjust="spacingAndGlyphs">12</text>
<text x="640.2" y="558.3" font-size="8.4" fill="#ff0000" stroke="#ff0000" stroke-width="0.2" textLength="14" lengthAdjust="spacingAndGlyphs">12,5</text>
<text x="640.2" y="546.2" font-size="8.4" fill="#ff0000" stroke="#ff0000" stroke-width="0.2" textLength="7.7" lengthAdjust="spacingAndGlyphs">13</text>
<text x="640.2" y="534.1" font-size="8.4" fill="#ff0000" stroke="#ff0000" stroke-width="0.2" textLength="14" lengthAdjust="spacingAndGlyphs">13,5</text>
<text x="640.2" y="522" font-size="8.4" fill="#ff0000" stroke="#ff0000" stroke-width="0.2" textLength="7.7" lengthAdjust="spacingAndGlyphs">14</text>
<rect x="31" y="510.5" width="2" height="287" fill="#009000"/>
<line x1="26.5" x2="31" y1="793.5" y2="793.5" stroke="#009000" stroke-width="1" shape-rendering="crispEdges"/>
<line x1="28.5" x2="31" y1="788.5" y2="788.5" stroke="#009000" stroke-width="1" shape-rendering="crispEdges"/>
<line x1="28.5" x2="31" y1="784.5" y2="784.5" stroke="#009000" stroke-width="1" shape-rendering="crispEdges"/>
<line x1="28.5" x2="31" y1="779.5" y2="779.5" stroke="#009000" stroke-width="1" shape-rendering="crispEdges"/>
<line x1="26.5" x2="31" y1="775.5" y2="775.5" stroke="#009000" stroke-width="1" shape-rendering="crispEdges"/>
<line x1="28.5" x2="31" y1="770.5" y2="770.5" stroke="#009000" stroke-width="1" shape-rendering="crispEdges"/>
<line x1="28.5" x2="31" y1="766.5" y2="766.5" stroke="#009000" stroke-width="1" shape-rendering="crispEdges"/>
<line x1="28.5" x2="31" y1="761.5" y2="761.5" stroke="#009000" stroke-width="1" shape-rendering="crispEdges"/>
<line x1="26.5" x2="31" y1="757.5" y2="757.5" stroke="#009000" stroke-width="1" shape-rendering="crispEdges"/>
<line x1="28.5" x2="31" y1="752.5" y2="752.5" stroke="#009000" stroke-width="1" shape-rendering="crispEdges"/>
<line x1="28.5" x2="31" y1="748.5" y2="748.5" stroke="#009000" stroke-width="1" shape-rendering="crispEdges"/>
<line x1="28.5" x2="31" y1="743.5" y2="743.5" stroke="#009000" stroke-width="1" shape-rendering="crispEdges"/>
<line x1="26.5" x2="31" y1="739.5" y2="739.5" stroke="#009000" stroke-width="1" shape-rendering="crispEdges"/>
<line x1="28.5" x2="31" y1="734.5" y2="734.5" stroke="#009000" stroke-width="1" shape-rendering="crispEdges"/>
<line x1="28.5" x2="31" y1="730.5" y2="730.5" stroke="#009000" stroke-width="1" shape-rendering="crispEdges"/>
<line x1="28.5" x2="31" y1="725.5" y2="725.5" stroke="#009000" stroke-width="1" shape-rendering="crispEdges"/>
<line x1="26.5" x2="31" y1="721.5" y2="721.5" stroke="#009000" stroke-width="1" shape-rendering="crispEdges"/>
<line x1="28.5" x2="31" y1="716.5" y2="716.5" stroke="#009000" stroke-width="1" shape-rendering="crispEdges"/>
<line x1="28.5" x2="31" y1="712.5" y2="712.5" stroke="#009000" stroke-width="1" shape-rendering="crispEdges"/>
<line x1="28.5" x2="31" y1="707.5" y2="707.5" stroke="#009000" stroke-width="1" shape-rendering="crispEdges"/>
<line x1="26.5" x2="31" y1="702.5" y2="702.5" stroke="#009000" stroke-width="1" shape-rendering="crispEdges"/>
<line x1="28.5" x2="31" y1="698.5" y2="698.5" stroke="#009000" stroke-width="1" shape-rendering="crispEdges"/>
<line x1="28.5" x2="31" y1="693.5" y2="693.5" stroke="#009000" stroke-width="1" shape-rendering="crispEdges"/>
<line x1="28.5" x2="31" y1="689.5" y2="689.5" stroke="#009000" stroke-width="1" shape-rendering="crispEdges"/>
<line x1="26.5" x2="31" y1="684.5" y2="684.5" stroke="#009000" stroke-width="1" shape-rendering="crispEdges"/>
<line x1="28.5" x2="31" y1="680.5" y2="680.5" stroke="#009000" stroke-width="1" shape-rendering="crispEdges"/>
<line x1="28.5" x2="31" y1="675.5" y2="675.5" stroke="#009000" stroke-width="1" shape-rendering="crispEdges"/>
<line x1="28.5" x2="31" y1="671.5" y2="671.5" stroke="#009000" stroke-width="1" shape-rendering="crispEdges"/>
<line x1="26.5" x2="31" y1="666.5" y2="666.5" stroke="#009000" stroke-width="1" shape-rendering="crispEdges"/>
<line x1="28.5" x2="31" y1="662.5" y2="662.5" stroke="#009000" stroke-width="1" shape-rendering="crispEdges"/>
<line x1="28.5" x2="31" y1="657.5" y2="657.5" stroke="#009000" stroke-width="1" shape-rendering="crispEdges"/>
<line x1="28.5" x2="31" y1="653.5" y2="653.5" stroke="#009000" stroke-width="1" shape-rendering="crispEdges"/>
<line x1="26.5" x2="31" y1="648.5" y2="648.5" stroke="#009000" stroke-width="1" shape-rendering="crispEdges"/>
<line x1="28.5" x2="31" y1="644.5" y2="644.5" stroke="#009000" stroke-width="1" shape-rendering="crispEdges"/>
<line x1="28.5" x2="31" y1="639.5" y2="639.5" stroke="#009000" stroke-width="1" shape-rendering="crispEdges"/>
<line x1="28.5" x2="31" y1="635.5" y2="635.5" stroke="#009000" stroke-width="1" shape-rendering="crispEdges"/>
<line x1="26.5" x2="31" y1="630.5" y2="630.5" stroke="#009000" stroke-width="1" shape-rendering="crispEdges"/>
<line x1="28.5" x2="31" y1="626.5" y2="626.5" stroke="#009000" stroke-width="1" shape-rendering="crispEdges"/>
<line x1="28.5" x2="31" y1="621.5" y2="621.5" stroke="#009000" stroke-width="1" shape-rendering="crispEdges"/>
<line x1="28.5" x2="31" y1="617.5" y2="617.5" stroke="#009000" stroke-width="1" shape-rendering="crispEdges"/>
<line x1="26.5" x2="31" y1="612.5" y2="612.5" stroke="#009000" stroke-width="1" shape-rendering="crispEdges"/>
<line x1="28.5" x2="31" y1="607.5" y2="607.5" stroke="#009000" stroke-width="1" shape-rendering="crispEdges"/>
<line x1="28.5" x2="31" y1="603.5" y2="603.5" stroke="#009000" stroke-width="1" shape-rendering="crispEdges"/>
<line x1="28.5" x2="31" y1="598.5" y2="598.5" stroke="#009000" stroke-width="1" shape-rendering="crispEdges"/>
<line x1="26.5" x2="31" y1="594.5" y2="594.5" stroke="#009000" stroke-width="1" shape-rendering="crispEdges"/>
<line x1="28.5" x2="31" y1="589.5" y2="589.5" stroke="#009000" stroke-width="1" shape-rendering="crispEdges"/>
<line x1="28.5" x2="31" y1="585.5" y2="585.5" stroke="#009000" stroke-width="1" shape-rendering="crispEdges"/>
<line x1="28.5" x2="31" y1="580.5" y2="580.5" stroke="#009000" stroke-width="1" shape-rendering="crispEdges"/>
<line x1="26.5" x2="31" y1="576.5" y2="576.5" stroke="#009000" stroke-width="1" shape-rendering="crispEdges"/>
<line x1="28.5" x2="31" y1="571.5" y2="571.5" stroke="#009000" stroke-width="1" shape-rendering="crispEdges"/>
<line x1="28.5" x2="31" y1="567.5" y2="567.5" stroke="#009000" stroke-width="1" shape-rendering="crispEdges"/>
<line x1="28.5" x2="31" y1="562.5" y2="562.5" stroke="#009000" stroke-width="1" shape-rendering="crispEdges"/>
<line x1="26.5" x2="31" y1="558.5" y2="558.5" stroke="#009000" stroke-width="1" shape-rendering="crispEdges"/>
<line x1="28.5" x2="31" y1="553.5" y2="553.5" stroke="#009000" stroke-width="1" shape-rendering="crispEdges"/>
<line x1="28.5" x2="31" y1="549.5" y2="549.5" stroke="#009000" stroke-width="1" shape-rendering="crispEdges"/>
<line x1="28.5" x2="31" y1="544.5" y2="544.5" stroke="#009000" stroke-width="1" shape-rendering="crispEdges"/>
<line x1="26.5" x2="31" y1="540.5" y2="540.5" stroke="#009000" stroke-width="1" shape-rendering="crispEdges"/>
<line x1="28.5" x2="31" y1="535.5" y2="535.5" stroke="#009000" stroke-width="1" shape-rendering="crispEdges"/>
<line x1="28.5" x2="31" y1="531.5" y2="531.5" stroke="#009000" stroke-width="1" shape-rendering="crispEdges"/>
<line x1="28.5" x2="31" y1="526.5" y2="526.5" stroke="#009000" stroke-width="1" shape-rendering="crispEdges"/>
<line x1="26.5" x2="31" y1="522.5" y2="522.5" stroke="#009000" stroke-width="1" shape-rendering="crispEdges"/>
<line x1="28.5" x2="31" y1="517.5" y2="517.5" stroke="#009000" stroke-width="1" shape-rendering="crispEdges"/>
<line x1="28.5" x2="31" y1="512.5" y2="512.5" stroke="#009000" stroke-width="1" shape-rendering="crispEdges"/>
<text x="15.8" y="795" font-size="8.4" fill="#00a400" stroke="#00a400" stroke-width="0.2" textLength="8.6" lengthAdjust="spacingAndGlyphs">60</text>
<text x="15.8" y="776.9" font-size="8.4" fill="#00a400" stroke="#00a400" stroke-width="0.2" textLength="8.6" lengthAdjust="spacingAndGlyphs">62</text>
<text x="15.8" y="758.8" font-size="8.4" fill="#00a400" stroke="#00a400" stroke-width="0.2" textLength="8.6" lengthAdjust="spacingAndGlyphs">64</text>
<text x="15.8" y="740.7" font-size="8.4" fill="#00a400" stroke="#00a400" stroke-width="0.2" textLength="8.6" lengthAdjust="spacingAndGlyphs">66</text>
<text x="15.8" y="722.6" font-size="8.4" fill="#00a400" stroke="#00a400" stroke-width="0.2" textLength="8.6" lengthAdjust="spacingAndGlyphs">68</text>
<text x="15.8" y="704.5" font-size="8.4" fill="#00a400" stroke="#00a400" stroke-width="0.2" textLength="8.6" lengthAdjust="spacingAndGlyphs">70</text>
<text x="15.8" y="686.4" font-size="8.4" fill="#00a400" stroke="#00a400" stroke-width="0.2" textLength="8.6" lengthAdjust="spacingAndGlyphs">72</text>
<text x="15.8" y="668.3" font-size="8.4" fill="#00a400" stroke="#00a400" stroke-width="0.2" textLength="8.6" lengthAdjust="spacingAndGlyphs">74</text>
<text x="15.8" y="650.2" font-size="8.4" fill="#00a400" stroke="#00a400" stroke-width="0.2" textLength="8.6" lengthAdjust="spacingAndGlyphs">76</text>
<text x="15.8" y="632.1" font-size="8.4" fill="#00a400" stroke="#00a400" stroke-width="0.2" textLength="8.6" lengthAdjust="spacingAndGlyphs">78</text>
<text x="15.8" y="614" font-size="8.4" fill="#00a400" stroke="#00a400" stroke-width="0.2" textLength="8.6" lengthAdjust="spacingAndGlyphs">80</text>
<text x="15.8" y="595.9" font-size="8.4" fill="#00a400" stroke="#00a400" stroke-width="0.2" textLength="8.6" lengthAdjust="spacingAndGlyphs">82</text>
<text x="15.8" y="577.8" font-size="8.4" fill="#00a400" stroke="#00a400" stroke-width="0.2" textLength="8.6" lengthAdjust="spacingAndGlyphs">84</text>
<text x="15.8" y="559.7" font-size="8.4" fill="#00a400" stroke="#00a400" stroke-width="0.2" textLength="8.6" lengthAdjust="spacingAndGlyphs">86</text>
<text x="15.8" y="541.6" font-size="8.4" fill="#00a400" stroke="#00a400" stroke-width="0.2" textLength="8.6" lengthAdjust="spacingAndGlyphs">88</text>
<text x="15.8" y="523.5" font-size="8.4" fill="#00a400" stroke="#00a400" stroke-width="0.2" textLength="8.6" lengthAdjust="spacingAndGlyphs">90</text>
<line x1="58.5" x2="62" y1="794.5" y2="794.5" stroke="#1e78e6" stroke-width="1" shape-rendering="crispEdges"/>
<line x1="60" x2="62" y1="724.5" y2="724.5" stroke="#1e78e6" stroke-width="1" shape-rendering="crispEdges"/>
<line x1="60" x2="62" y1="653.5" y2="653.5" stroke="#1e78e6" stroke-width="1" shape-rendering="crispEdges"/>
<line x1="60" x2="62" y1="583.5" y2="583.5" stroke="#1e78e6" stroke-width="1" shape-rendering="crispEdges"/>
<line x1="58.5" x2="62" y1="513.5" y2="513.5" stroke="#1e78e6" stroke-width="1" shape-rendering="crispEdges"/>
<text x="51.7" y="796.4" font-size="8.4" fill="#1e90ff" stroke="#1e90ff" stroke-width="0.2" textLength="4.3" lengthAdjust="spacingAndGlyphs">0</text>
<clipPath id="c3"><rect x="40" y="510.5" width="20" height="20"/></clipPath>
<text clip-path="url(#c3)" x="51.7" y="515.6" font-size="8.4" fill="#1e90ff" stroke="#1e90ff" stroke-width="0.2" textLength="4.3" lengthAdjust="spacingAndGlyphs">5</text>
<line x1="75.5" x2="75.5" y1="798" y2="800" stroke="#5a5a5a" stroke-width="1" shape-rendering="crispEdges"/>
<line x1="86.5" x2="86.5" y1="798" y2="800" stroke="#5a5a5a" stroke-width="1" shape-rendering="crispEdges"/>
<line x1="98.5" x2="98.5" y1="798" y2="800" stroke="#5a5a5a" stroke-width="1" shape-rendering="crispEdges"/>
<line x1="110.5" x2="110.5" y1="798" y2="802" stroke="#8c8c8c" stroke-width="1" shape-rendering="crispEdges"/>
<line x1="122.5" x2="122.5" y1="798" y2="800" stroke="#5a5a5a" stroke-width="1" shape-rendering="crispEdges"/>
<line x1="133.5" x2="133.5" y1="798" y2="800" stroke="#5a5a5a" stroke-width="1" shape-rendering="crispEdges"/>
<line x1="145.5" x2="145.5" y1="798" y2="800" stroke="#5a5a5a" stroke-width="1" shape-rendering="crispEdges"/>
<line x1="157.5" x2="157.5" y1="798" y2="802" stroke="#8c8c8c" stroke-width="1" shape-rendering="crispEdges"/>
<line x1="168.5" x2="168.5" y1="798" y2="800" stroke="#5a5a5a" stroke-width="1" shape-rendering="crispEdges"/>
<line x1="180.5" x2="180.5" y1="798" y2="800" stroke="#5a5a5a" stroke-width="1" shape-rendering="crispEdges"/>
<line x1="192.5" x2="192.5" y1="798" y2="800" stroke="#5a5a5a" stroke-width="1" shape-rendering="crispEdges"/>
<line x1="203.5" x2="203.5" y1="798" y2="802" stroke="#8c8c8c" stroke-width="1" shape-rendering="crispEdges"/>
<line x1="215.5" x2="215.5" y1="798" y2="800" stroke="#5a5a5a" stroke-width="1" shape-rendering="crispEdges"/>
<line x1="227.5" x2="227.5" y1="798" y2="800" stroke="#5a5a5a" stroke-width="1" shape-rendering="crispEdges"/>
<line x1="239.5" x2="239.5" y1="798" y2="800" stroke="#5a5a5a" stroke-width="1" shape-rendering="crispEdges"/>
<line x1="250.5" x2="250.5" y1="798" y2="802" stroke="#8c8c8c" stroke-width="1" shape-rendering="crispEdges"/>
<line x1="262.5" x2="262.5" y1="798" y2="800" stroke="#5a5a5a" stroke-width="1" shape-rendering="crispEdges"/>
<line x1="274.5" x2="274.5" y1="798" y2="800" stroke="#5a5a5a" stroke-width="1" shape-rendering="crispEdges"/>
<line x1="285.5" x2="285.5" y1="798" y2="800" stroke="#5a5a5a" stroke-width="1" shape-rendering="crispEdges"/>
<line x1="297.5" x2="297.5" y1="798" y2="802" stroke="#8c8c8c" stroke-width="1" shape-rendering="crispEdges"/>
<line x1="309.5" x2="309.5" y1="798" y2="800" stroke="#5a5a5a" stroke-width="1" shape-rendering="crispEdges"/>
<line x1="321.5" x2="321.5" y1="798" y2="800" stroke="#5a5a5a" stroke-width="1" shape-rendering="crispEdges"/>
<line x1="332.5" x2="332.5" y1="798" y2="800" stroke="#5a5a5a" stroke-width="1" shape-rendering="crispEdges"/>
<line x1="344.5" x2="344.5" y1="798" y2="802" stroke="#8c8c8c" stroke-width="1" shape-rendering="crispEdges"/>
<line x1="356.5" x2="356.5" y1="798" y2="800" stroke="#5a5a5a" stroke-width="1" shape-rendering="crispEdges"/>
<line x1="367.5" x2="367.5" y1="798" y2="800" stroke="#5a5a5a" stroke-width="1" shape-rendering="crispEdges"/>
<line x1="379.5" x2="379.5" y1="798" y2="800" stroke="#5a5a5a" stroke-width="1" shape-rendering="crispEdges"/>
<line x1="391.5" x2="391.5" y1="798" y2="802" stroke="#8c8c8c" stroke-width="1" shape-rendering="crispEdges"/>
<line x1="403.5" x2="403.5" y1="798" y2="800" stroke="#5a5a5a" stroke-width="1" shape-rendering="crispEdges"/>
<line x1="414.5" x2="414.5" y1="798" y2="800" stroke="#5a5a5a" stroke-width="1" shape-rendering="crispEdges"/>
<line x1="426.5" x2="426.5" y1="798" y2="800" stroke="#5a5a5a" stroke-width="1" shape-rendering="crispEdges"/>
<line x1="438.5" x2="438.5" y1="798" y2="802" stroke="#8c8c8c" stroke-width="1" shape-rendering="crispEdges"/>
<line x1="449.5" x2="449.5" y1="798" y2="800" stroke="#5a5a5a" stroke-width="1" shape-rendering="crispEdges"/>
<line x1="461.5" x2="461.5" y1="798" y2="800" stroke="#5a5a5a" stroke-width="1" shape-rendering="crispEdges"/>
<line x1="473.5" x2="473.5" y1="798" y2="800" stroke="#5a5a5a" stroke-width="1" shape-rendering="crispEdges"/>
<line x1="485.5" x2="485.5" y1="798" y2="802" stroke="#8c8c8c" stroke-width="1" shape-rendering="crispEdges"/>
<line x1="496.5" x2="496.5" y1="798" y2="800" stroke="#5a5a5a" stroke-width="1" shape-rendering="crispEdges"/>
<line x1="508.5" x2="508.5" y1="798" y2="800" stroke="#5a5a5a" stroke-width="1" shape-rendering="crispEdges"/>
<line x1="520.5" x2="520.5" y1="798" y2="800" stroke="#5a5a5a" stroke-width="1" shape-rendering="crispEdges"/>
<line x1="531.5" x2="531.5" y1="798" y2="802" stroke="#8c8c8c" stroke-width="1" shape-rendering="crispEdges"/>
<line x1="543.5" x2="543.5" y1="798" y2="800" stroke="#5a5a5a" stroke-width="1" shape-rendering="crispEdges"/>
<line x1="555.5" x2="555.5" y1="798" y2="800" stroke="#5a5a5a" stroke-width="1" shape-rendering="crispEdges"/>
<line x1="566.5" x2="566.5" y1="798" y2="800" stroke="#5a5a5a" stroke-width="1" shape-rendering="crispEdges"/>
<line x1="578.5" x2="578.5" y1="798" y2="802" stroke="#8c8c8c" stroke-width="1" shape-rendering="crispEdges"/>
<line x1="590.5" x2="590.5" y1="798" y2="800" stroke="#5a5a5a" stroke-width="1" shape-rendering="crispEdges"/>
<line x1="602.5" x2="602.5" y1="798" y2="800" stroke="#5a5a5a" stroke-width="1" shape-rendering="crispEdges"/>
<line x1="613.5" x2="613.5" y1="798" y2="800" stroke="#5a5a5a" stroke-width="1" shape-rendering="crispEdges"/>
<line x1="625.5" x2="625.5" y1="798" y2="802" stroke="#8c8c8c" stroke-width="1" shape-rendering="crispEdges"/>
<text x="111.8" y="818.3" font-size="13" fill="#ffff00" stroke="#ffff00" stroke-width="0.3" text-anchor="middle">02</text>
<text x="158.6" y="818.3" font-size="13" fill="#ffff00" stroke="#ffff00" stroke-width="0.3" text-anchor="middle">04</text>
<text x="205.5" y="818.3" font-size="13" fill="#ffff00" stroke="#ffff00" stroke-width="0.3" text-anchor="middle">06</text>
<text x="252.3" y="818.3" font-size="13" fill="#ffff00" stroke="#ffff00" stroke-width="0.3" text-anchor="middle">08</text>
<text x="299.2" y="818.3" font-size="13" fill="#ffff00" stroke="#ffff00" stroke-width="0.3" text-anchor="middle">10</text>
<text x="346" y="818.3" font-size="13" fill="#ffff00" stroke="#ffff00" stroke-width="0.3" text-anchor="middle">12</text>
<text x="392.8" y="818.3" font-size="13" fill="#ffff00" stroke="#ffff00" stroke-width="0.3" text-anchor="middle">14</text>
<text x="439.7" y="818.3" font-size="13" fill="#ffff00" stroke="#ffff00" stroke-width="0.3" text-anchor="middle">16</text>
<text x="486.5" y="818.3" font-size="13" fill="#ffff00" stroke="#ffff00" stroke-width="0.3" text-anchor="middle">18</text>
<text x="533.4" y="818.3" font-size="13" fill="#ffff00" stroke="#ffff00" stroke-width="0.3" text-anchor="middle">20</text>
<text x="580.2" y="818.3" font-size="13" fill="#ffff00" stroke="#ffff00" stroke-width="0.3" text-anchor="middle">22</text>
<text x="627" y="818.3" font-size="13" fill="#ffff00" stroke="#ffff00" stroke-width="0.3" text-anchor="middle">00</text>
</svg>
</body></html>
